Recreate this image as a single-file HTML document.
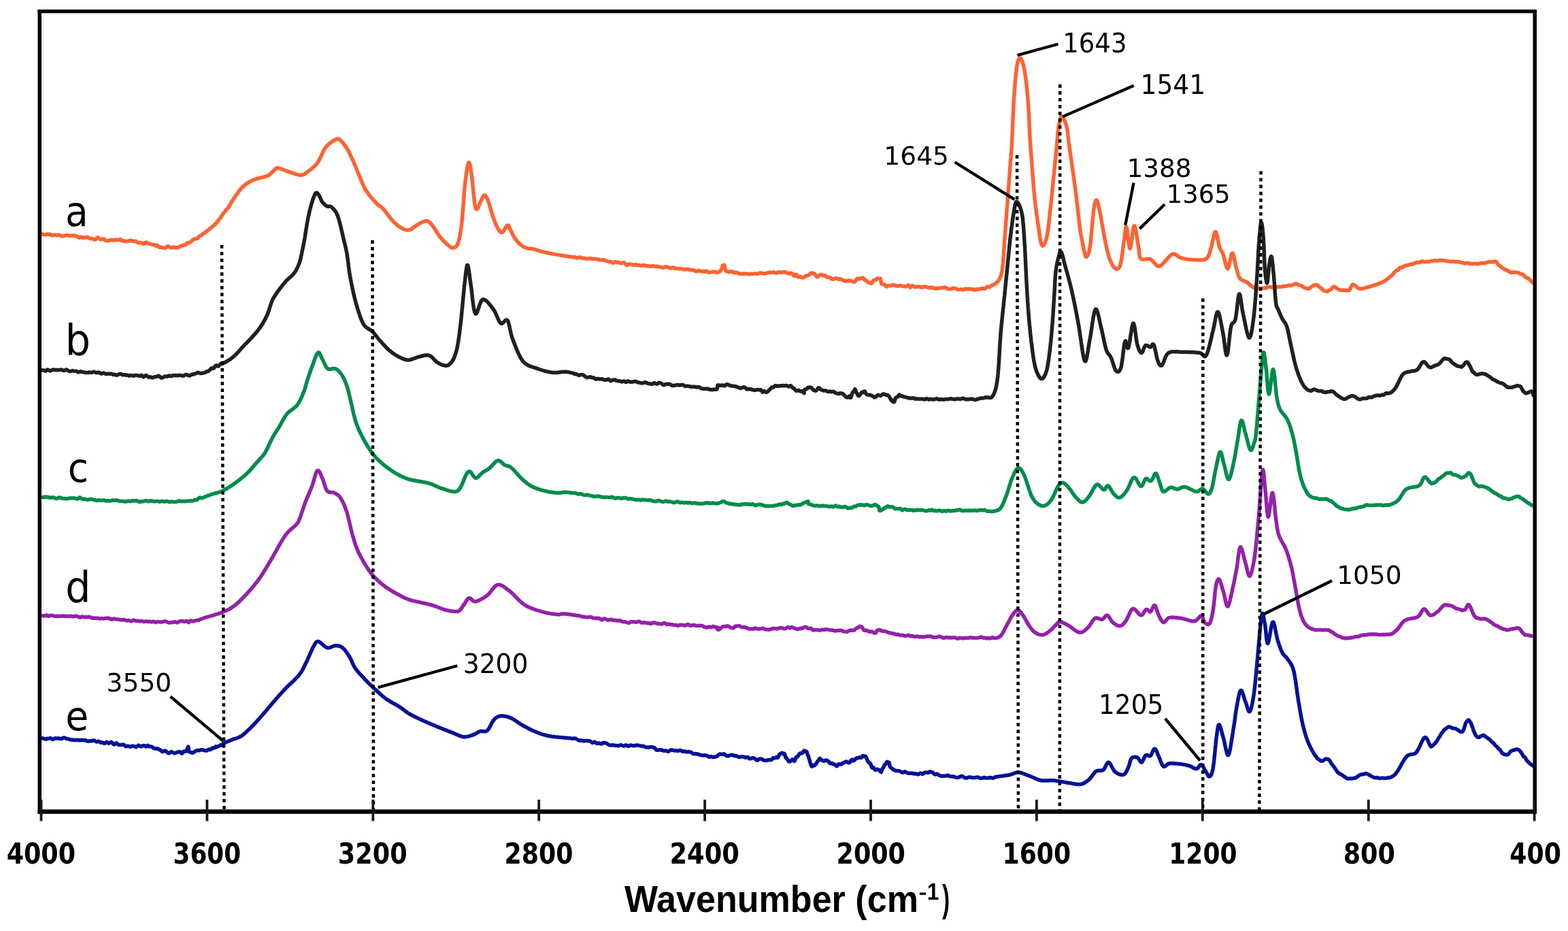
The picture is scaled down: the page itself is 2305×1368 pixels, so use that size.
<!DOCTYPE html><html><head><meta charset="utf-8"><title>FTIR spectra</title><style>html,body{margin:0;padding:0;background:#fff;overflow:hidden}svg{display:block}text{font-family:"Liberation Sans",Arial,sans-serif;fill:#000}</style></head><body>
<svg width="2305" height="1368" viewBox="0 0 2305 1368">
<rect width="2305" height="1368" fill="#fff"/>
<path d="M62.0,344.0 L62.9,344.2 L64.0,344.6 L65.2,344.9 L66.6,344.9 L68.1,344.4 L69.7,344.0 L71.4,344.3 L73.1,344.3 L74.9,344.9 L76.8,346.0 L78.7,345.6 L80.6,345.1 L82.6,345.7 L84.5,345.4 L86.4,345.2 L88.2,345.8 L90.0,346.6 L91.6,347.0 L93.2,346.7 L94.8,346.4 L96.5,346.0 L98.1,345.5 L99.8,345.8 L101.5,346.2 L103.2,346.3 L104.9,346.2 L106.6,346.1 L108.3,345.9 L110.0,346.2 L111.7,346.7 L113.4,347.4 L115.1,348.7 L116.8,349.3 L118.4,348.2 L120.1,348.5 L121.7,349.5 L123.4,349.3 L125.1,349.2 L126.8,348.7 L128.5,348.3 L130.2,349.4 L131.9,350.4 L133.6,350.4 L135.3,350.6 L136.9,351.3 L138.6,352.0 L140.3,352.0 L141.9,350.1 L143.5,348.8 L145.1,350.1 L146.8,351.5 L148.4,351.6 L149.9,351.4 L151.5,351.0 L153.2,351.3 L154.9,352.9 L156.5,353.9 L158.1,353.8 L159.7,353.7 L161.2,353.3 L162.8,352.5 L164.3,352.3 L165.9,353.0 L167.4,352.9 L169.0,352.3 L170.7,352.3 L172.4,352.7 L174.1,352.8 L175.9,351.8 L177.8,352.0 L179.2,353.8 L180.7,354.2 L182.3,353.9 L183.9,354.5 L185.5,354.8 L187.2,354.5 L188.9,354.0 L190.7,353.5 L192.4,353.5 L194.2,353.8 L195.9,354.6 L197.6,354.6 L199.4,354.2 L201.1,355.3 L202.7,356.8 L204.4,356.7 L205.9,356.3 L207.5,356.7 L208.9,357.0 L210.3,358.1 L211.7,358.5 L212.9,356.9 L215.2,356.0 L217.2,357.0 L218.9,358.0 L220.6,358.4 L222.0,358.8 L223.4,359.2 L224.8,359.4 L226.1,359.5 L227.5,360.4 L228.9,361.2 L230.4,360.4 L232.0,360.9 L233.5,363.0 L235.1,363.3 L236.6,363.1 L238.1,363.7 L239.6,363.9 L241.2,364.2 L242.8,364.4 L244.5,363.2 L246.2,361.8 L248.0,362.1 L249.5,363.0 L251.1,363.7 L252.7,364.1 L254.4,363.2 L256.2,363.2 L258.0,364.2 L259.7,364.0 L261.5,363.5 L263.2,363.1 L264.9,361.9 L266.5,361.3 L268.1,361.0 L269.5,360.1 L270.8,360.2 L272.9,359.6 L274.7,357.5 L276.3,356.6 L277.8,356.8 L279.1,356.2 L280.4,355.3 L281.7,354.3 L283.0,352.8 L284.6,351.6 L286.1,351.3 L287.4,350.8 L288.7,350.7 L290.2,350.3 L291.8,348.5 L293.0,347.2 L294.2,346.5 L295.5,346.0 L296.9,345.1 L298.3,343.5 L299.7,342.8 L301.1,341.9 L302.5,340.7 L304.0,339.6 L305.2,338.6 L306.5,337.6 L307.8,336.6 L309.2,335.5 L310.5,334.4 L311.9,333.3 L313.2,332.1 L314.5,331.0 L315.8,329.8 L317.0,328.6 L318.2,327.4 L319.4,326.0 L320.6,324.6 L321.7,323.1 L322.8,321.6 L323.9,320.1 L324.9,318.6 L325.9,317.2 L326.9,315.8 L327.8,314.5 L328.7,313.3 L330.0,311.6 L331.2,310.2 L332.3,308.9 L333.4,307.7 L334.5,306.3 L335.7,304.6 L336.5,303.4 L337.3,302.2 L338.1,300.8 L338.9,299.4 L339.8,298.0 L340.6,296.5 L341.5,295.0 L342.5,293.5 L343.5,292.0 L344.5,290.5 L345.4,289.2 L346.3,287.9 L347.3,286.5 L348.3,285.1 L349.3,283.7 L350.3,282.3 L351.4,280.9 L352.4,279.6 L353.5,278.3 L354.6,277.0 L355.7,275.8 L356.8,274.7 L358.1,273.5 L359.4,272.3 L360.8,271.2 L362.1,270.2 L363.5,269.2 L364.9,268.3 L366.3,267.5 L367.7,266.6 L369.3,265.9 L370.8,265.1 L372.3,264.4 L373.9,263.8 L375.6,263.3 L377.3,262.7 L379.1,262.2 L380.9,261.8 L382.6,261.3 L384.2,260.9 L385.7,260.5 L387.1,260.2 L388.3,259.8 L390.7,259.1 L392.3,258.8 L393.6,258.3 L395.4,257.2 L396.6,256.3 L397.9,255.0 L399.3,253.7 L400.8,252.2 L402.2,250.7 L403.6,249.4 L404.8,248.3 L405.9,247.5 L407.7,246.6 L409.0,246.8 L411.0,247.5 L412.2,247.8 L413.5,248.3 L414.9,248.8 L416.4,249.4 L418.0,250.0 L419.8,250.6 L421.6,251.3 L423.4,251.9 L424.8,252.4 L426.4,252.9 L428.0,253.5 L429.8,254.1 L431.5,254.7 L433.3,255.3 L435.0,255.9 L436.6,256.4 L438.2,256.8 L439.7,257.0 L441.0,257.2 L443.0,257.2 L444.5,257.1 L445.9,256.7 L447.2,256.0 L448.6,255.0 L450.5,253.7 L451.5,253.0 L452.6,252.2 L453.8,251.3 L455.0,250.4 L456.3,249.4 L457.6,248.4 L458.9,247.3 L460.2,246.1 L461.5,244.9 L462.8,243.7 L464.0,242.4 L465.2,241.0 L466.3,239.6 L467.2,238.4 L468.0,237.1 L468.8,235.7 L469.6,234.2 L470.3,232.7 L471.1,231.2 L471.8,229.6 L472.6,228.0 L473.3,226.5 L474.0,224.9 L474.7,223.4 L475.5,221.9 L476.2,220.5 L477.0,219.2 L477.8,217.9 L478.6,216.8 L479.8,215.3 L481.1,213.9 L482.5,212.6 L483.9,211.3 L485.2,210.2 L486.6,209.2 L488.0,208.2 L489.2,207.4 L490.5,206.6 L491.6,206.0 L492.6,205.4 L494.8,204.3 L496.3,203.9 L497.8,204.2 L499.6,205.4 L500.5,206.2 L501.5,207.1 L502.6,208.3 L503.7,209.5 L504.8,210.9 L505.9,212.4 L507.0,213.9 L508.1,215.5 L509.2,217.0 L510.2,218.6 L511.0,219.9 L511.8,221.2 L512.5,222.6 L513.3,224.0 L514.0,225.4 L514.7,226.9 L515.4,228.3 L516.1,229.8 L516.8,231.4 L517.6,232.9 L518.3,234.5 L519.0,236.1 L519.6,237.5 L520.2,238.9 L520.8,240.4 L521.4,241.8 L522.0,243.3 L522.6,244.8 L523.2,246.3 L523.9,247.8 L524.5,249.4 L525.1,250.9 L525.7,252.5 L526.4,254.1 L527.0,255.6 L527.7,257.2 L528.3,258.7 L529.0,260.2 L529.6,261.7 L530.2,263.2 L530.9,264.8 L531.5,266.4 L532.2,267.9 L532.8,269.5 L533.5,271.1 L534.2,272.6 L535.0,274.1 L535.7,275.6 L536.5,277.1 L537.3,278.6 L538.2,280.0 L539.1,281.4 L540.1,282.8 L541.1,284.3 L542.2,285.7 L543.3,287.1 L544.5,288.6 L545.6,290.0 L546.8,291.3 L547.9,292.6 L549.1,293.9 L550.2,295.1 L551.2,296.3 L552.2,297.4 L553.1,298.4 L554.0,299.3 L555.6,300.9 L556.9,301.9 L558.0,302.6 L559.0,303.2 L560.1,303.9 L561.3,304.9 L562.8,306.3 L563.6,307.2 L564.5,308.3 L565.5,309.5 L566.5,310.8 L567.5,312.1 L568.5,313.5 L569.6,314.9 L570.6,316.3 L571.7,317.7 L572.8,319.1 L573.8,320.4 L574.8,321.7 L575.8,322.8 L576.8,323.9 L578.1,325.3 L579.4,326.6 L580.6,327.8 L581.8,328.9 L583.1,330.0 L584.3,331.0 L585.5,332.0 L586.7,332.9 L587.9,333.7 L589.1,334.4 L590.8,335.4 L592.6,336.3 L594.3,337.0 L596.0,337.6 L597.8,338.0 L599.6,338.1 L601.4,337.9 L602.7,337.5 L604.1,336.9 L605.5,336.0 L607.0,335.1 L608.4,334.0 L609.8,332.9 L611.3,331.8 L612.7,330.8 L614.1,329.9 L615.4,329.1 L617.0,328.3 L618.7,327.4 L620.3,326.6 L621.9,325.9 L623.4,325.3 L624.9,324.8 L626.3,324.6 L627.7,324.7 L629.1,325.1 L630.4,325.8 L631.6,326.8 L632.8,328.0 L634.0,329.4 L635.2,330.9 L636.5,332.6 L637.4,333.8 L638.3,335.0 L639.2,336.4 L640.1,337.9 L641.1,339.4 L642.0,341.0 L643.0,342.6 L644.0,344.1 L645.0,345.6 L646.0,347.1 L647.0,348.4 L648.2,349.8 L649.4,351.2 L650.7,352.6 L652.0,354.0 L653.4,355.3 L654.7,356.6 L655.9,357.8 L657.2,358.9 L658.3,359.8 L659.3,360.7 L661.4,362.4 L663.1,363.7 L664.7,364.3 L666.3,364.2 L667.5,363.9 L668.7,363.4 L669.9,362.7 L671.1,361.5 L672.2,359.7 L673.3,357.2 L673.7,356.2 L674.0,355.1 L674.3,353.9 L674.7,352.7 L675.0,351.5 L675.3,350.2 L675.6,348.8 L675.9,347.3 L676.2,345.8 L676.5,344.1 L676.8,342.3 L677.1,340.4 L677.4,338.4 L677.7,336.3 L678.0,334.1 L678.3,331.7 L678.6,329.1 L678.7,327.9 L678.9,326.6 L679.0,325.3 L679.2,323.9 L679.3,322.4 L679.4,320.9 L679.6,319.4 L679.7,317.8 L679.9,316.2 L680.0,314.5 L680.1,312.8 L680.3,311.1 L680.4,309.3 L680.6,307.5 L680.7,305.7 L680.8,303.9 L681.0,302.1 L681.1,300.3 L681.3,298.4 L681.4,296.6 L681.5,294.8 L681.7,293.0 L681.8,291.2 L682.0,289.4 L682.1,287.6 L682.2,285.8 L682.4,284.1 L682.5,282.4 L682.7,280.7 L682.8,279.1 L682.9,277.5 L683.1,275.9 L683.2,274.4 L683.3,273.0 L683.5,271.6 L683.6,270.2 L683.8,268.9 L683.9,267.7 L684.2,265.2 L684.5,262.8 L684.8,260.4 L685.1,258.2 L685.4,256.0 L685.7,253.8 L686.0,251.8 L686.3,249.9 L686.6,248.2 L686.8,246.5 L687.1,245.0 L687.4,243.6 L687.7,242.4 L688.0,241.3 L688.3,240.4 L688.6,239.7 L688.8,239.1 L689.1,238.8 L689.5,238.7 L689.9,239.1 L690.3,239.9 L690.6,241.1 L691.0,242.7 L691.4,244.5 L691.7,246.6 L692.1,248.9 L692.4,251.3 L692.8,253.8 L693.1,256.4 L693.5,258.9 L693.7,260.2 L693.9,261.5 L694.0,263.0 L694.2,264.6 L694.4,266.2 L694.6,267.9 L694.8,269.7 L694.9,271.5 L695.1,273.3 L695.3,275.2 L695.5,277.0 L695.7,278.9 L695.8,280.8 L696.0,282.7 L696.2,284.5 L696.4,286.3 L696.6,288.1 L696.7,289.8 L696.9,291.4 L697.1,293.0 L697.2,294.5 L697.4,295.8 L697.6,297.1 L697.7,298.3 L697.9,299.3 L698.6,303.3 L699.3,305.7 L699.9,307.0 L700.6,307.4 L701.4,307.2 L702.1,306.6 L702.8,305.3 L703.6,303.5 L704.3,301.5 L705.1,299.4 L705.9,297.5 L706.7,295.8 L707.6,294.0 L708.4,292.1 L709.3,290.2 L710.2,288.7 L711.0,287.5 L711.9,287.0 L712.9,287.1 L713.9,287.9 L715.0,289.3 L716.0,291.3 L717.2,294.0 L717.6,295.2 L718.1,296.5 L718.6,297.9 L719.1,299.5 L719.6,301.2 L720.1,302.9 L720.6,304.7 L721.1,306.6 L721.6,308.4 L722.2,310.2 L722.7,312.0 L723.2,313.7 L723.7,315.3 L724.2,316.8 L724.8,318.6 L725.5,320.5 L726.1,322.3 L726.7,324.0 L727.4,325.7 L728.0,327.4 L728.7,329.0 L729.3,330.5 L729.9,331.9 L730.6,333.2 L731.2,334.4 L732.4,336.4 L733.5,338.2 L734.6,339.7 L735.8,340.8 L737.0,341.4 L738.2,341.4 L739.2,340.8 L740.2,339.6 L741.3,338.0 L742.3,336.1 L743.4,334.3 L744.4,332.7 L745.3,331.5 L746.1,330.9 L747.2,331.1 L748.1,332.3 L748.8,334.0 L749.6,336.0 L750.5,337.9 L751.2,339.2 L751.8,340.6 L752.5,342.2 L753.2,343.7 L754.0,345.3 L754.9,346.9 L755.8,348.4 L756.7,349.7 L757.8,351.1 L758.8,352.6 L760.0,354.0 L761.2,355.3 L762.3,356.6 L763.5,357.8 L764.6,358.9 L766.0,360.1 L767.4,361.2 L768.8,362.1 L770.3,362.9 L771.7,363.6 L773.3,364.2 L774.9,364.7 L776.5,365.0 L778.2,365.2 L779.9,365.3 L781.8,365.6 L783.9,366.0 L785.3,366.3 L786.7,366.7 L788.2,367.2 L789.7,367.6 L791.3,368.1 L792.9,368.6 L794.6,369.1 L796.3,369.5 L797.9,370.0 L799.6,370.4 L801.1,370.8 L802.6,371.1 L804.1,371.4 L805.6,371.7 L807.2,372.1 L808.7,372.4 L810.3,372.7 L812.0,373.0 L813.7,373.3 L815.4,373.6 L817.2,373.9 L818.6,374.1 L820.1,374.4 L821.5,374.6 L822.9,374.9 L824.4,375.1 L825.8,375.4 L827.4,375.6 L828.9,375.9 L830.6,376.1 L832.3,376.4 L834.1,376.6 L835.9,376.9 L837.9,377.1 L840.0,377.4 L841.3,377.7 L842.6,378.0 L844.0,377.7 L845.4,377.8 L846.8,378.9 L848.2,379.2 L849.6,378.5 L851.1,378.3 L852.6,378.1 L854.1,378.4 L855.7,379.3 L857.3,379.3 L858.9,379.5 L860.6,380.1 L862.3,380.1 L864.0,379.9 L865.8,379.9 L867.6,379.7 L869.5,379.9 L871.3,380.4 L873.3,380.2 L875.3,380.4 L877.3,380.7 L878.6,380.8 L880.0,381.5 L881.4,381.9 L882.8,381.8 L884.2,381.9 L885.7,382.1 L887.2,381.8 L888.7,381.9 L890.2,383.2 L891.7,383.8 L893.3,383.8 L894.9,384.4 L896.5,384.7 L898.1,384.5 L899.7,385.6 L901.4,386.5 L903.0,385.7 L904.6,384.7 L906.3,385.2 L908.0,385.8 L909.7,385.6 L911.3,386.2 L913.0,386.8 L914.7,386.5 L916.4,385.8 L918.0,386.2 L919.7,388.3 L921.4,389.6 L923.1,388.9 L924.7,388.1 L926.4,388.0 L928.0,388.5 L929.7,389.0 L931.3,389.4 L932.9,389.1 L934.5,388.7 L936.1,389.5 L937.8,389.7 L939.4,389.6 L941.0,389.9 L942.7,390.3 L944.3,390.2 L945.9,389.4 L947.5,389.9 L949.2,390.6 L950.8,390.8 L952.4,391.0 L954.0,391.1 L955.7,391.3 L957.3,391.3 L958.9,390.8 L960.5,390.7 L962.2,391.6 L963.8,391.6 L965.4,391.2 L967.0,391.6 L968.7,392.3 L970.3,392.2 L971.9,392.6 L973.6,393.3 L975.2,393.3 L976.9,392.4 L978.5,391.8 L980.2,392.1 L981.8,392.6 L983.5,393.3 L985.1,394.2 L986.8,393.9 L988.5,393.0 L990.1,393.1 L991.8,394.1 L993.4,394.7 L995.0,394.6 L996.7,394.6 L998.4,394.9 L1000.2,394.8 L1001.9,394.8 L1003.7,395.3 L1005.5,396.0 L1007.3,396.1 L1009.1,395.2 L1011.0,395.4 L1012.8,396.4 L1014.7,396.5 L1016.5,396.6 L1018.3,397.0 L1020.2,396.9 L1022.0,397.8 L1023.8,398.9 L1025.6,398.3 L1027.4,397.4 L1029.1,398.0 L1030.9,398.7 L1032.6,398.6 L1034.3,399.2 L1035.9,399.1 L1037.5,398.1 L1039.1,398.5 L1040.6,399.7 L1042.1,400.4 L1043.5,400.2 L1044.9,399.9 L1046.2,399.8 L1047.5,399.5 L1048.7,399.5 L1049.8,399.2 L1050.9,399.2 L1051.9,400.1 L1055.3,400.2 L1057.8,399.2 L1059.5,397.5 L1060.6,395.2 L1061.3,393.9 L1061.7,393.0 L1062.1,391.0 L1062.6,389.8 L1063.4,389.5 L1064.4,389.2 L1064.9,389.7 L1065.2,391.4 L1065.7,394.0 L1066.5,397.1 L1068.0,398.7 L1070.5,399.4 L1071.5,399.9 L1072.6,399.3 L1073.8,398.8 L1075.0,399.0 L1076.4,399.0 L1077.8,400.1 L1079.2,400.9 L1080.7,400.5 L1082.3,400.4 L1083.9,400.7 L1085.6,401.7 L1087.3,402.7 L1089.1,402.6 L1090.9,402.0 L1092.8,402.5 L1094.6,402.5 L1096.5,401.8 L1098.4,402.3 L1100.4,403.0 L1102.3,402.4 L1104.3,402.3 L1106.3,402.6 L1107.7,402.4 L1109.1,402.1 L1110.7,402.1 L1112.2,402.6 L1113.8,402.4 L1115.4,401.5 L1117.1,401.2 L1118.8,401.2 L1120.6,401.5 L1122.3,401.7 L1124.1,402.1 L1125.9,401.6 L1127.7,401.0 L1129.5,400.6 L1131.3,400.1 L1133.1,400.6 L1134.9,400.4 L1136.7,399.7 L1138.4,400.1 L1140.2,401.1 L1141.9,401.2 L1143.6,400.0 L1145.2,400.0 L1146.9,400.4 L1148.4,400.0 L1150.0,399.9 L1151.4,399.9 L1152.9,399.6 L1154.2,399.5 L1155.5,400.7 L1156.7,400.9 L1157.9,401.2 L1160.5,402.1 L1162.8,401.3 L1164.8,402.0 L1166.6,405.0 L1168.2,405.4 L1169.6,403.3 L1170.9,403.4 L1172.1,405.6 L1173.2,407.1 L1174.3,407.0 L1175.5,406.2 L1176.6,406.3 L1177.9,407.5 L1179.7,408.1 L1181.2,407.8 L1182.6,406.8 L1183.9,405.7 L1185.2,405.1 L1186.6,404.9 L1188.2,404.7 L1190.0,403.3 L1192.2,401.5 L1193.4,400.9 L1194.8,401.2 L1196.2,402.0 L1197.6,402.4 L1199.1,404.2 L1200.7,406.7 L1202.3,406.7 L1204.0,405.1 L1205.7,403.8 L1207.4,403.2 L1209.1,404.2 L1210.8,405.1 L1212.5,404.6 L1214.3,405.8 L1216.0,407.5 L1217.6,407.6 L1219.3,407.4 L1220.9,408.3 L1222.5,409.9 L1224.2,410.3 L1225.8,410.0 L1227.5,409.4 L1229.3,408.7 L1231.0,409.6 L1232.7,410.2 L1234.4,409.7 L1236.1,410.1 L1237.8,411.1 L1239.4,411.9 L1241.0,412.1 L1242.6,413.0 L1244.1,413.4 L1245.6,412.7 L1247.0,412.5 L1248.3,412.1 L1249.5,412.3 L1251.7,412.9 L1253.6,413.5 L1255.3,414.3 L1256.8,413.8 L1258.2,411.9 L1259.6,409.8 L1260.9,409.0 L1262.3,409.9 L1263.8,409.8 L1265.4,409.0 L1267.0,408.3 L1268.6,408.3 L1270.2,410.2 L1271.7,411.7 L1273.3,412.2 L1274.9,413.9 L1276.5,415.1 L1278.1,415.3 L1279.7,416.3 L1281.4,416.2 L1283.1,413.4 L1284.8,411.3 L1286.4,411.5 L1288.1,410.7 L1289.6,409.1 L1291.1,409.6 L1292.4,409.8 L1293.6,409.1 L1294.3,409.7 L1294.9,412.0 L1295.4,415.3 L1296.1,417.3 L1297.2,417.2 L1298.7,417.4 L1301.0,418.8 L1302.1,420.3 L1303.2,421.1 L1304.4,420.6 L1305.6,420.1 L1306.9,420.0 L1308.3,419.5 L1309.7,419.7 L1311.2,419.4 L1312.7,418.4 L1314.3,418.9 L1316.0,419.7 L1317.7,420.0 L1319.5,420.4 L1321.3,420.0 L1323.2,419.4 L1325.1,420.1 L1327.0,420.6 L1329.1,420.7 L1331.1,421.2 L1333.2,420.4 L1335.4,418.8 L1336.7,420.4 L1338.1,422.5 L1339.5,421.3 L1341.0,419.8 L1342.5,420.1 L1344.0,421.1 L1345.5,421.9 L1347.1,421.7 L1348.7,421.2 L1350.4,421.1 L1352.0,421.4 L1353.7,421.9 L1355.4,422.4 L1357.1,421.6 L1358.8,421.0 L1360.5,421.4 L1362.3,421.7 L1364.0,422.3 L1365.8,422.8 L1367.5,422.6 L1369.3,422.2 L1371.1,422.7 L1372.8,423.5 L1374.6,423.7 L1376.3,423.9 L1378.0,423.7 L1379.7,423.4 L1381.4,423.4 L1383.1,423.1 L1384.8,423.0 L1386.4,422.7 L1388.0,422.2 L1389.6,422.4 L1391.2,423.2 L1392.7,424.1 L1394.5,424.8 L1396.3,425.1 L1398.1,424.5 L1399.9,423.7 L1401.7,423.6 L1403.5,423.6 L1405.4,424.2 L1407.2,425.0 L1409.0,425.5 L1410.9,425.5 L1412.7,424.9 L1414.5,425.4 L1416.2,425.8 L1418.0,424.7 L1419.7,424.4 L1421.5,424.7 L1423.2,424.5 L1424.8,424.5 L1426.4,424.7 L1428.0,424.7 L1429.6,424.9 L1431.1,425.7 L1432.6,426.3 L1434.0,425.7 L1435.3,424.7 L1436.7,425.1 L1437.9,425.6 L1439.1,425.1 L1440.2,424.7 L1441.3,424.2 L1444.7,423.8 L1447.2,424.2 L1449.0,423.4 L1450.3,421.7 L1451.4,421.0 L1452.3,421.2 L1453.3,421.8 L1454.6,421.9 L1456.3,420.6 L1457.9,419.3 L1459.4,418.8 L1460.9,418.2 L1462.3,417.3 L1463.7,416.4 L1464.9,415.4 L1466.1,414.3 L1467.1,413.1 L1468.1,411.8 L1469.1,410.4 L1469.9,408.9 L1470.7,407.2 L1471.4,405.2 L1471.8,404.0 L1472.1,402.7 L1472.4,401.3 L1472.7,399.9 L1472.9,398.4 L1473.2,396.9 L1473.4,395.3 L1473.6,393.6 L1473.8,391.9 L1474.0,390.1 L1474.2,388.2 L1474.4,386.2 L1474.5,384.8 L1474.7,383.4 L1474.8,381.9 L1474.9,380.4 L1475.0,378.8 L1475.2,377.2 L1475.3,375.6 L1475.4,373.9 L1475.5,372.2 L1475.6,370.5 L1475.7,368.8 L1475.8,367.1 L1475.9,365.4 L1476.0,363.7 L1476.2,362.0 L1476.3,360.3 L1476.4,358.6 L1476.5,357.0 L1476.6,355.4 L1476.7,353.7 L1476.9,352.1 L1477.0,350.5 L1477.1,348.9 L1477.2,347.2 L1477.3,345.6 L1477.5,344.0 L1477.6,342.3 L1477.7,340.7 L1477.8,339.1 L1478.0,337.5 L1478.1,335.8 L1478.2,334.2 L1478.3,332.6 L1478.5,331.0 L1478.6,329.3 L1478.7,327.7 L1478.8,326.1 L1478.9,324.5 L1479.1,322.8 L1479.2,321.2 L1479.3,319.6 L1479.4,318.0 L1479.6,316.3 L1479.7,314.7 L1479.8,313.1 L1479.9,311.5 L1480.0,309.9 L1480.2,308.2 L1480.3,306.6 L1480.4,305.0 L1480.5,303.4 L1480.7,301.7 L1480.8,300.1 L1480.9,298.5 L1481.0,296.9 L1481.1,295.2 L1481.3,293.6 L1481.4,292.0 L1481.5,290.4 L1481.6,288.7 L1481.8,287.1 L1481.9,285.5 L1482.0,283.8 L1482.1,282.2 L1482.2,280.6 L1482.4,279.0 L1482.5,277.3 L1482.6,275.7 L1482.7,274.1 L1482.9,272.5 L1483.0,270.8 L1483.1,269.2 L1483.2,267.6 L1483.3,266.0 L1483.5,264.3 L1483.6,262.7 L1483.7,261.1 L1483.8,259.5 L1484.0,257.9 L1484.1,256.3 L1484.2,254.6 L1484.3,253.0 L1484.4,251.4 L1484.6,249.8 L1484.7,248.2 L1484.8,246.5 L1484.9,244.9 L1485.1,243.3 L1485.2,241.6 L1485.3,240.0 L1485.4,238.4 L1485.5,236.9 L1485.7,235.4 L1485.8,234.0 L1485.9,232.6 L1486.0,231.3 L1486.1,229.9 L1486.2,228.5 L1486.4,227.1 L1486.5,225.6 L1486.6,224.0 L1486.7,222.4 L1486.8,220.7 L1487.0,218.9 L1487.1,216.9 L1487.2,214.8 L1487.4,212.5 L1487.5,210.0 L1487.6,208.8 L1487.6,207.5 L1487.7,206.1 L1487.8,204.7 L1487.8,203.3 L1487.9,201.8 L1488.0,200.3 L1488.0,198.8 L1488.1,197.2 L1488.2,195.6 L1488.2,193.9 L1488.3,192.3 L1488.4,190.6 L1488.5,188.9 L1488.5,187.1 L1488.6,185.4 L1488.7,183.6 L1488.7,181.8 L1488.8,180.0 L1488.9,178.3 L1489.0,176.5 L1489.0,174.7 L1489.1,172.9 L1489.2,171.1 L1489.3,169.3 L1489.4,167.5 L1489.4,165.7 L1489.5,164.0 L1489.6,162.2 L1489.7,160.5 L1489.8,158.8 L1489.9,157.1 L1489.9,155.5 L1490.0,153.9 L1490.1,152.3 L1490.2,150.7 L1490.3,149.2 L1490.4,147.7 L1490.5,145.8 L1490.6,144.0 L1490.8,142.1 L1490.9,140.2 L1491.0,138.3 L1491.2,136.5 L1491.3,134.6 L1491.4,132.7 L1491.6,130.9 L1491.7,129.0 L1491.8,127.2 L1492.0,125.4 L1492.1,123.6 L1492.3,121.8 L1492.4,120.1 L1492.5,118.4 L1492.7,116.7 L1492.8,115.0 L1493.0,113.4 L1493.1,111.8 L1493.3,110.3 L1493.4,108.8 L1493.6,107.3 L1493.8,105.9 L1493.9,104.6 L1494.1,103.2 L1494.2,102.0 L1494.4,100.8 L1494.5,99.7 L1494.7,98.6 L1495.3,95.0 L1495.9,92.0 L1496.6,89.6 L1497.2,87.8 L1497.9,86.5 L1498.6,85.6 L1499.3,85.3 L1500.0,85.4 L1500.5,85.7 L1501.0,86.3 L1501.5,87.1 L1502.0,88.2 L1502.5,89.5 L1503.0,90.9 L1503.6,92.6 L1504.1,94.5 L1504.6,96.6 L1505.1,98.9 L1505.6,101.3 L1506.1,103.9 L1506.3,105.0 L1506.5,106.2 L1506.7,107.5 L1506.9,108.8 L1507.1,110.1 L1507.3,111.5 L1507.5,112.9 L1507.7,114.4 L1507.9,115.9 L1508.1,117.4 L1508.3,119.0 L1508.5,120.6 L1508.7,122.2 L1508.9,123.8 L1509.1,125.5 L1509.2,127.2 L1509.4,128.9 L1509.6,130.6 L1509.8,132.4 L1510.0,134.1 L1510.1,135.9 L1510.3,137.7 L1510.5,139.4 L1510.6,141.2 L1510.8,143.0 L1511.0,144.7 L1511.1,146.5 L1511.3,148.3 L1511.4,150.0 L1511.5,151.5 L1511.6,153.0 L1511.7,154.6 L1511.8,156.2 L1511.9,157.8 L1512.0,159.4 L1512.1,161.0 L1512.2,162.7 L1512.3,164.4 L1512.4,166.0 L1512.5,167.7 L1512.6,169.4 L1512.7,171.1 L1512.7,172.9 L1512.8,174.6 L1512.9,176.3 L1513.0,178.0 L1513.0,179.7 L1513.1,181.4 L1513.2,183.1 L1513.2,184.8 L1513.3,186.5 L1513.4,188.1 L1513.5,189.8 L1513.5,191.4 L1513.6,193.0 L1513.7,194.6 L1513.7,196.1 L1513.8,197.6 L1513.9,199.1 L1514.0,200.6 L1514.0,202.0 L1514.1,203.4 L1514.2,204.8 L1514.3,206.8 L1514.4,208.8 L1514.6,210.6 L1514.7,212.4 L1514.8,214.2 L1514.9,215.8 L1515.0,217.5 L1515.1,219.1 L1515.3,220.6 L1515.4,222.2 L1515.5,223.7 L1515.6,225.2 L1515.7,226.7 L1515.8,228.2 L1516.0,229.7 L1516.1,231.3 L1516.2,232.8 L1516.3,234.4 L1516.5,236.1 L1516.6,237.8 L1516.8,239.6 L1516.9,241.4 L1517.0,242.9 L1517.1,244.4 L1517.2,246.0 L1517.4,247.5 L1517.5,249.1 L1517.6,250.8 L1517.7,252.4 L1517.9,254.1 L1518.0,255.7 L1518.1,257.4 L1518.2,259.1 L1518.4,260.8 L1518.5,262.5 L1518.6,264.3 L1518.8,266.0 L1518.9,267.7 L1519.0,269.4 L1519.2,271.1 L1519.3,272.8 L1519.4,274.4 L1519.6,276.1 L1519.7,277.8 L1519.9,279.4 L1520.0,281.0 L1520.2,282.5 L1520.3,284.1 L1520.5,285.6 L1520.6,287.1 L1520.8,288.9 L1521.0,290.8 L1521.2,292.5 L1521.4,294.3 L1521.6,296.0 L1521.7,297.7 L1521.9,299.4 L1522.1,301.0 L1522.3,302.7 L1522.5,304.3 L1522.7,305.9 L1522.9,307.5 L1523.2,309.1 L1523.4,310.7 L1523.6,312.3 L1523.8,313.9 L1524.0,315.5 L1524.2,317.1 L1524.5,318.7 L1524.7,320.3 L1525.0,321.9 L1525.2,323.6 L1525.4,325.2 L1525.7,326.9 L1525.9,328.7 L1526.2,330.6 L1526.4,332.5 L1526.7,334.4 L1527.0,336.3 L1527.2,338.3 L1527.5,340.2 L1527.8,342.1 L1528.0,344.0 L1528.3,345.9 L1528.6,347.7 L1528.9,349.5 L1529.2,351.1 L1529.4,352.7 L1529.7,354.2 L1530.0,355.5 L1530.3,356.8 L1530.6,357.9 L1530.9,358.8 L1531.2,359.6 L1531.5,360.2 L1532.3,361.1 L1533.1,361.2 L1534.0,360.7 L1534.8,359.5 L1535.7,357.8 L1536.5,355.7 L1537.4,353.2 L1538.2,350.4 L1538.9,347.4 L1539.1,346.3 L1539.4,345.1 L1539.6,343.9 L1539.8,342.6 L1540.1,341.2 L1540.3,339.8 L1540.5,338.3 L1540.7,336.7 L1540.9,335.1 L1541.2,333.5 L1541.4,331.8 L1541.6,330.1 L1541.8,328.4 L1542.0,326.7 L1542.2,324.9 L1542.4,323.1 L1542.6,321.3 L1542.8,319.5 L1543.0,317.7 L1543.1,315.9 L1543.3,314.1 L1543.5,312.3 L1543.7,310.5 L1543.9,308.7 L1544.1,307.0 L1544.3,305.3 L1544.5,303.7 L1544.7,302.1 L1544.8,300.5 L1545.0,298.9 L1545.2,297.2 L1545.4,295.6 L1545.5,293.9 L1545.7,292.2 L1545.9,290.6 L1546.0,288.9 L1546.2,287.2 L1546.4,285.5 L1546.5,283.8 L1546.7,282.1 L1546.9,280.4 L1547.0,278.7 L1547.2,277.1 L1547.4,275.4 L1547.5,273.7 L1547.7,272.1 L1547.8,270.5 L1548.0,268.8 L1548.1,267.3 L1548.3,265.7 L1548.4,264.1 L1548.6,262.6 L1548.8,261.1 L1548.9,259.6 L1549.1,257.8 L1549.3,255.9 L1549.5,254.2 L1549.6,252.4 L1549.8,250.7 L1550.0,249.0 L1550.1,247.3 L1550.3,245.7 L1550.5,244.0 L1550.6,242.4 L1550.8,240.8 L1551.0,239.2 L1551.1,237.6 L1551.3,236.0 L1551.5,234.4 L1551.6,232.8 L1551.8,231.2 L1551.9,229.6 L1552.1,228.0 L1552.3,226.4 L1552.4,224.8 L1552.6,223.1 L1552.8,221.4 L1552.9,219.7 L1553.1,217.9 L1553.2,216.2 L1553.4,214.4 L1553.6,212.6 L1553.7,210.7 L1553.9,208.9 L1554.0,207.1 L1554.2,205.3 L1554.3,203.5 L1554.5,201.7 L1554.7,200.0 L1554.8,198.3 L1555.0,196.6 L1555.1,195.0 L1555.3,193.4 L1555.5,191.9 L1555.7,190.4 L1555.8,189.0 L1556.0,187.7 L1556.2,186.5 L1556.6,184.0 L1557.0,181.6 L1557.4,179.3 L1557.8,177.3 L1558.3,175.5 L1558.7,174.0 L1559.2,172.7 L1559.7,171.8 L1560.2,171.2 L1560.8,171.0 L1561.4,171.2 L1562.1,171.9 L1562.9,173.0 L1563.7,174.4 L1564.5,176.1 L1565.3,177.9 L1566.1,180.0 L1566.8,182.1 L1567.5,184.3 L1568.1,186.5 L1568.4,187.8 L1568.7,189.0 L1568.9,190.3 L1569.1,191.5 L1569.3,192.8 L1569.5,194.2 L1569.7,195.5 L1569.8,196.9 L1570.0,198.4 L1570.1,200.0 L1570.3,201.7 L1570.5,203.4 L1570.7,205.3 L1570.9,207.3 L1571.2,209.4 L1571.5,211.6 L1571.8,214.0 L1572.0,215.2 L1572.2,216.5 L1572.3,217.9 L1572.5,219.3 L1572.8,220.8 L1573.0,222.3 L1573.2,223.9 L1573.4,225.5 L1573.7,227.1 L1573.9,228.8 L1574.1,230.5 L1574.4,232.3 L1574.6,234.0 L1574.9,235.8 L1575.2,237.6 L1575.4,239.4 L1575.7,241.2 L1575.9,243.0 L1576.2,244.8 L1576.4,246.7 L1576.7,248.5 L1577.0,250.2 L1577.2,252.0 L1577.5,253.8 L1577.7,255.5 L1577.9,257.2 L1578.2,258.8 L1578.4,260.5 L1578.6,262.1 L1578.8,263.6 L1579.1,265.1 L1579.3,266.5 L1579.4,267.9 L1579.6,269.2 L1579.8,270.5 L1580.1,272.8 L1580.4,274.9 L1580.7,276.9 L1580.9,278.8 L1581.1,280.5 L1581.3,282.1 L1581.5,283.7 L1581.7,285.2 L1581.9,286.6 L1582.1,288.0 L1582.2,289.4 L1582.4,290.8 L1582.6,292.2 L1582.7,293.6 L1582.9,295.1 L1583.1,296.6 L1583.3,298.3 L1583.5,300.0 L1583.7,301.5 L1583.9,303.0 L1584.0,304.6 L1584.2,306.2 L1584.4,307.9 L1584.6,309.6 L1584.8,311.2 L1585.0,313.0 L1585.1,314.7 L1585.3,316.4 L1585.5,318.1 L1585.7,319.8 L1585.9,321.5 L1586.1,323.1 L1586.3,324.8 L1586.4,326.4 L1586.6,328.0 L1586.8,329.5 L1587.0,330.9 L1587.2,332.4 L1587.3,333.7 L1587.5,335.0 L1587.8,337.2 L1588.1,339.3 L1588.4,341.2 L1588.7,343.0 L1589.0,344.6 L1589.3,346.2 L1589.6,347.8 L1589.9,349.3 L1590.2,350.7 L1590.5,352.1 L1590.7,353.6 L1591.0,355.0 L1591.4,356.9 L1591.7,358.8 L1592.0,360.7 L1592.4,362.4 L1592.7,364.1 L1593.0,365.7 L1593.3,367.3 L1593.7,368.7 L1594.0,370.0 L1594.6,372.3 L1595.2,374.6 L1595.8,376.5 L1596.4,377.5 L1597.2,377.4 L1597.6,376.9 L1598.1,376.3 L1598.6,375.5 L1599.2,374.5 L1599.7,373.2 L1600.3,371.7 L1600.9,369.8 L1601.4,367.5 L1602.0,364.8 L1602.5,361.6 L1602.7,360.5 L1602.8,359.3 L1603.0,358.1 L1603.1,356.7 L1603.3,355.3 L1603.5,353.8 L1603.6,352.2 L1603.8,350.6 L1603.9,348.9 L1604.1,347.2 L1604.3,345.4 L1604.4,343.6 L1604.6,341.8 L1604.8,339.9 L1604.9,338.1 L1605.1,336.2 L1605.2,334.3 L1605.4,332.4 L1605.6,330.6 L1605.7,328.7 L1605.9,326.9 L1606.0,325.1 L1606.2,323.3 L1606.3,321.6 L1606.5,320.0 L1606.7,318.3 L1606.8,316.8 L1607.0,315.3 L1607.1,313.9 L1607.3,312.5 L1607.4,311.2 L1607.6,310.1 L1607.7,309.0 L1608.2,305.5 L1608.7,302.5 L1609.2,299.9 L1609.7,297.8 L1610.1,296.2 L1610.6,295.0 L1611.1,294.2 L1611.6,293.9 L1612.1,294.0 L1612.5,294.4 L1612.8,295.0 L1613.2,295.9 L1613.6,297.0 L1614.0,298.4 L1614.4,299.9 L1614.8,301.6 L1615.2,303.5 L1615.6,305.5 L1616.0,307.6 L1616.5,309.7 L1616.9,311.9 L1617.4,314.2 L1617.7,315.5 L1617.9,316.8 L1618.2,318.2 L1618.5,319.7 L1618.7,321.2 L1619.0,322.8 L1619.3,324.4 L1619.6,326.1 L1619.9,327.8 L1620.2,329.5 L1620.5,331.3 L1620.8,333.0 L1621.1,334.8 L1621.4,336.5 L1621.7,338.3 L1622.0,340.0 L1622.3,341.8 L1622.6,343.5 L1622.9,345.1 L1623.2,346.8 L1623.5,348.4 L1623.8,349.9 L1624.1,351.4 L1624.4,352.8 L1624.8,354.6 L1625.2,356.5 L1625.5,358.3 L1625.9,360.0 L1626.3,361.8 L1626.7,363.5 L1627.0,365.1 L1627.4,366.8 L1627.8,368.4 L1628.2,370.0 L1628.5,371.5 L1628.9,373.0 L1629.3,374.4 L1629.7,375.8 L1630.1,377.2 L1630.5,378.5 L1631.0,379.7 L1631.4,380.9 L1632.2,383.0 L1633.1,384.9 L1634.0,386.8 L1634.9,388.5 L1635.8,390.1 L1636.7,391.5 L1637.6,392.7 L1638.5,393.7 L1639.4,394.4 L1640.2,394.9 L1641.5,395.3 L1642.7,395.2 L1643.9,394.5 L1645.1,393.1 L1646.2,390.9 L1647.2,387.9 L1647.5,386.9 L1647.8,385.7 L1648.0,384.4 L1648.3,383.0 L1648.6,381.5 L1648.8,379.9 L1649.1,378.3 L1649.3,376.5 L1649.6,374.8 L1649.8,373.0 L1650.1,371.1 L1650.3,369.3 L1650.5,367.4 L1650.8,365.6 L1651.0,363.8 L1651.2,362.0 L1651.5,360.3 L1651.7,358.6 L1651.9,357.0 L1652.1,355.5 L1652.3,354.1 L1652.5,352.8 L1652.8,350.5 L1653.2,348.1 L1653.5,345.7 L1653.7,343.3 L1654.0,341.1 L1654.3,339.0 L1654.5,337.1 L1654.8,335.6 L1655.0,334.4 L1655.3,333.6 L1655.7,333.3 L1656.0,333.5 L1656.2,334.0 L1656.4,334.9 L1656.7,336.1 L1656.9,337.6 L1657.2,339.3 L1657.4,341.3 L1657.7,343.4 L1657.9,345.6 L1658.2,347.9 L1658.4,350.2 L1658.7,352.5 L1659.0,354.7 L1659.2,356.8 L1659.5,358.8 L1659.8,360.6 L1660.1,362.1 L1660.3,363.4 L1660.6,364.3 L1660.9,364.9 L1661.2,365.1 L1661.5,364.8 L1661.8,364.2 L1662.0,363.2 L1662.3,361.9 L1662.6,360.3 L1662.9,358.5 L1663.2,356.5 L1663.5,354.3 L1663.8,352.1 L1664.1,349.7 L1664.4,347.4 L1664.7,345.1 L1665.0,342.8 L1665.3,340.6 L1665.6,338.6 L1665.9,336.8 L1666.2,335.2 L1666.5,333.8 L1666.8,332.8 L1667.1,332.1 L1667.4,331.8 L1667.7,331.9 L1668.1,332.3 L1668.4,333.1 L1668.7,334.1 L1669.1,335.4 L1669.4,336.9 L1669.8,338.6 L1670.1,340.5 L1670.4,342.4 L1670.8,344.5 L1671.1,346.6 L1671.4,348.8 L1671.8,350.9 L1672.1,353.0 L1672.4,355.0 L1672.7,356.9 L1673.0,358.6 L1673.2,360.2 L1673.5,361.6 L1673.9,363.8 L1674.2,365.9 L1674.4,367.9 L1674.5,369.9 L1674.7,371.7 L1674.8,373.5 L1675.1,375.1 L1675.4,376.6 L1675.8,377.9 L1676.3,379.0 L1677.0,380.0 L1678.3,380.9 L1679.8,381.2 L1681.6,381.2 L1683.5,380.9 L1685.4,380.6 L1687.4,380.4 L1689.3,380.4 L1691.0,380.9 L1692.3,381.6 L1693.6,382.7 L1694.9,384.0 L1696.1,385.3 L1697.4,386.8 L1698.6,388.1 L1699.8,389.4 L1701.0,390.4 L1702.1,391.1 L1703.3,391.4 L1704.7,391.2 L1706.1,390.6 L1707.4,389.5 L1708.7,388.3 L1710.0,386.8 L1711.3,385.3 L1712.6,383.9 L1713.9,382.6 L1715.2,381.3 L1716.5,379.9 L1717.8,378.4 L1719.0,376.9 L1720.3,375.5 L1721.7,374.3 L1723.0,373.5 L1724.4,373.0 L1725.8,373.0 L1727.2,373.5 L1728.6,374.3 L1730.0,375.3 L1731.5,376.4 L1733.1,377.4 L1734.8,378.4 L1736.7,379.1 L1738.1,379.5 L1739.5,379.8 L1741.1,380.1 L1742.7,380.4 L1744.3,380.7 L1746.0,380.9 L1747.7,381.2 L1749.4,381.4 L1751.1,381.5 L1752.8,381.6 L1754.4,381.7 L1756.0,381.8 L1757.9,381.9 L1759.8,382.0 L1761.7,382.1 L1763.6,382.1 L1765.5,382.1 L1767.3,382.0 L1769.1,381.8 L1770.7,381.4 L1772.2,380.8 L1773.5,380.0 L1774.5,379.1 L1775.4,378.0 L1776.2,376.7 L1776.9,375.3 L1777.4,373.8 L1778.0,372.1 L1778.5,370.4 L1778.9,368.7 L1779.4,366.9 L1779.9,365.1 L1780.5,363.3 L1781.0,361.8 L1781.4,360.0 L1781.9,358.0 L1782.3,355.9 L1782.8,353.7 L1783.2,351.6 L1783.7,349.4 L1784.1,347.4 L1784.5,345.5 L1785.0,343.9 L1785.4,342.5 L1785.8,341.4 L1786.3,340.7 L1786.7,340.5 L1787.1,340.8 L1787.6,341.5 L1788.0,342.6 L1788.5,344.0 L1788.9,345.8 L1789.4,347.7 L1789.8,349.8 L1790.2,352.0 L1790.7,354.2 L1791.1,356.3 L1791.5,358.4 L1792.0,360.3 L1792.4,361.9 L1792.8,363.3 L1793.6,365.4 L1794.3,366.9 L1795.1,368.2 L1795.8,369.3 L1796.5,370.5 L1797.3,371.9 L1798.1,373.9 L1798.6,375.3 L1799.1,377.0 L1799.6,378.9 L1800.1,381.0 L1800.6,383.2 L1801.1,385.4 L1801.6,387.5 L1802.2,389.5 L1802.7,391.3 L1803.2,392.8 L1803.8,394.0 L1804.3,394.7 L1804.8,394.9 L1805.3,394.5 L1805.8,393.6 L1806.2,392.1 L1806.7,390.3 L1807.2,388.2 L1807.7,385.8 L1808.2,383.4 L1808.7,381.0 L1809.2,378.7 L1809.6,376.6 L1810.1,374.8 L1810.6,373.4 L1811.0,372.5 L1811.5,372.1 L1812.0,372.3 L1812.4,372.9 L1812.8,374.0 L1813.3,375.3 L1813.7,376.9 L1814.2,378.7 L1814.6,380.7 L1815.0,382.8 L1815.5,384.9 L1815.9,386.9 L1816.3,389.0 L1816.7,390.8 L1817.1,392.5 L1817.5,394.0 L1818.1,396.0 L1818.6,398.0 L1819.1,399.8 L1819.5,401.6 L1820.0,403.3 L1820.5,404.8 L1821.1,406.3 L1821.8,407.7 L1822.6,408.9 L1823.8,410.2 L1825.3,411.2 L1826.8,412.0 L1828.5,412.7 L1830.2,413.3 L1831.9,414.1 L1833.5,415.0 L1834.9,416.0 L1836.2,417.2 L1837.4,418.4 L1838.7,419.7 L1840.1,420.9 L1841.6,421.8 L1843.2,422.5 L1845.0,423.6 L1846.3,424.7 L1847.7,424.7 L1849.2,423.9 L1850.8,423.6 L1852.4,423.6 L1854.0,423.7 L1855.7,423.8 L1857.4,423.2 L1859.1,423.0 L1860.9,423.2 L1862.6,422.5 L1864.3,421.5 L1865.9,421.4 L1867.5,421.8 L1869.1,422.0 L1870.8,422.0 L1872.4,422.0 L1874.1,421.5 L1875.8,421.2 L1877.5,421.5 L1879.1,421.6 L1880.8,421.4 L1882.5,421.4 L1884.2,421.3 L1885.8,420.8 L1887.5,420.3 L1889.1,420.4 L1890.8,420.6 L1892.5,420.0 L1894.2,419.2 L1895.9,419.2 L1897.6,419.8 L1899.2,419.2 L1900.9,418.1 L1902.4,417.7 L1904.0,417.1 L1905.4,416.8 L1906.8,417.4 L1908.7,418.3 L1910.4,419.1 L1912.0,419.4 L1913.5,419.8 L1915.0,421.0 L1916.5,422.3 L1917.9,422.9 L1919.4,423.2 L1920.9,423.8 L1922.5,424.2 L1924.0,424.3 L1925.5,423.4 L1927.0,421.9 L1928.6,420.8 L1930.1,419.8 L1931.7,419.0 L1933.3,418.6 L1934.9,418.5 L1936.3,418.7 L1937.7,419.8 L1939.2,421.4 L1940.7,422.5 L1942.3,423.4 L1943.8,425.0 L1945.3,426.7 L1946.7,427.4 L1948.1,427.4 L1949.5,428.1 L1950.7,428.5 L1952.5,427.7 L1954.1,426.4 L1955.7,425.8 L1957.1,424.7 L1958.5,422.8 L1959.8,421.6 L1961.2,421.1 L1962.8,421.7 L1964.3,423.1 L1965.8,424.3 L1967.3,425.0 L1968.7,425.5 L1970.0,426.3 L1971.9,426.5 L1973.6,426.3 L1975.2,426.1 L1976.9,426.3 L1978.6,426.9 L1980.3,427.1 L1982.0,426.9 L1983.6,426.6 L1984.5,425.6 L1985.3,423.6 L1986.1,421.5 L1987.0,419.5 L1987.9,418.3 L1989.0,418.0 L1990.1,418.4 L1991.3,419.3 L1992.6,419.9 L1994.0,421.0 L1995.4,422.6 L1996.9,423.5 L1998.4,424.0 L1999.9,424.3 L2001.4,424.2 L2003.0,424.0 L2004.6,423.7 L2006.4,423.2 L2008.3,422.6 L2010.5,422.0 L2011.8,421.6 L2013.3,421.2 L2014.8,420.8 L2016.4,420.3 L2018.1,419.8 L2019.8,419.2 L2021.5,418.7 L2023.2,418.1 L2024.9,417.5 L2026.5,416.9 L2028.0,416.4 L2029.4,415.8 L2030.7,415.3 L2032.7,414.4 L2034.4,413.5 L2035.8,412.7 L2037.2,411.8 L2038.5,410.9 L2039.9,409.8 L2041.5,408.5 L2042.6,407.4 L2043.7,406.4 L2044.9,405.5 L2046.1,404.8 L2047.3,403.4 L2048.5,401.8 L2049.7,400.5 L2051.0,399.0 L2052.3,397.7 L2053.6,397.3 L2054.9,397.0 L2056.2,395.2 L2057.5,393.6 L2058.8,393.1 L2060.1,393.3 L2061.4,393.1 L2062.8,392.0 L2064.2,390.9 L2065.8,390.5 L2067.4,390.1 L2069.1,389.6 L2071.0,389.4 L2072.3,388.9 L2073.7,388.1 L2075.2,388.2 L2076.7,388.3 L2078.2,387.4 L2079.9,386.4 L2081.5,386.0 L2083.2,385.6 L2084.9,385.7 L2086.6,385.7 L2088.3,384.8 L2090.0,383.9 L2091.6,384.1 L2093.3,384.6 L2094.9,384.9 L2096.4,384.8 L2097.9,384.4 L2099.6,384.3 L2101.3,384.4 L2102.9,383.9 L2104.5,383.4 L2106.0,383.3 L2107.6,383.0 L2109.1,382.8 L2110.6,383.1 L2112.2,383.3 L2113.8,382.9 L2115.4,382.5 L2117.1,382.6 L2118.9,382.4 L2120.8,382.4 L2122.2,382.7 L2123.7,383.0 L2125.3,383.3 L2126.9,383.4 L2128.5,383.5 L2130.2,384.1 L2131.9,384.4 L2133.6,384.2 L2135.3,384.1 L2137.0,384.4 L2138.8,384.7 L2140.5,384.5 L2142.2,384.5 L2143.8,384.8 L2145.5,385.1 L2147.1,385.5 L2148.7,385.9 L2150.2,386.3 L2151.7,386.6 L2153.5,387.0 L2155.3,386.7 L2157.0,386.3 L2158.7,386.8 L2160.4,387.4 L2162.1,387.5 L2163.7,387.5 L2165.3,387.7 L2166.8,387.6 L2168.4,387.3 L2169.9,387.5 L2171.4,387.9 L2172.9,387.7 L2174.4,387.2 L2175.9,387.0 L2177.8,386.6 L2179.6,386.5 L2181.5,386.8 L2183.3,386.5 L2185.1,385.7 L2186.9,385.2 L2188.7,385.0 L2190.3,384.9 L2191.9,384.9 L2193.4,384.9 L2194.8,384.7 L2196.1,384.2 L2198.0,384.1 L2199.5,384.7 L2200.7,386.2 L2201.8,388.1 L2202.8,389.5 L2204.0,390.1 L2205.5,391.1 L2206.8,392.3 L2208.2,393.3 L2209.6,394.1 L2211.1,395.2 L2212.6,396.3 L2214.2,396.5 L2215.7,397.2 L2217.4,398.5 L2219.0,399.5 L2220.5,400.3 L2222.1,400.6 L2223.8,400.1 L2225.5,399.8 L2227.2,400.1 L2228.9,400.4 L2230.6,400.4 L2232.2,400.8 L2233.7,401.6 L2235.1,402.5 L2237.0,402.9 L2238.7,403.3 L2240.3,405.0 L2241.8,406.5 L2243.2,407.5 L2244.6,408.2 L2245.9,408.5 L2247.4,409.7 L2248.8,411.0 L2250.1,412.4 L2251.3,413.6 L2252.3,414.6 L2253.0,415.3" fill="none" stroke="#FF6232" stroke-width="5.5" stroke-linejoin="round" stroke-linecap="round"/>
<path d="M61.6,544.1 L62.5,544.1 L63.5,544.1 L64.6,544.1 L65.8,544.7 L67.1,545.2 L68.5,543.9 L70.0,543.0 L71.6,544.0 L73.2,545.0 L74.9,544.6 L76.6,543.6 L78.4,543.0 L80.2,543.5 L82.1,543.7 L84.0,543.5 L85.9,543.8 L87.8,543.4 L89.7,543.1 L91.6,543.8 L93.4,544.6 L95.3,544.1 L97.1,543.0 L98.9,543.8 L100.4,544.9 L101.9,545.4 L103.5,545.7 L105.0,545.1 L106.6,544.7 L108.2,545.1 L109.8,545.4 L111.4,545.1 L113.0,545.6 L114.6,546.8 L116.3,546.8 L117.9,545.8 L119.6,546.0 L121.2,546.7 L122.9,546.7 L124.5,547.3 L126.2,547.6 L127.9,547.6 L129.5,547.5 L131.2,547.0 L132.8,547.3 L134.5,547.5 L136.1,546.8 L137.8,546.3 L139.4,546.7 L141.1,547.6 L142.7,547.8 L144.3,547.0 L145.9,547.2 L147.6,548.5 L149.2,549.2 L150.8,548.5 L152.5,548.0 L154.1,548.6 L155.7,549.5 L157.3,549.5 L159.0,549.1 L160.6,549.3 L162.2,549.2 L163.8,549.2 L165.5,550.2 L167.1,550.5 L168.7,550.3 L170.3,551.1 L172.0,551.3 L173.6,550.3 L175.2,549.7 L176.8,549.4 L178.5,549.8 L180.1,550.9 L181.7,550.7 L183.4,550.6 L185.0,551.4 L186.6,551.1 L188.2,551.5 L189.8,552.3 L191.5,551.6 L193.1,551.5 L194.7,552.1 L196.3,552.2 L198.0,551.8 L199.6,551.3 L201.2,551.6 L202.8,551.9 L204.4,552.3 L206.1,552.4 L207.7,551.3 L209.3,552.4 L210.9,554.0 L212.6,552.7 L214.2,551.4 L215.8,551.9 L217.4,553.6 L219.0,554.4 L220.7,553.8 L222.3,554.1 L223.9,555.1 L225.5,554.7 L227.2,553.7 L228.8,553.7 L230.4,553.6 L232.0,552.3 L233.7,552.2 L235.4,554.1 L237.1,555.3 L238.8,554.8 L240.6,554.0 L242.3,553.0 L244.1,553.0 L245.8,553.3 L247.6,552.3 L249.4,552.0 L251.1,552.9 L252.9,552.4 L254.6,551.5 L256.3,551.7 L258.0,551.5 L259.7,551.8 L261.3,551.9 L262.9,551.4 L264.5,551.6 L266.0,551.8 L267.5,551.9 L269.0,552.2 L270.4,551.9 L271.7,551.0 L273.1,550.4 L274.3,550.6 L276.7,551.7 L278.9,552.1 L280.9,550.7 L282.7,550.0 L284.3,550.2 L285.9,549.3 L287.3,548.8 L288.8,548.4 L290.2,547.5 L291.6,547.3 L293.0,548.1 L294.6,548.5 L296.2,548.4 L297.8,548.2 L299.3,547.9 L300.9,547.6 L302.5,546.6 L304.1,545.8 L305.6,545.7 L307.2,544.8 L308.8,543.3 L310.3,541.4 L311.9,540.8 L313.5,541.5 L315.1,540.1 L316.6,537.6 L318.2,536.9 L319.7,538.0 L321.2,538.1 L322.7,536.2 L324.2,534.7 L325.7,534.7 L327.2,534.5 L328.7,533.6 L330.2,532.8 L331.7,532.0 L333.1,531.1 L334.6,530.3 L336.0,529.4 L337.4,528.5 L338.8,527.6 L340.1,526.6 L341.4,525.6 L342.6,524.6 L343.8,523.5 L345.0,522.5 L346.1,521.4 L347.2,520.3 L348.3,519.1 L349.4,518.0 L350.5,516.8 L351.6,515.6 L352.7,514.3 L353.9,513.0 L355.1,511.7 L356.3,510.4 L357.6,509.0 L358.6,507.9 L359.7,506.8 L360.7,505.7 L361.9,504.6 L363.0,503.4 L364.1,502.2 L365.3,501.0 L366.5,499.7 L367.7,498.5 L368.9,497.2 L370.1,496.0 L371.2,494.7 L372.4,493.4 L373.5,492.2 L374.6,490.9 L375.7,489.7 L376.7,488.5 L377.7,487.3 L378.7,486.1 L379.6,484.9 L380.7,483.4 L381.8,481.9 L382.9,480.4 L383.8,479.0 L384.8,477.5 L385.7,476.1 L386.6,474.7 L387.4,473.2 L388.2,471.8 L389.0,470.4 L389.7,468.9 L390.5,467.5 L391.2,466.0 L392.0,464.5 L392.7,463.0 L393.4,461.6 L393.9,460.1 L394.5,458.6 L395.0,457.1 L395.5,455.6 L395.9,454.1 L396.4,452.6 L396.8,451.1 L397.3,449.6 L397.8,448.0 L398.3,446.5 L398.8,445.0 L399.4,443.5 L400.0,441.9 L400.7,440.4 L401.5,438.9 L402.3,437.5 L403.1,436.2 L404.0,434.7 L404.9,433.3 L405.9,431.9 L406.8,430.4 L407.9,429.0 L408.9,427.5 L410.0,426.1 L411.0,424.7 L412.1,423.3 L413.2,421.9 L414.2,420.6 L415.2,419.3 L416.2,418.1 L417.2,416.9 L418.1,415.8 L419.0,414.7 L420.4,413.1 L421.7,411.7 L423.1,410.4 L424.3,409.2 L425.6,408.1 L426.8,407.1 L428.0,406.0 L429.1,405.0 L430.2,404.0 L431.2,402.8 L432.2,401.6 L433.2,400.2 L434.2,398.7 L435.1,397.3 L435.9,395.8 L436.7,394.3 L437.4,392.7 L438.1,391.2 L438.8,389.6 L439.4,388.1 L440.0,386.5 L440.6,384.9 L441.0,383.3 L441.5,381.8 L441.9,380.2 L442.2,378.6 L442.6,376.9 L442.9,375.3 L443.3,373.5 L443.6,371.8 L444.0,370.0 L444.3,368.5 L444.7,366.9 L445.0,365.4 L445.3,363.8 L445.7,362.2 L446.0,360.5 L446.3,358.9 L446.7,357.2 L447.0,355.4 L447.3,353.7 L447.7,351.9 L448.0,350.0 L448.3,348.5 L448.5,346.9 L448.8,345.3 L449.0,343.7 L449.3,342.0 L449.5,340.3 L449.8,338.6 L450.0,336.9 L450.3,335.2 L450.6,333.4 L450.8,331.7 L451.1,330.0 L451.4,328.3 L451.7,326.6 L452.0,325.0 L452.3,323.4 L452.6,321.7 L453.0,320.0 L453.3,318.4 L453.7,316.7 L454.0,315.0 L454.4,313.4 L454.8,311.7 L455.1,310.1 L455.5,308.5 L455.9,306.9 L456.3,305.4 L456.7,303.9 L457.1,302.4 L457.5,301.0 L458.1,299.1 L458.7,297.1 L459.3,295.1 L459.9,293.2 L460.6,291.3 L461.2,289.5 L461.9,287.9 L462.5,286.4 L463.1,285.2 L463.7,284.2 L464.3,283.5 L465.9,283.2 L467.4,284.7 L468.8,286.9 L470.0,289.0 L470.8,290.4 L471.4,291.9 L472.0,293.5 L472.6,295.0 L473.5,296.5 L474.7,297.9 L476.1,299.4 L477.6,300.8 L479.1,302.0 L480.5,303.0 L482.1,303.4 L483.7,303.2 L485.3,303.3 L487.2,304.3 L488.0,305.0 L488.9,305.8 L489.8,306.7 L490.7,307.7 L491.7,308.8 L492.7,310.0 L493.7,311.5 L494.6,313.2 L495.6,315.2 L496.5,317.5 L496.9,318.7 L497.3,319.9 L497.8,321.3 L498.2,322.8 L498.7,324.3 L499.1,326.0 L499.5,327.6 L500.0,329.4 L500.4,331.1 L500.9,332.9 L501.3,334.8 L501.7,336.6 L502.1,338.4 L502.6,340.2 L503.0,342.0 L503.4,343.8 L503.8,345.5 L504.1,347.1 L504.5,348.7 L504.8,350.2 L505.2,351.7 L505.5,353.0 L506.0,355.1 L506.5,356.9 L506.9,358.6 L507.3,360.2 L507.6,361.6 L508.0,363.0 L508.3,364.4 L508.6,365.8 L508.9,367.2 L509.2,368.7 L509.5,370.3 L509.9,372.1 L510.2,374.0 L510.4,375.3 L510.6,376.7 L510.8,378.1 L511.0,379.6 L511.2,381.1 L511.4,382.6 L511.6,384.1 L511.8,385.7 L512.0,387.2 L512.2,388.9 L512.3,390.5 L512.5,392.1 L512.8,393.8 L513.0,395.5 L513.2,397.2 L513.4,399.0 L513.7,400.7 L514.0,402.5 L514.3,404.2 L514.6,406.0 L514.9,407.4 L515.1,408.9 L515.4,410.4 L515.7,412.0 L516.0,413.5 L516.3,415.1 L516.7,416.7 L517.0,418.4 L517.3,420.0 L517.7,421.6 L518.0,423.3 L518.4,425.0 L518.7,426.6 L519.1,428.3 L519.4,429.9 L519.8,431.6 L520.2,433.2 L520.6,434.8 L521.0,436.4 L521.3,438.0 L521.7,439.5 L522.1,441.0 L522.5,442.5 L522.9,444.0 L523.3,445.4 L523.8,447.2 L524.3,448.9 L524.8,450.7 L525.3,452.4 L525.8,454.1 L526.4,455.9 L526.9,457.6 L527.4,459.3 L528.0,460.9 L528.5,462.5 L529.1,464.1 L529.6,465.7 L530.2,467.2 L530.8,468.6 L531.3,470.0 L531.9,471.4 L532.5,472.6 L533.1,473.9 L533.7,475.0 L534.3,476.1 L535.5,478.0 L536.8,479.5 L538.2,480.8 L539.5,481.8 L540.9,482.7 L542.3,483.5 L543.6,484.3 L545.0,485.1 L546.3,486.0 L547.5,487.1 L548.7,488.3 L549.7,489.5 L550.7,490.8 L551.7,492.0 L552.7,493.3 L553.7,494.6 L554.7,496.0 L555.8,497.3 L557.0,498.8 L558.4,500.3 L559.4,501.4 L560.4,502.5 L561.4,503.6 L562.5,504.8 L563.6,506.1 L564.8,507.3 L565.9,508.6 L567.1,509.8 L568.3,511.1 L569.6,512.3 L570.8,513.5 L572.1,514.6 L573.4,515.8 L574.7,516.8 L576.0,517.8 L577.3,518.8 L578.7,519.7 L580.2,520.7 L581.6,521.6 L583.1,522.5 L584.7,523.4 L586.2,524.3 L587.7,525.1 L589.3,525.8 L590.8,526.5 L592.3,527.1 L593.7,527.7 L595.2,528.2 L596.6,528.5 L597.9,528.8 L599.7,529.0 L601.4,528.9 L603.0,528.7 L604.7,528.2 L606.3,527.7 L607.8,527.1 L609.4,526.5 L610.9,525.9 L612.4,525.3 L613.9,524.8 L615.4,524.4 L617.2,524.0 L619.0,523.5 L620.8,523.0 L622.5,522.5 L624.2,522.2 L625.9,521.9 L627.6,521.8 L629.2,521.9 L630.8,522.2 L632.2,522.8 L633.5,523.7 L634.9,524.8 L636.1,526.0 L637.4,527.4 L638.7,528.7 L640.0,530.1 L641.3,531.3 L642.6,532.4 L644.0,533.2 L645.6,534.0 L647.3,534.9 L649.1,535.7 L650.9,536.4 L652.7,536.9 L654.4,537.2 L656.1,537.3 L657.8,537.0 L659.3,536.4 L660.3,535.7 L661.3,534.9 L662.2,534.0 L663.1,533.0 L664.0,531.8 L664.9,530.5 L665.8,529.0 L666.6,527.5 L667.4,525.8 L668.2,524.0 L668.9,522.0 L669.6,520.0 L670.3,517.8 L670.6,516.6 L671.0,515.4 L671.3,514.2 L671.6,512.9 L671.9,511.7 L672.2,510.3 L672.4,509.0 L672.7,507.6 L673.0,506.2 L673.2,504.8 L673.5,503.3 L673.7,501.8 L673.9,500.2 L674.2,498.6 L674.4,497.0 L674.6,495.3 L674.9,493.6 L675.1,491.9 L675.3,490.1 L675.6,488.2 L675.8,486.3 L676.0,484.4 L676.3,482.4 L676.5,480.4 L676.8,478.3 L677.0,477.0 L677.1,475.6 L677.3,474.2 L677.5,472.7 L677.6,471.2 L677.8,469.7 L678.0,468.1 L678.1,466.5 L678.3,464.8 L678.5,463.1 L678.6,461.4 L678.8,459.7 L679.0,457.9 L679.1,456.1 L679.3,454.3 L679.5,452.5 L679.7,450.7 L679.8,448.9 L680.0,447.1 L680.2,445.3 L680.3,443.5 L680.5,441.7 L680.7,439.9 L680.8,438.1 L681.0,436.3 L681.2,434.5 L681.3,432.8 L681.5,431.1 L681.7,429.4 L681.8,427.8 L682.0,426.2 L682.1,424.6 L682.3,423.0 L682.4,421.5 L682.6,420.1 L682.7,418.7 L682.9,417.3 L683.0,416.0 L683.1,414.8 L683.3,413.6 L683.4,412.5 L683.8,409.4 L684.1,406.5 L684.4,403.8 L684.7,401.3 L685.0,399.0 L685.3,396.9 L685.5,395.0 L685.8,393.4 L686.0,392.1 L686.3,391.0 L686.5,390.2 L686.8,389.7 L687.1,389.4 L687.4,389.5 L687.6,389.8 L687.9,390.4 L688.1,391.2 L688.4,392.3 L688.6,393.6 L688.9,395.0 L689.1,396.6 L689.4,398.4 L689.6,400.3 L689.9,402.2 L690.2,404.3 L690.4,406.4 L690.7,408.5 L691.0,410.7 L691.3,412.9 L691.6,415.0 L691.9,417.1 L692.2,419.1 L692.4,420.5 L692.6,422.1 L692.9,423.7 L693.1,425.5 L693.3,427.3 L693.5,429.2 L693.7,431.1 L694.0,433.1 L694.2,435.1 L694.4,437.1 L694.6,439.1 L694.9,441.1 L695.1,443.1 L695.4,445.0 L695.6,446.9 L695.9,448.8 L696.1,450.5 L696.4,452.2 L696.7,453.7 L696.9,455.2 L697.2,456.5 L697.5,457.7 L697.8,458.7 L698.1,459.6 L698.5,460.3 L698.8,460.8 L699.4,461.2 L700.1,460.8 L700.8,459.8 L701.5,458.4 L702.2,456.5 L702.9,454.4 L703.7,452.1 L704.5,449.7 L705.3,447.4 L706.1,445.2 L707.0,443.3 L707.9,441.7 L708.8,440.6 L709.7,440.0 L710.7,439.9 L711.9,440.2 L713.0,440.8 L714.3,441.6 L715.5,442.6 L716.8,443.8 L718.0,445.2 L719.3,446.7 L720.5,448.2 L721.8,449.8 L722.9,451.3 L724.0,452.8 L725.1,454.2 L726.0,455.5 L726.9,457.0 L727.8,458.7 L728.6,460.4 L729.4,462.2 L730.2,464.0 L731.0,465.8 L731.7,467.5 L732.4,469.2 L733.2,470.7 L733.9,472.1 L734.6,473.3 L735.4,474.3 L736.1,475.0 L737.8,475.4 L739.5,474.3 L741.2,472.4 L742.8,470.7 L744.4,469.9 L745.9,470.7 L746.4,471.5 L746.9,472.4 L747.3,473.6 L747.7,474.8 L748.1,476.3 L748.5,477.8 L748.8,479.4 L749.2,481.2 L749.6,483.0 L750.0,484.8 L750.4,486.7 L750.8,488.7 L751.3,490.6 L751.8,492.5 L752.4,494.4 L752.9,496.3 L753.6,498.1 L754.1,499.5 L754.7,501.0 L755.3,502.5 L755.8,504.0 L756.4,505.6 L757.1,507.3 L757.7,508.9 L758.4,510.6 L759.0,512.3 L759.7,513.9 L760.4,515.6 L761.1,517.2 L761.9,518.8 L762.6,520.4 L763.4,522.0 L764.1,523.5 L764.9,524.9 L765.7,526.3 L766.5,527.6 L767.3,528.8 L768.2,530.0 L769.0,531.0 L770.3,532.4 L771.6,533.6 L773.0,534.7 L774.4,535.6 L775.8,536.5 L777.3,537.2 L778.8,537.9 L780.3,538.4 L781.8,539.0 L783.4,539.5 L784.9,540.0 L786.4,540.4 L787.9,540.9 L789.4,541.4 L790.9,541.9 L792.5,542.5 L794.0,543.0 L795.6,543.5 L797.2,544.0 L798.7,544.5 L800.3,545.0 L801.9,545.4 L803.4,545.8 L805.0,546.1 L806.6,546.4 L808.1,546.7 L809.7,547.0 L811.2,547.2 L812.8,547.4 L814.4,547.5 L816.1,547.5 L817.6,547.5 L819.2,547.4 L820.8,547.2 L822.3,547.0 L823.9,546.8 L825.5,546.6 L827.2,546.5 L828.9,546.4 L830.6,546.3 L832.4,546.4 L834.3,546.6 L835.7,546.8 L837.1,547.1 L838.5,547.4 L839.9,547.7 L841.3,547.9 L842.8,548.5 L844.2,549.4 L845.7,549.7 L847.3,549.6 L848.8,550.4 L850.4,551.5 L852.0,551.3 L853.7,550.7 L855.4,550.4 L857.2,550.9 L859.1,552.3 L860.9,553.7 L862.9,554.9 L864.2,554.6 L865.6,554.1 L867.0,554.0 L868.5,553.9 L870.0,554.8 L871.5,555.1 L873.0,555.1 L874.6,556.4 L876.2,557.2 L877.8,556.6 L879.4,556.5 L881.0,556.9 L882.7,557.1 L884.3,556.8 L886.0,557.2 L887.7,558.1 L889.4,558.3 L891.0,558.3 L892.7,557.7 L894.4,557.1 L896.1,558.6 L897.7,559.8 L899.4,559.1 L901.0,558.5 L902.7,557.9 L904.3,557.9 L905.9,559.4 L907.6,559.7 L909.2,559.7 L910.9,560.0 L912.5,560.3 L914.2,561.0 L915.8,560.4 L917.5,559.9 L919.1,561.3 L920.8,561.4 L922.4,559.9 L924.1,560.2 L925.8,561.0 L927.4,561.3 L929.1,561.2 L930.7,560.9 L932.4,560.6 L934.0,560.4 L935.7,560.9 L937.3,561.7 L939.0,562.1 L940.6,562.3 L942.3,562.8 L943.9,563.2 L945.6,562.7 L947.2,561.9 L948.9,561.8 L950.5,562.5 L952.2,563.4 L953.8,563.8 L955.4,563.8 L956.9,564.2 L958.5,564.5 L960.1,563.4 L961.6,562.7 L963.2,563.2 L964.8,564.3 L966.3,564.1 L967.9,562.7 L969.5,562.2 L971.0,562.8 L972.6,563.6 L974.3,565.0 L975.9,565.9 L977.5,565.1 L979.2,564.3 L980.9,564.6 L982.6,564.4 L984.4,564.3 L986.2,565.4 L988.0,566.6 L989.9,566.7 L991.8,566.2 L993.2,566.0 L994.7,565.8 L996.2,565.4 L997.8,565.9 L999.4,566.1 L1001.1,565.8 L1002.8,565.4 L1004.5,565.7 L1006.2,567.1 L1008.0,567.5 L1009.8,567.1 L1011.6,567.4 L1013.4,567.7 L1015.2,568.2 L1017.0,568.3 L1018.9,568.2 L1020.7,568.2 L1022.5,568.7 L1024.3,569.2 L1026.1,568.7 L1027.8,568.8 L1029.6,570.1 L1031.3,570.9 L1033.0,571.1 L1034.6,571.5 L1036.2,571.2 L1037.8,571.2 L1039.3,571.3 L1040.7,571.2 L1042.1,572.0 L1043.5,572.4 L1044.7,572.4 L1045.9,572.7 L1047.1,572.7 L1048.1,572.3 L1049.1,572.1 L1052.7,572.4 L1054.3,571.2 L1054.7,568.6 L1054.7,566.8 L1054.9,566.0 L1056.1,566.0 L1059.1,566.2 L1060.1,566.4 L1061.3,566.2 L1062.6,565.9 L1063.9,566.7 L1065.4,567.0 L1066.9,565.7 L1068.5,564.7 L1070.2,565.1 L1071.9,565.9 L1073.7,566.6 L1075.5,567.1 L1077.3,567.3 L1079.2,567.5 L1081.1,567.7 L1083.0,568.4 L1084.9,568.9 L1086.8,569.9 L1088.7,570.6 L1090.6,569.7 L1092.4,569.1 L1094.2,569.0 L1096.0,569.9 L1097.7,571.8 L1099.3,571.9 L1100.9,571.2 L1102.4,571.9 L1103.8,572.0 L1105.1,572.1 L1106.3,572.8 L1108.9,573.4 L1111.3,573.1 L1113.4,572.6 L1115.2,572.8 L1116.9,573.0 L1118.4,572.8 L1119.8,574.5 L1121.1,576.3 L1122.4,575.4 L1123.7,574.6 L1125.0,575.8 L1126.4,576.6 L1128.0,575.8 L1129.5,574.5 L1130.9,572.9 L1132.3,571.6 L1133.6,570.3 L1134.8,568.9 L1136.2,569.0 L1137.6,568.7 L1139.1,566.9 L1140.7,566.6 L1142.2,567.4 L1143.7,567.2 L1145.3,567.0 L1146.9,567.1 L1148.6,566.7 L1150.3,566.6 L1152.1,566.8 L1153.8,566.8 L1155.6,566.5 L1157.3,566.7 L1159.0,567.9 L1160.7,567.7 L1162.3,566.6 L1163.9,568.4 L1165.6,570.1 L1167.3,570.8 L1169.1,573.1 L1170.8,574.4 L1172.5,573.8 L1174.1,573.6 L1175.7,574.7 L1177.1,575.1 L1178.5,574.8 L1179.7,575.2 L1180.8,576.7 L1182.2,577.7 L1182.1,576.4 L1181.8,574.1 L1182.8,572.6 L1186.5,571.2 L1187.5,569.5 L1188.6,569.2 L1189.8,569.2 L1191.1,569.2 L1192.5,569.6 L1194.0,570.8 L1195.6,573.1 L1197.3,573.9 L1199.0,574.3 L1200.8,573.2 L1202.7,569.9 L1204.5,569.9 L1206.4,572.2 L1208.4,573.2 L1210.3,573.9 L1212.3,574.0 L1214.2,574.0 L1216.1,575.2 L1218.0,575.4 L1219.9,575.1 L1221.8,575.7 L1223.6,575.4 L1225.3,575.3 L1227.0,576.6 L1228.6,577.6 L1230.1,577.8 L1231.5,578.3 L1232.9,578.7 L1234.1,578.1 L1235.2,577.7 L1238.3,578.3 L1240.8,580.2 L1242.8,582.6 L1244.3,583.7 L1245.5,584.1 L1246.5,584.0 L1247.5,582.7 L1248.4,582.2 L1249.5,584.3 L1250.8,584.2 L1251.8,581.1 L1252.8,578.0 L1253.6,576.1 L1254.4,575.9 L1255.2,575.5 L1255.9,573.9 L1256.7,571.8 L1257.7,573.2 L1258.7,576.4 L1259.6,577.8 L1260.6,579.8 L1261.5,581.5 L1262.4,581.8 L1263.4,581.1 L1264.3,579.6 L1265.3,578.5 L1266.5,576.7 L1268.1,576.1 L1269.2,576.6 L1270.3,575.1 L1271.5,575.0 L1272.8,578.0 L1274.2,579.6 L1275.7,580.1 L1277.3,580.4 L1279.1,580.3 L1281.0,581.1 L1282.4,581.7 L1283.9,582.7 L1285.5,584.1 L1287.2,583.5 L1289.0,581.5 L1290.8,580.2 L1292.6,581.0 L1294.5,581.6 L1296.3,580.3 L1298.0,579.0 L1299.7,578.9 L1301.2,579.8 L1302.6,580.4 L1303.9,580.3 L1305.6,581.1 L1307.0,582.5 L1308.3,584.5 L1309.4,587.2 L1310.4,588.4 L1311.3,587.8 L1312.1,589.3 L1313.0,590.7 L1313.9,590.8 L1314.9,590.2 L1315.5,587.9 L1316.1,585.6 L1316.7,584.5 L1317.6,584.1 L1319.0,583.4 L1321.1,580.9 L1322.1,580.0 L1323.3,581.6 L1324.5,582.1 L1325.7,581.8 L1327.1,582.2 L1328.5,583.0 L1330.0,583.2 L1331.6,583.6 L1333.2,584.2 L1334.8,584.7 L1336.5,584.8 L1338.3,585.2 L1340.1,585.1 L1342.0,584.8 L1343.9,585.3 L1345.8,586.3 L1347.7,586.1 L1349.7,586.1 L1351.1,586.4 L1352.5,586.2 L1354.0,586.3 L1355.5,586.2 L1357.1,586.3 L1358.6,586.9 L1360.2,586.7 L1361.9,585.8 L1363.5,586.1 L1365.2,587.0 L1366.9,586.6 L1368.6,586.3 L1370.3,586.8 L1372.0,587.0 L1373.8,586.7 L1375.5,586.1 L1377.3,585.8 L1379.0,586.7 L1380.7,587.2 L1382.5,586.8 L1384.2,586.7 L1385.9,587.1 L1387.7,587.0 L1389.4,586.7 L1391.0,586.5 L1392.7,586.6 L1394.4,586.6 L1396.1,586.0 L1397.8,585.7 L1399.6,586.3 L1401.4,586.6 L1403.2,586.8 L1405.0,586.6 L1406.8,585.9 L1408.7,585.9 L1410.5,586.4 L1412.3,586.4 L1414.1,585.4 L1415.9,585.2 L1417.7,586.0 L1419.5,586.8 L1421.2,586.9 L1422.9,586.5 L1424.5,586.8 L1426.1,586.5 L1427.6,586.0 L1429.1,586.4 L1430.6,586.7 L1431.9,587.0 L1433.2,587.5 L1434.5,587.4 L1435.6,586.8 L1438.5,586.0 L1440.8,585.3 L1442.7,585.0 L1444.2,584.9 L1445.5,585.1 L1446.6,584.9 L1447.7,584.1 L1448.8,583.7 L1450.0,584.1 L1451.9,584.1 L1453.6,584.2 L1455.2,584.4 L1456.6,584.3 L1458.0,583.5 L1459.4,581.8 L1459.9,580.9 L1460.4,580.0 L1460.9,579.0 L1461.4,577.9 L1461.8,576.8 L1462.3,575.6 L1462.8,574.3 L1463.2,572.9 L1463.6,571.3 L1464.1,569.6 L1464.5,567.8 L1464.9,565.8 L1465.3,563.6 L1465.7,561.3 L1466.0,558.7 L1466.4,556.0 L1466.5,554.9 L1466.7,553.7 L1466.8,552.4 L1466.9,551.1 L1467.1,549.8 L1467.2,548.4 L1467.3,546.9 L1467.4,545.4 L1467.6,543.9 L1467.7,542.4 L1467.8,540.8 L1467.9,539.2 L1468.0,537.5 L1468.1,535.9 L1468.3,534.2 L1468.4,532.5 L1468.5,530.7 L1468.6,529.0 L1468.7,527.2 L1468.8,525.4 L1468.9,523.7 L1469.0,521.9 L1469.1,520.1 L1469.2,518.3 L1469.3,516.5 L1469.4,514.8 L1469.5,513.0 L1469.6,511.2 L1469.7,509.5 L1469.8,507.8 L1469.9,506.1 L1470.0,504.4 L1470.1,502.7 L1470.2,501.1 L1470.3,499.5 L1470.4,497.9 L1470.6,496.3 L1470.7,494.8 L1470.8,493.3 L1470.9,491.9 L1471.0,490.5 L1471.2,488.6 L1471.3,486.7 L1471.5,484.9 L1471.6,483.1 L1471.8,481.3 L1472.0,479.6 L1472.1,477.9 L1472.3,476.2 L1472.5,474.6 L1472.6,473.0 L1472.8,471.4 L1472.9,469.8 L1473.1,468.2 L1473.3,466.7 L1473.4,465.2 L1473.6,463.6 L1473.8,462.1 L1473.9,460.6 L1474.1,459.1 L1474.2,457.6 L1474.4,456.1 L1474.6,454.6 L1474.7,453.1 L1474.9,451.5 L1475.1,450.0 L1475.2,448.4 L1475.4,446.9 L1475.5,445.3 L1475.7,443.7 L1475.9,442.1 L1476.0,440.5 L1476.2,438.9 L1476.3,437.3 L1476.5,435.6 L1476.7,434.0 L1476.8,432.4 L1477.0,430.8 L1477.2,429.2 L1477.3,427.6 L1477.5,426.0 L1477.6,424.4 L1477.8,422.8 L1478.0,421.2 L1478.1,419.5 L1478.3,417.9 L1478.5,416.3 L1478.6,414.7 L1478.8,413.1 L1478.9,411.5 L1479.1,409.9 L1479.3,408.3 L1479.4,406.7 L1479.6,405.1 L1479.8,403.4 L1479.9,401.8 L1480.1,400.2 L1480.2,398.6 L1480.4,397.0 L1480.6,395.4 L1480.7,393.7 L1480.9,392.1 L1481.0,390.5 L1481.2,388.8 L1481.4,387.1 L1481.5,385.5 L1481.7,383.8 L1481.9,382.1 L1482.0,380.4 L1482.2,378.7 L1482.3,377.1 L1482.5,375.4 L1482.7,373.7 L1482.8,372.0 L1483.0,370.4 L1483.2,368.7 L1483.3,367.1 L1483.5,365.5 L1483.6,363.9 L1483.8,362.3 L1484.0,360.7 L1484.1,359.1 L1484.3,357.6 L1484.5,356.1 L1484.6,354.6 L1484.8,353.1 L1484.9,351.6 L1485.1,350.2 L1485.3,348.3 L1485.5,346.5 L1485.7,344.7 L1486.0,342.9 L1486.2,341.1 L1486.4,339.3 L1486.6,337.6 L1486.8,335.9 L1487.0,334.2 L1487.2,332.5 L1487.5,330.9 L1487.7,329.3 L1487.9,327.7 L1488.1,326.2 L1488.3,324.7 L1488.5,323.2 L1488.7,321.7 L1489.0,320.3 L1489.2,319.0 L1489.4,317.6 L1489.6,316.3 L1489.8,315.1 L1490.2,312.9 L1490.5,310.6 L1490.9,308.4 L1491.2,306.3 L1491.6,304.3 L1491.9,302.4 L1492.2,300.8 L1492.6,299.3 L1493.0,298.1 L1493.4,297.2 L1493.9,296.6 L1494.4,296.4 L1495.0,296.5 L1495.6,297.0 L1496.3,297.8 L1497.0,298.9 L1497.7,300.2 L1498.5,301.8 L1499.2,303.5 L1499.9,305.4 L1500.6,307.5 L1501.3,309.8 L1501.9,312.1 L1502.4,314.5 L1502.6,315.7 L1502.8,317.0 L1503.0,318.4 L1503.2,319.8 L1503.4,321.3 L1503.6,322.8 L1503.8,324.4 L1503.9,326.0 L1504.1,327.7 L1504.2,329.4 L1504.4,331.1 L1504.5,332.8 L1504.7,334.6 L1504.8,336.3 L1504.9,338.1 L1505.0,339.9 L1505.1,341.7 L1505.2,343.4 L1505.4,345.2 L1505.5,346.9 L1505.6,348.6 L1505.7,350.3 L1505.8,351.9 L1505.9,353.5 L1506.0,355.0 L1506.1,356.8 L1506.2,358.6 L1506.4,360.3 L1506.5,362.1 L1506.6,363.8 L1506.7,365.5 L1506.7,367.2 L1506.8,368.9 L1506.9,370.6 L1507.0,372.2 L1507.1,373.9 L1507.1,375.5 L1507.2,377.2 L1507.3,378.8 L1507.4,380.4 L1507.4,382.0 L1507.5,383.6 L1507.6,385.2 L1507.6,386.8 L1507.7,388.4 L1507.8,390.0 L1507.9,391.7 L1508.0,393.4 L1508.1,395.1 L1508.1,396.7 L1508.2,398.3 L1508.3,399.9 L1508.4,401.5 L1508.4,403.1 L1508.5,404.6 L1508.6,406.2 L1508.7,407.8 L1508.7,409.4 L1508.8,411.1 L1508.9,412.7 L1509.0,414.4 L1509.1,416.2 L1509.2,418.0 L1509.3,419.8 L1509.4,421.7 L1509.5,423.1 L1509.6,424.6 L1509.7,426.1 L1509.8,427.6 L1509.8,429.1 L1509.9,430.6 L1510.0,432.2 L1510.1,433.8 L1510.2,435.4 L1510.3,437.0 L1510.4,438.6 L1510.5,440.2 L1510.6,441.9 L1510.7,443.5 L1510.9,445.2 L1511.0,446.8 L1511.1,448.5 L1511.2,450.2 L1511.3,451.8 L1511.4,453.5 L1511.6,455.1 L1511.7,456.8 L1511.8,458.4 L1511.9,460.1 L1512.1,461.7 L1512.2,463.3 L1512.3,464.9 L1512.5,466.5 L1512.6,468.1 L1512.8,469.8 L1512.9,471.4 L1513.0,473.1 L1513.2,474.7 L1513.3,476.4 L1513.5,478.0 L1513.7,479.6 L1513.8,481.3 L1514.0,482.9 L1514.1,484.6 L1514.3,486.2 L1514.5,487.8 L1514.6,489.5 L1514.8,491.1 L1515.0,492.7 L1515.1,494.3 L1515.3,495.9 L1515.5,497.4 L1515.7,499.0 L1515.8,500.5 L1516.0,502.0 L1516.2,503.5 L1516.4,505.0 L1516.6,506.8 L1516.9,508.7 L1517.1,510.5 L1517.3,512.3 L1517.6,514.1 L1517.8,515.9 L1518.0,517.8 L1518.3,519.5 L1518.5,521.3 L1518.8,523.1 L1519.0,524.8 L1519.3,526.5 L1519.5,528.1 L1519.8,529.7 L1520.1,531.3 L1520.4,532.8 L1520.7,534.3 L1521.0,535.7 L1521.3,537.1 L1521.6,538.4 L1521.9,539.7 L1522.6,542.0 L1523.3,544.2 L1524.0,546.3 L1524.8,548.2 L1525.6,550.0 L1526.4,551.6 L1527.2,553.0 L1528.0,554.2 L1528.8,555.2 L1529.6,555.9 L1530.3,556.4 L1531.5,556.6 L1532.6,556.1 L1533.8,555.0 L1534.9,553.5 L1535.9,551.6 L1537.0,549.3 L1537.9,546.7 L1538.3,545.6 L1538.6,544.3 L1538.9,543.1 L1539.3,541.7 L1539.6,540.3 L1539.9,538.8 L1540.1,537.2 L1540.4,535.6 L1540.7,534.0 L1541.0,532.2 L1541.2,530.5 L1541.5,528.6 L1541.8,526.8 L1542.0,524.9 L1542.3,522.9 L1542.5,520.9 L1542.8,518.9 L1543.0,517.5 L1543.1,516.1 L1543.3,514.7 L1543.5,513.2 L1543.7,511.8 L1543.8,510.2 L1544.0,508.7 L1544.2,507.1 L1544.3,505.5 L1544.5,503.9 L1544.7,502.2 L1544.8,500.6 L1545.0,498.9 L1545.1,497.2 L1545.3,495.6 L1545.5,493.9 L1545.6,492.2 L1545.8,490.5 L1545.9,488.8 L1546.1,487.1 L1546.2,485.4 L1546.3,483.7 L1546.5,482.1 L1546.6,480.4 L1546.8,478.8 L1546.9,477.2 L1547.0,475.6 L1547.2,474.0 L1547.3,472.4 L1547.4,470.7 L1547.5,469.1 L1547.6,467.5 L1547.8,465.8 L1547.9,464.2 L1548.0,462.5 L1548.1,460.9 L1548.2,459.2 L1548.3,457.6 L1548.4,456.0 L1548.5,454.3 L1548.6,452.7 L1548.7,451.1 L1548.8,449.5 L1548.9,447.9 L1549.0,446.3 L1549.1,444.7 L1549.2,443.2 L1549.3,441.6 L1549.4,440.1 L1549.5,438.6 L1549.6,437.1 L1549.7,435.6 L1549.8,433.8 L1549.9,432.0 L1550.0,430.1 L1550.1,428.3 L1550.2,426.5 L1550.3,424.7 L1550.4,422.9 L1550.5,421.2 L1550.6,419.4 L1550.7,417.7 L1550.8,416.0 L1550.8,414.3 L1550.9,412.7 L1551.0,411.0 L1551.1,409.5 L1551.2,407.9 L1551.3,406.4 L1551.4,404.9 L1551.5,403.5 L1551.7,402.1 L1551.8,400.8 L1552.0,398.6 L1552.3,396.5 L1552.6,394.6 L1552.8,392.8 L1553.1,391.0 L1553.4,389.4 L1553.7,387.9 L1554.0,386.4 L1554.3,385.0 L1554.6,383.6 L1555.0,382.3 L1555.3,381.0 L1555.9,378.7 L1556.5,376.3 L1557.1,374.1 L1557.7,372.1 L1558.4,370.7 L1559.1,369.9 L1559.8,370.1 L1560.2,370.6 L1560.6,371.4 L1561.0,372.4 L1561.4,373.6 L1561.8,375.0 L1562.3,376.6 L1562.7,378.3 L1563.2,380.1 L1563.6,382.1 L1564.1,384.2 L1564.7,386.3 L1565.2,388.4 L1565.8,390.6 L1566.1,391.9 L1566.5,393.1 L1566.9,394.5 L1567.3,395.8 L1567.6,397.2 L1568.0,398.6 L1568.5,400.1 L1568.9,401.6 L1569.3,403.1 L1569.7,404.6 L1570.2,406.2 L1570.6,407.8 L1571.0,409.4 L1571.5,411.0 L1571.9,412.7 L1572.4,414.4 L1572.8,416.1 L1573.2,417.8 L1573.7,419.6 L1574.1,421.4 L1574.5,423.2 L1575.0,425.0 L1575.4,426.8 L1575.7,428.2 L1576.0,429.6 L1576.4,431.1 L1576.7,432.6 L1577.0,434.1 L1577.3,435.6 L1577.7,437.1 L1578.0,438.6 L1578.3,440.1 L1578.6,441.7 L1579.0,443.3 L1579.3,444.9 L1579.6,446.5 L1579.9,448.1 L1580.2,449.7 L1580.6,451.3 L1580.9,453.0 L1581.2,454.6 L1581.5,456.3 L1581.9,457.9 L1582.2,459.6 L1582.5,461.3 L1582.8,463.0 L1583.2,464.7 L1583.5,466.4 L1583.8,468.1 L1584.1,469.8 L1584.5,471.5 L1584.8,473.3 L1585.1,475.0 L1585.4,476.5 L1585.7,478.1 L1585.9,479.8 L1586.2,481.5 L1586.5,483.3 L1586.8,485.1 L1587.1,487.0 L1587.3,488.9 L1587.6,490.9 L1587.9,492.9 L1588.2,494.8 L1588.5,496.8 L1588.8,498.8 L1589.1,500.8 L1589.3,502.8 L1589.6,504.8 L1589.9,506.8 L1590.2,508.7 L1590.5,510.6 L1590.8,512.4 L1591.0,514.2 L1591.3,515.9 L1591.6,517.6 L1591.9,519.2 L1592.1,520.8 L1592.4,522.2 L1592.7,523.6 L1592.9,524.8 L1593.2,526.0 L1593.5,527.1 L1593.7,528.0 L1594.0,528.8 L1594.2,529.5 L1594.5,530.1 L1594.7,530.5 L1595.1,530.9 L1595.5,530.9 L1595.9,530.6 L1596.3,530.0 L1596.7,529.1 L1597.0,527.9 L1597.4,526.5 L1597.7,524.9 L1598.1,523.1 L1598.4,521.1 L1598.8,519.0 L1599.1,516.9 L1599.5,514.6 L1599.8,512.3 L1600.2,510.0 L1600.5,507.7 L1600.9,505.5 L1601.2,503.3 L1601.6,501.2 L1602.0,499.2 L1602.3,497.8 L1602.6,496.2 L1602.9,494.6 L1603.1,492.9 L1603.4,491.1 L1603.7,489.2 L1604.0,487.3 L1604.3,485.3 L1604.6,483.3 L1604.9,481.3 L1605.2,479.2 L1605.5,477.2 L1605.8,475.2 L1606.1,473.2 L1606.4,471.2 L1606.7,469.3 L1607.0,467.4 L1607.3,465.7 L1607.7,464.0 L1608.0,462.4 L1608.3,460.9 L1608.6,459.5 L1608.9,458.3 L1609.2,457.2 L1609.5,456.3 L1609.8,455.5 L1610.1,454.9 L1610.4,454.5 L1610.9,454.2 L1611.3,454.4 L1611.8,454.9 L1612.3,455.7 L1612.8,456.9 L1613.3,458.3 L1613.8,459.9 L1614.2,461.7 L1614.7,463.6 L1615.2,465.7 L1615.7,467.9 L1616.2,470.1 L1616.6,472.3 L1617.1,474.5 L1617.6,476.6 L1618.0,478.7 L1618.5,480.6 L1618.9,482.3 L1619.3,483.8 L1619.7,485.4 L1620.1,487.0 L1620.4,488.6 L1620.8,490.3 L1621.2,492.0 L1621.5,493.8 L1621.9,495.5 L1622.2,497.2 L1622.6,498.9 L1622.9,500.6 L1623.3,502.3 L1623.6,503.9 L1624.0,505.5 L1624.3,507.0 L1624.7,508.5 L1625.0,509.9 L1625.4,511.2 L1625.7,512.5 L1626.1,513.6 L1627.0,516.0 L1627.9,517.8 L1628.8,519.2 L1629.7,520.4 L1630.6,521.5 L1631.5,522.6 L1632.4,524.0 L1633.3,525.7 L1633.9,527.1 L1634.5,528.8 L1635.1,530.6 L1635.7,532.5 L1636.3,534.5 L1637.0,536.4 L1637.6,538.3 L1638.2,540.1 L1638.8,541.7 L1639.4,543.1 L1640.0,544.2 L1640.6,545.0 L1642.1,546.1 L1643.5,546.4 L1645.0,545.7 L1646.4,543.7 L1647.8,540.2 L1648.1,539.2 L1648.3,538.0 L1648.6,536.7 L1648.9,535.2 L1649.1,533.5 L1649.4,531.8 L1649.7,530.0 L1649.9,528.1 L1650.2,526.1 L1650.4,524.1 L1650.7,522.0 L1650.9,520.0 L1651.2,518.0 L1651.4,516.0 L1651.7,514.0 L1651.9,512.1 L1652.2,510.3 L1652.4,508.7 L1652.6,507.1 L1652.9,505.6 L1653.1,504.3 L1653.3,503.2 L1653.6,502.3 L1653.8,501.6 L1654.7,500.9 L1655.4,502.9 L1656.2,506.2 L1656.9,509.6 L1657.8,511.7 L1658.7,511.2 L1659.0,510.5 L1659.2,509.5 L1659.5,508.2 L1659.8,506.8 L1660.1,505.1 L1660.4,503.3 L1660.8,501.4 L1661.1,499.3 L1661.4,497.2 L1661.7,495.0 L1662.1,492.8 L1662.4,490.6 L1662.7,488.5 L1663.1,486.4 L1663.4,484.4 L1663.7,482.5 L1664.0,480.8 L1664.4,479.2 L1664.7,477.9 L1665.0,476.7 L1665.3,475.9 L1665.6,475.3 L1665.9,475.0 L1666.2,475.1 L1666.6,475.6 L1666.9,476.4 L1667.2,477.5 L1667.6,478.9 L1667.9,480.6 L1668.2,482.4 L1668.5,484.4 L1668.8,486.6 L1669.1,488.8 L1669.4,491.1 L1669.7,493.4 L1670.0,495.6 L1670.3,497.8 L1670.7,499.9 L1671.0,501.8 L1671.3,503.6 L1671.6,505.1 L1671.9,506.4 L1672.7,509.0 L1673.4,511.3 L1674.2,513.4 L1674.9,515.1 L1675.7,516.5 L1676.5,517.5 L1677.2,518.2 L1678.0,518.5 L1678.9,518.0 L1679.7,516.7 L1680.5,514.7 L1681.3,512.5 L1682.2,510.4 L1683.1,508.7 L1684.0,507.6 L1685.8,507.4 L1687.7,508.3 L1689.5,509.5 L1691.2,510.0 L1692.9,508.2 L1694.4,505.8 L1696.0,506.4 L1696.4,507.2 L1696.7,508.4 L1697.1,509.7 L1697.5,511.3 L1697.9,513.0 L1698.4,514.9 L1698.8,516.9 L1699.2,518.8 L1699.6,520.8 L1700.0,522.8 L1700.4,524.6 L1700.9,526.4 L1701.3,528.0 L1701.7,529.4 L1702.1,530.5 L1703.2,533.3 L1704.3,535.4 L1705.4,536.8 L1706.7,537.2 L1708.1,536.6 L1708.7,535.9 L1709.4,534.8 L1710.0,533.4 L1710.6,531.7 L1711.3,529.9 L1712.0,528.0 L1712.7,526.1 L1713.5,524.2 L1714.4,522.4 L1715.4,520.8 L1716.6,519.5 L1717.8,518.5 L1719.1,517.8 L1720.5,517.4 L1721.9,517.0 L1723.5,516.8 L1725.2,516.7 L1726.9,516.7 L1728.6,516.7 L1730.4,516.8 L1732.3,516.9 L1734.1,517.1 L1735.9,517.2 L1737.7,517.3 L1739.5,517.3 L1741.1,517.3 L1742.7,517.3 L1744.4,517.3 L1746.1,517.4 L1747.9,517.4 L1749.7,517.5 L1751.4,517.6 L1753.2,517.6 L1754.9,517.7 L1756.6,517.8 L1758.2,517.9 L1759.7,518.1 L1761.1,518.2 L1762.4,518.3 L1763.6,518.5 L1766.0,519.4 L1767.9,521.0 L1769.3,522.6 L1770.5,523.7 L1771.8,523.7 L1773.2,522.1 L1773.6,521.3 L1774.1,520.3 L1774.5,519.2 L1775.0,518.0 L1775.4,516.6 L1775.9,515.2 L1776.4,513.6 L1776.8,512.0 L1777.3,510.2 L1777.7,508.5 L1778.2,506.6 L1778.7,504.8 L1779.1,502.9 L1779.6,501.0 L1780.0,499.1 L1780.4,497.2 L1780.9,495.4 L1781.3,493.6 L1781.7,491.9 L1782.1,490.2 L1782.5,488.6 L1782.9,487.1 L1783.4,485.3 L1783.8,483.3 L1784.2,481.3 L1784.7,479.2 L1785.1,477.0 L1785.5,474.9 L1785.9,472.7 L1786.3,470.7 L1786.6,468.7 L1787.0,466.7 L1787.4,465.0 L1787.8,463.3 L1788.2,461.9 L1788.5,460.6 L1788.9,459.6 L1789.3,458.8 L1789.7,458.4 L1790.1,458.2 L1790.5,458.4 L1790.9,458.8 L1791.3,459.6 L1791.7,460.6 L1792.2,461.9 L1792.6,463.3 L1793.0,465.0 L1793.4,466.8 L1793.8,468.7 L1794.2,470.7 L1794.6,472.8 L1795.1,474.9 L1795.5,477.0 L1795.9,479.2 L1796.3,481.3 L1796.6,483.3 L1797.0,485.3 L1797.4,487.1 L1797.7,488.6 L1798.0,490.3 L1798.3,492.2 L1798.6,494.1 L1798.9,496.2 L1799.2,498.3 L1799.4,500.4 L1799.7,502.6 L1800.0,504.7 L1800.3,506.9 L1800.5,509.0 L1800.8,511.0 L1801.1,512.9 L1801.3,514.7 L1801.6,516.4 L1801.9,517.9 L1802.1,519.2 L1802.4,520.2 L1802.7,521.1 L1802.9,521.7 L1803.2,522.0 L1803.5,522.0 L1803.7,521.7 L1804.0,521.2 L1804.2,520.5 L1804.4,519.5 L1804.7,518.3 L1804.9,516.9 L1805.1,515.4 L1805.4,513.8 L1805.6,512.0 L1805.8,510.1 L1806.1,508.1 L1806.3,506.0 L1806.5,503.9 L1806.8,501.8 L1807.0,499.6 L1807.2,497.5 L1807.5,495.3 L1807.7,493.2 L1807.9,491.2 L1808.2,489.2 L1808.4,487.4 L1808.6,485.6 L1808.9,484.0 L1809.1,482.5 L1809.4,481.2 L1809.6,480.1 L1810.4,477.4 L1811.2,475.7 L1812.0,474.8 L1812.9,474.2 L1813.7,473.6 L1814.5,472.8 L1815.3,471.3 L1816.1,468.9 L1816.4,467.7 L1816.6,466.4 L1816.9,464.9 L1817.1,463.2 L1817.4,461.4 L1817.6,459.4 L1817.9,457.4 L1818.1,455.3 L1818.4,453.2 L1818.6,451.1 L1818.8,449.0 L1819.1,446.8 L1819.3,444.8 L1819.6,442.8 L1819.8,440.9 L1820.0,439.1 L1820.3,437.5 L1820.5,436.0 L1820.7,434.7 L1821.0,433.7 L1821.2,432.8 L1821.5,432.2 L1821.7,431.9 L1822.0,431.9 L1822.3,432.2 L1822.6,432.8 L1822.9,433.8 L1823.2,435.0 L1823.4,436.4 L1823.7,438.1 L1824.0,439.9 L1824.3,441.8 L1824.6,443.9 L1824.9,446.0 L1825.2,448.2 L1825.5,450.5 L1825.8,452.7 L1826.2,454.8 L1826.5,456.9 L1826.9,458.9 L1827.3,460.8 L1827.6,462.3 L1828.0,464.0 L1828.4,465.8 L1828.8,467.7 L1829.1,469.7 L1829.6,471.7 L1830.0,473.7 L1830.4,475.8 L1830.8,477.9 L1831.3,480.0 L1831.7,482.0 L1832.1,484.0 L1832.6,485.9 L1833.0,487.7 L1833.4,489.3 L1833.9,490.9 L1834.3,492.3 L1834.7,493.5 L1835.1,494.5 L1835.5,495.3 L1835.8,495.9 L1836.2,496.2 L1836.6,496.3 L1837.1,496.0 L1837.5,495.5 L1837.9,494.7 L1838.3,493.7 L1838.7,492.4 L1839.1,490.9 L1839.5,489.2 L1839.8,487.3 L1840.2,485.3 L1840.6,483.2 L1840.9,481.0 L1841.3,478.6 L1841.6,476.3 L1841.9,473.8 L1842.3,471.4 L1842.6,468.9 L1842.8,467.7 L1842.9,466.4 L1843.1,465.1 L1843.2,463.8 L1843.4,462.4 L1843.5,461.0 L1843.7,459.5 L1843.8,458.0 L1844.0,456.5 L1844.1,454.9 L1844.3,453.3 L1844.4,451.7 L1844.6,450.1 L1844.7,448.5 L1844.8,446.8 L1845.0,445.1 L1845.1,443.4 L1845.3,441.7 L1845.4,440.0 L1845.5,438.3 L1845.7,436.5 L1845.8,434.8 L1845.9,433.0 L1846.1,431.3 L1846.2,429.5 L1846.3,427.8 L1846.4,426.1 L1846.6,424.3 L1846.7,422.6 L1846.8,420.9 L1846.9,419.2 L1847.0,417.5 L1847.2,415.9 L1847.3,414.2 L1847.4,412.6 L1847.5,411.0 L1847.6,409.3 L1847.7,407.7 L1847.8,406.0 L1848.0,404.3 L1848.1,402.6 L1848.2,400.9 L1848.3,399.2 L1848.4,397.5 L1848.5,395.7 L1848.6,394.0 L1848.6,392.2 L1848.7,390.5 L1848.8,388.8 L1848.9,387.0 L1849.0,385.3 L1849.1,383.6 L1849.2,381.9 L1849.3,380.2 L1849.4,378.5 L1849.5,376.9 L1849.5,375.2 L1849.6,373.6 L1849.7,372.0 L1849.8,370.4 L1849.9,368.8 L1850.0,367.3 L1850.1,365.8 L1850.2,364.3 L1850.2,362.9 L1850.3,361.5 L1850.4,360.1 L1850.5,358.8 L1850.6,357.5 L1850.7,356.3 L1850.9,353.9 L1851.1,351.6 L1851.2,349.3 L1851.4,347.1 L1851.6,344.9 L1851.8,342.8 L1852.0,340.7 L1852.1,338.8 L1852.3,337.0 L1852.5,335.3 L1852.7,333.7 L1852.8,332.3 L1853.0,331.0 L1853.2,329.9 L1853.4,328.9 L1853.5,328.2 L1853.7,327.6 L1853.9,327.3 L1854.1,327.2 L1854.4,327.5 L1854.7,328.2 L1854.9,329.2 L1855.2,330.5 L1855.4,332.0 L1855.7,333.9 L1855.9,335.9 L1856.2,338.1 L1856.4,340.5 L1856.7,343.0 L1856.9,345.6 L1857.1,348.2 L1857.2,349.4 L1857.3,350.7 L1857.4,352.1 L1857.5,353.5 L1857.5,355.0 L1857.6,356.6 L1857.7,358.2 L1857.8,359.9 L1857.9,361.6 L1857.9,363.3 L1858.0,365.1 L1858.1,366.9 L1858.2,368.8 L1858.2,370.6 L1858.3,372.5 L1858.4,374.3 L1858.4,376.1 L1858.5,378.0 L1858.6,379.8 L1858.7,381.5 L1858.7,383.3 L1858.8,385.0 L1858.9,386.6 L1859.0,388.3 L1859.1,389.8 L1859.1,391.3 L1859.2,392.7 L1859.3,394.1 L1859.4,395.3 L1859.5,396.5 L1859.7,399.3 L1860.0,401.9 L1860.2,404.5 L1860.5,406.8 L1860.8,409.0 L1861.1,410.9 L1861.3,412.5 L1861.6,413.9 L1861.9,414.9 L1862.2,415.6 L1862.4,415.9 L1862.7,415.8 L1862.9,415.4 L1863.1,414.6 L1863.3,413.6 L1863.5,412.2 L1863.6,410.7 L1863.8,409.0 L1864.0,407.1 L1864.2,405.1 L1864.4,403.0 L1864.6,400.9 L1864.8,398.8 L1865.0,396.8 L1865.1,394.8 L1865.3,393.0 L1865.5,391.3 L1865.7,389.8 L1865.9,388.5 L1866.4,385.7 L1866.8,383.0 L1867.3,380.5 L1867.8,378.5 L1868.3,377.1 L1868.7,376.6 L1869.2,377.2 L1869.4,377.8 L1869.6,378.6 L1869.8,379.5 L1870.0,380.7 L1870.1,382.0 L1870.3,383.5 L1870.5,385.0 L1870.7,386.7 L1870.9,388.5 L1871.1,390.4 L1871.3,392.4 L1871.5,394.3 L1871.6,396.4 L1871.8,398.4 L1872.0,400.5 L1872.2,402.5 L1872.4,404.5 L1872.5,405.9 L1872.7,407.4 L1872.8,408.9 L1872.9,410.5 L1873.0,412.2 L1873.2,413.9 L1873.3,415.7 L1873.4,417.5 L1873.6,419.3 L1873.7,421.1 L1873.8,423.0 L1873.9,424.8 L1874.1,426.6 L1874.2,428.4 L1874.3,430.2 L1874.4,431.9 L1874.6,433.6 L1874.7,435.3 L1874.8,436.9 L1875.0,438.4 L1875.1,439.9 L1875.2,441.2 L1875.3,442.5 L1875.5,443.6 L1875.6,444.7 L1876.1,448.0 L1876.5,450.0 L1877.0,451.2 L1877.5,451.9 L1878.1,452.9 L1878.8,454.4 L1879.4,455.8 L1880.0,457.4 L1880.7,459.0 L1881.4,460.7 L1882.2,462.4 L1882.9,464.1 L1883.7,465.8 L1884.5,467.4 L1885.2,468.9 L1886.0,470.3 L1886.8,471.5 L1887.6,472.6 L1888.5,473.6 L1889.3,474.7 L1890.1,476.1 L1890.9,477.9 L1891.7,480.1 L1892.1,481.3 L1892.4,482.5 L1892.8,483.9 L1893.1,485.3 L1893.5,486.8 L1893.8,488.3 L1894.1,490.0 L1894.5,491.6 L1894.8,493.3 L1895.2,495.0 L1895.5,496.8 L1895.9,498.6 L1896.3,500.3 L1896.6,502.1 L1897.0,503.9 L1897.3,505.7 L1897.7,507.4 L1898.1,509.1 L1898.4,510.6 L1898.8,512.2 L1899.1,513.8 L1899.5,515.4 L1899.8,517.0 L1900.2,518.7 L1900.5,520.4 L1900.9,522.0 L1901.3,523.7 L1901.6,525.4 L1902.0,527.0 L1902.3,528.7 L1902.7,530.3 L1903.1,531.9 L1903.5,533.5 L1903.9,535.0 L1904.3,536.6 L1904.7,538.0 L1905.1,539.5 L1905.5,540.9 L1906.1,542.7 L1906.7,544.5 L1907.3,546.3 L1907.9,548.1 L1908.5,549.8 L1909.1,551.5 L1909.8,553.2 L1910.4,554.8 L1911.1,556.4 L1911.7,557.8 L1912.3,559.3 L1913.0,560.7 L1913.6,561.9 L1914.3,563.2 L1914.9,564.3 L1916.1,566.2 L1917.2,567.9 L1918.4,569.3 L1919.6,570.5 L1920.7,571.6 L1921.9,572.5 L1923.0,573.2 L1924.2,573.6 L1926.0,574.3 L1927.8,574.2 L1929.7,572.8 L1931.6,572.1 L1933.6,572.7 L1935.1,573.2 L1936.7,573.9 L1938.3,574.5 L1940.0,574.6 L1941.7,574.4 L1943.5,575.0 L1945.3,576.0 L1946.9,576.4 L1948.6,576.5 L1950.3,576.0 L1952.0,575.7 L1953.8,575.8 L1955.6,575.2 L1957.4,574.8 L1959.3,575.2 L1960.6,576.0 L1961.9,577.2 L1963.3,578.8 L1964.8,580.2 L1966.2,581.0 L1967.6,582.0 L1969.1,583.2 L1970.5,584.0 L1971.9,584.9 L1973.2,585.6 L1974.5,586.0 L1975.7,586.5 L1977.6,586.3 L1979.4,585.3 L1981.0,584.3 L1982.6,583.6 L1984.2,582.8 L1985.8,582.1 L1987.4,581.5 L1989.0,581.7 L1990.4,582.3 L1991.8,582.8 L1993.3,583.9 L1994.9,585.2 L1996.8,586.4 L1999.1,586.9 L2000.4,586.6 L2001.9,585.9 L2003.5,585.4 L2005.1,585.4 L2006.9,585.6 L2008.7,585.6 L2010.5,584.6 L2012.4,583.5 L2014.2,583.8 L2016.0,583.9 L2017.7,583.2 L2019.4,582.2 L2021.0,581.5 L2022.5,581.4 L2024.4,581.0 L2026.3,581.0 L2028.1,581.3 L2029.8,580.9 L2031.4,580.1 L2033.0,580.2 L2034.5,580.2 L2035.9,578.9 L2037.4,577.7 L2038.8,577.7 L2040.5,578.0 L2042.0,577.8 L2043.5,577.4 L2044.9,576.9 L2046.3,575.6 L2047.7,574.2 L2049.1,572.9 L2050.5,571.3 L2051.3,570.3 L2052.1,569.1 L2052.8,567.7 L2053.6,566.3 L2054.4,564.7 L2055.2,563.1 L2056.0,561.5 L2056.7,559.8 L2057.5,558.2 L2058.3,556.6 L2059.1,555.1 L2059.9,553.7 L2060.6,552.4 L2061.4,551.3 L2062.2,550.3 L2063.9,548.8 L2065.6,547.7 L2067.3,547.0 L2069.0,546.6 L2070.7,546.3 L2072.3,546.0 L2073.9,545.6 L2075.6,545.2 L2077.2,545.0 L2078.8,544.9 L2080.3,544.7 L2081.8,544.2 L2083.3,543.3 L2084.3,542.3 L2085.4,540.9 L2086.4,539.4 L2087.4,537.7 L2088.5,536.0 L2089.5,534.4 L2090.5,533.0 L2091.6,532.1 L2092.6,531.6 L2093.9,531.8 L2095.2,532.9 L2096.5,534.4 L2097.8,536.1 L2099.1,537.8 L2100.5,539.1 L2102.0,539.7 L2103.6,539.9 L2105.2,539.3 L2106.9,538.3 L2108.6,537.7 L2110.3,536.9 L2112.0,536.2 L2113.7,535.9 L2115.1,535.0 L2116.6,533.6 L2118.0,532.0 L2119.4,530.2 L2120.8,528.6 L2122.3,527.1 L2123.8,526.6 L2125.4,527.1 L2126.7,527.2 L2128.1,527.5 L2129.6,528.0 L2131.1,528.4 L2132.5,529.9 L2134.0,532.0 L2135.5,533.4 L2136.9,534.3 L2138.2,535.2 L2139.4,536.1 L2141.2,537.2 L2142.9,538.1 L2144.5,538.3 L2145.9,538.2 L2147.4,538.9 L2148.8,539.2 L2150.2,538.0 L2151.5,536.4 L2152.8,534.6 L2154.1,532.9 L2155.5,532.0 L2157.0,532.1 L2157.8,532.7 L2158.6,533.9 L2159.4,535.4 L2160.2,536.8 L2161.0,538.1 L2161.9,539.9 L2162.8,542.0 L2163.7,544.5 L2164.6,546.2 L2165.5,546.4 L2166.5,547.2 L2167.5,548.6 L2169.1,549.7 L2170.8,550.4 L2172.5,550.5 L2174.3,549.8 L2176.1,549.3 L2177.9,549.1 L2179.7,548.9 L2181.5,549.5 L2182.9,549.7 L2184.3,550.0 L2185.7,551.1 L2187.1,552.2 L2188.5,552.8 L2190.0,553.8 L2191.4,554.8 L2192.8,556.1 L2194.2,557.3 L2195.6,557.7 L2197.2,558.4 L2198.8,559.4 L2200.4,560.5 L2202.1,561.4 L2203.7,562.1 L2205.3,562.7 L2206.8,562.8 L2208.2,563.1 L2209.6,564.1 L2211.4,565.2 L2212.9,566.5 L2214.3,567.7 L2215.7,568.7 L2217.2,569.3 L2219.0,569.2 L2220.6,569.3 L2222.3,569.3 L2224.1,568.7 L2226.0,568.1 L2227.9,567.4 L2229.7,566.7 L2231.4,566.8 L2233.0,567.2 L2234.4,567.4 L2235.7,568.4 L2236.8,570.6 L2237.9,572.8 L2239.0,574.6 L2240.1,575.7 L2241.2,576.6 L2242.3,577.5 L2243.9,577.9 L2245.7,577.3 L2247.4,576.5 L2249.1,575.6 L2250.5,575.0 L2251.7,574.9 L2253.1,576.4 L2253.7,578.9 L2254.0,580.7" fill="none" stroke="#202020" stroke-width="5.5" stroke-linejoin="round" stroke-linecap="round"/>
<path d="M62.6,730.8 L63.5,730.8 L64.4,730.8 L65.5,730.2 L66.7,730.1 L67.9,730.4 L69.2,730.1 L70.6,730.6 L72.0,731.1 L73.5,730.9 L75.1,731.2 L76.8,731.1 L78.4,730.8 L80.2,731.6 L81.9,732.4 L83.7,732.5 L85.6,731.6 L87.4,730.9 L89.3,731.4 L91.2,732.1 L93.1,732.5 L95.1,732.4 L97.0,732.7 L98.9,733.0 L100.8,732.4 L102.8,731.8 L104.7,731.9 L106.5,732.0 L108.4,732.0 L110.2,732.0 L112.0,732.7 L113.5,733.3 L115.1,732.4 L116.6,731.1 L118.2,731.2 L119.7,732.5 L121.3,733.5 L122.9,733.4 L124.5,733.2 L126.1,733.7 L127.7,734.2 L129.4,734.2 L131.0,733.9 L132.6,733.4 L134.3,733.5 L135.9,734.0 L137.5,734.3 L139.2,734.5 L140.9,735.4 L142.5,735.6 L144.2,734.7 L145.8,734.9 L147.5,735.2 L149.2,735.2 L150.8,735.1 L152.5,735.0 L154.2,735.5 L155.8,736.1 L157.5,735.8 L159.1,735.8 L160.8,736.0 L162.4,736.0 L164.1,735.4 L165.7,735.0 L167.4,735.3 L169.0,735.3 L170.6,735.1 L172.3,735.3 L173.9,735.9 L175.6,736.3 L177.2,736.5 L178.9,736.5 L180.6,736.5 L182.2,736.7 L183.9,737.1 L185.6,737.0 L187.2,736.3 L188.9,736.2 L190.6,736.5 L192.3,736.4 L193.9,735.9 L195.6,735.8 L197.3,736.1 L198.9,735.8 L200.6,735.5 L202.2,736.2 L203.9,737.2 L205.5,737.5 L207.2,737.0 L208.8,736.7 L210.4,736.8 L212.0,736.3 L213.6,735.7 L215.2,735.7 L216.8,736.1 L218.4,736.7 L219.9,736.5 L221.5,735.7 L223.0,735.7 L224.5,736.4 L226.0,736.7 L227.8,736.7 L229.6,736.5 L231.5,736.4 L233.3,736.9 L235.1,737.2 L236.9,736.7 L238.8,736.4 L240.6,737.0 L242.4,737.2 L244.2,736.5 L246.0,736.5 L247.8,737.4 L249.6,737.5 L251.3,737.1 L253.0,737.1 L254.7,737.3 L256.4,737.5 L258.1,737.4 L259.7,737.2 L261.3,736.8 L262.8,736.1 L264.3,736.1 L265.8,736.8 L267.2,736.8 L268.6,736.6 L269.9,736.6 L271.2,736.7 L272.4,736.6 L273.6,736.3 L276.2,736.2 L278.4,736.1 L280.4,735.8 L282.1,736.0 L283.5,735.9 L284.9,735.1 L286.1,734.4 L287.3,734.5 L288.5,734.8 L289.8,734.2 L291.1,733.0 L292.6,731.7 L294.2,731.0 L295.8,731.7 L297.4,731.8 L299.1,730.9 L300.7,730.2 L302.3,729.6 L304.0,729.0 L305.5,728.4 L307.1,727.8 L308.7,727.2 L310.1,726.7 L311.6,726.2 L313.4,725.6 L315.2,725.1 L316.9,724.7 L318.5,724.3 L320.1,723.8 L321.7,723.3 L323.4,722.8 L325.0,722.2 L326.8,721.4 L328.2,720.7 L329.5,720.0 L330.9,719.3 L332.3,718.5 L333.7,717.7 L335.1,716.9 L336.5,716.0 L338.0,715.0 L339.4,714.1 L340.9,713.1 L342.4,712.1 L343.9,711.0 L345.1,710.1 L346.4,709.2 L347.6,708.3 L348.9,707.3 L350.2,706.4 L351.5,705.4 L352.9,704.3 L354.2,703.3 L355.5,702.2 L356.8,701.2 L358.1,700.1 L359.3,699.0 L360.5,698.0 L361.7,696.9 L362.9,695.8 L364.1,694.6 L365.3,693.4 L366.5,692.2 L367.6,690.9 L368.8,689.7 L369.9,688.4 L371.0,687.1 L372.1,685.9 L373.1,684.6 L374.1,683.4 L375.2,682.1 L376.2,681.0 L377.1,679.8 L378.1,678.7 L379.4,677.3 L380.6,676.0 L381.8,674.7 L382.9,673.6 L384.0,672.4 L385.1,671.2 L386.2,670.0 L387.3,668.6 L388.4,667.1 L389.5,665.4 L390.3,664.1 L391.0,662.8 L391.8,661.3 L392.6,659.8 L393.4,658.2 L394.2,656.6 L394.9,654.9 L395.7,653.2 L396.5,651.6 L397.2,649.9 L398.0,648.3 L398.7,646.7 L399.5,645.2 L400.2,643.8 L400.9,642.5 L401.8,640.8 L402.7,639.3 L403.6,637.9 L404.4,636.6 L405.2,635.3 L406.1,634.0 L406.9,632.8 L407.7,631.5 L408.6,630.2 L409.5,628.8 L410.4,627.3 L411.2,625.9 L412.0,624.5 L412.8,623.1 L413.6,621.5 L414.5,620.0 L415.3,618.5 L416.2,616.9 L417.1,615.4 L417.9,613.9 L418.9,612.4 L419.8,610.9 L420.8,609.6 L421.8,608.3 L423.0,607.0 L424.2,605.8 L425.5,604.7 L426.8,603.7 L428.2,602.6 L429.5,601.7 L430.9,600.7 L432.2,599.6 L433.5,598.6 L434.8,597.5 L435.9,596.3 L437.0,595.0 L437.9,593.7 L438.8,592.4 L439.7,590.9 L440.5,589.5 L441.3,588.0 L442.0,586.4 L442.8,584.9 L443.4,583.3 L444.1,581.8 L444.7,580.3 L445.3,578.8 L445.9,577.4 L446.5,576.0 L447.2,574.3 L447.7,572.7 L448.2,571.2 L448.7,569.7 L449.1,568.2 L449.5,566.7 L449.9,565.1 L450.3,563.5 L450.8,561.8 L451.4,560.0 L451.9,558.6 L452.3,557.2 L452.8,555.6 L453.3,554.1 L453.9,552.5 L454.4,550.9 L455.0,549.2 L455.5,547.6 L456.1,545.9 L456.7,544.3 L457.3,542.7 L457.8,541.1 L458.4,539.5 L459.0,538.0 L459.6,536.3 L460.3,534.5 L461.0,532.6 L461.6,530.7 L462.3,528.8 L463.0,526.9 L463.7,525.1 L464.4,523.5 L465.1,521.9 L465.7,520.6 L466.4,519.5 L467.0,518.6 L467.6,518.1 L468.6,518.0 L469.6,518.8 L470.5,520.3 L471.4,522.2 L472.3,524.4 L473.2,526.6 L474.2,528.5 L475.0,529.9 L475.7,531.5 L476.5,533.2 L477.3,534.9 L478.1,536.6 L478.9,538.2 L479.8,539.7 L480.8,540.9 L481.8,541.8 L483.2,542.4 L484.8,542.5 L486.5,542.2 L488.2,541.8 L490.0,541.5 L491.6,541.4 L493.2,541.8 L494.5,542.5 L495.8,543.3 L497.0,544.3 L498.2,545.5 L499.4,546.8 L500.5,548.2 L501.6,549.7 L502.7,551.3 L503.5,552.5 L504.2,553.9 L505.0,555.3 L505.7,556.7 L506.4,558.2 L507.1,559.8 L507.8,561.4 L508.4,563.1 L509.1,564.8 L509.7,566.6 L510.3,568.4 L510.8,569.8 L511.2,571.3 L511.6,572.8 L512.0,574.3 L512.4,575.8 L512.8,577.4 L513.1,579.0 L513.5,580.6 L513.9,582.3 L514.3,584.0 L514.7,585.7 L515.1,587.5 L515.5,589.3 L516.0,591.2 L516.4,592.6 L516.7,594.1 L517.1,595.6 L517.4,597.2 L517.8,598.8 L518.1,600.4 L518.5,602.1 L518.9,603.8 L519.3,605.4 L519.6,607.1 L520.0,608.8 L520.4,610.5 L520.9,612.2 L521.3,613.8 L521.7,615.4 L522.2,617.0 L522.6,618.6 L523.1,620.1 L523.6,621.6 L524.2,623.2 L524.8,624.8 L525.4,626.3 L526.0,627.9 L526.6,629.4 L527.3,630.9 L527.9,632.4 L528.6,633.8 L529.3,635.3 L530.0,636.7 L530.7,638.1 L531.4,639.5 L532.1,640.9 L532.8,642.2 L533.5,643.6 L534.3,645.0 L535.0,646.3 L535.8,647.8 L536.7,649.3 L537.5,650.8 L538.4,652.3 L539.2,653.8 L540.1,655.2 L541.0,656.7 L541.9,658.1 L542.8,659.5 L543.7,660.9 L544.6,662.2 L545.5,663.5 L546.4,664.8 L547.4,666.1 L548.3,667.3 L549.4,668.7 L550.5,670.0 L551.6,671.2 L552.7,672.5 L553.8,673.7 L555.0,674.8 L556.1,675.9 L557.3,677.1 L558.5,678.2 L559.7,679.2 L560.9,680.3 L562.2,681.4 L563.5,682.5 L564.7,683.5 L566.0,684.5 L567.3,685.6 L568.7,686.6 L570.0,687.6 L571.4,688.6 L572.8,689.6 L574.2,690.5 L575.6,691.5 L577.0,692.4 L578.4,693.3 L579.8,694.2 L581.1,695.0 L582.5,695.8 L583.9,696.6 L585.3,697.4 L586.7,698.1 L588.0,698.9 L589.4,699.5 L590.7,700.2 L592.1,700.8 L593.5,701.5 L594.9,702.0 L596.5,702.6 L598.0,703.2 L599.7,703.8 L601.5,704.3 L602.9,704.7 L604.3,705.0 L605.8,705.4 L607.4,705.7 L609.0,706.0 L610.7,706.3 L612.4,706.6 L614.1,706.9 L615.8,707.2 L617.5,707.5 L619.2,707.8 L620.9,708.1 L622.6,708.4 L624.2,708.7 L625.8,709.0 L627.3,709.3 L628.7,709.6 L630.1,710.0 L632.0,710.6 L633.8,711.2 L635.5,711.8 L637.1,712.5 L638.7,713.2 L640.2,713.9 L641.7,714.5 L643.1,715.2 L644.6,715.9 L646.0,716.5 L647.5,717.1 L649.1,717.6 L650.7,718.1 L652.4,718.7 L654.1,719.2 L655.8,719.8 L657.5,720.3 L659.3,720.8 L660.9,721.3 L662.5,721.7 L664.1,722.0 L665.5,722.2 L666.9,722.4 L668.1,722.4 L670.1,722.2 L671.7,721.8 L673.0,721.0 L674.1,720.0 L675.3,718.5 L676.6,716.7 L677.3,715.6 L677.9,714.4 L678.6,712.9 L679.3,711.4 L680.0,709.7 L680.7,708.0 L681.4,706.3 L682.1,704.6 L682.8,702.9 L683.4,701.4 L684.0,700.0 L684.6,698.7 L685.2,697.7 L686.8,695.2 L688.1,693.5 L689.3,692.8 L690.9,692.9 L691.9,693.7 L693.1,695.1 L694.2,696.9 L695.5,698.8 L696.7,700.6 L698.1,701.9 L699.4,702.4 L700.6,702.2 L701.9,701.5 L703.2,700.4 L704.6,699.1 L705.9,697.7 L707.3,696.2 L708.6,695.0 L709.9,693.9 L711.5,692.9 L713.0,692.0 L714.5,691.2 L716.1,690.4 L717.7,689.4 L719.4,688.2 L720.5,687.2 L721.7,686.0 L722.9,684.6 L724.2,683.2 L725.5,681.7 L726.8,680.3 L728.1,679.1 L729.3,678.0 L730.5,677.2 L731.7,676.8 L733.3,676.8 L734.9,677.5 L736.4,678.5 L737.9,679.8 L739.3,681.2 L740.8,682.4 L742.2,683.4 L743.8,684.1 L745.2,684.4 L746.7,684.7 L748.1,685.1 L749.8,685.9 L751.7,687.2 L752.7,688.1 L753.7,689.1 L754.8,690.2 L756.0,691.4 L757.1,692.7 L758.3,694.1 L759.6,695.5 L760.8,697.0 L762.0,698.4 L763.3,699.7 L764.5,701.0 L765.7,702.3 L766.9,703.4 L768.3,704.6 L769.6,705.8 L770.9,707.0 L772.3,708.1 L773.6,709.2 L774.9,710.2 L776.3,711.2 L777.7,712.2 L779.1,713.1 L780.6,714.0 L782.1,714.8 L783.6,715.5 L785.0,716.2 L786.6,716.9 L788.2,717.5 L789.7,718.1 L791.4,718.6 L793.0,719.2 L794.6,719.7 L796.3,720.1 L797.9,720.6 L799.5,721.0 L801.1,721.4 L802.7,721.8 L804.3,722.1 L806.0,722.5 L807.6,722.8 L809.3,723.1 L810.9,723.3 L812.5,723.5 L814.1,723.7 L815.7,723.9 L817.2,724.1 L818.7,724.2 L820.1,724.3 L821.9,724.3 L823.3,724.2 L824.5,724.0 L825.7,723.7 L827.1,723.5 L828.8,723.3 L831.2,723.3 L834.3,723.5 L835.4,723.6 L836.5,723.7 L837.7,723.9 L839.0,724.0 L840.3,724.2 L841.6,724.5 L843.0,724.6 L844.5,724.3 L846.0,724.4 L847.5,725.2 L849.1,725.8 L850.7,726.0 L852.3,725.6 L853.9,725.6 L855.6,726.5 L857.3,727.1 L859.1,727.4 L860.8,727.3 L862.6,727.1 L864.4,727.3 L866.2,727.9 L868.1,728.3 L869.9,728.4 L871.7,729.2 L873.6,729.8 L875.4,729.6 L877.3,729.3 L878.7,729.0 L880.2,729.1 L881.7,729.6 L883.2,730.0 L884.7,730.3 L886.3,730.6 L887.8,730.8 L889.4,730.7 L891.0,730.6 L892.6,730.6 L894.2,730.9 L895.9,731.1 L897.5,730.9 L899.2,730.3 L900.8,730.5 L902.5,731.5 L904.2,732.3 L905.8,732.0 L907.5,731.4 L909.2,731.4 L910.9,731.7 L912.6,732.3 L914.3,732.6 L916.0,731.8 L917.7,731.4 L919.4,731.6 L921.1,732.2 L922.8,732.9 L924.5,733.1 L926.2,732.8 L927.9,732.8 L929.5,733.2 L931.2,733.6 L932.9,733.9 L934.5,734.3 L936.1,734.5 L937.8,734.2 L939.4,734.3 L941.0,734.9 L942.7,734.7 L944.3,734.0 L946.0,734.4 L947.6,734.5 L949.2,734.4 L950.9,734.8 L952.5,734.9 L954.1,734.8 L955.8,735.0 L957.4,735.3 L959.1,736.2 L960.7,736.6 L962.3,736.5 L964.0,736.8 L965.6,736.5 L967.2,735.6 L968.9,735.5 L970.5,736.0 L972.2,737.0 L973.8,737.5 L975.4,737.1 L977.1,736.5 L978.7,736.2 L980.3,736.7 L982.0,737.2 L983.6,736.9 L985.3,737.0 L986.9,737.5 L988.5,738.0 L990.2,738.5 L991.8,738.5 L993.5,737.7 L995.1,737.0 L996.9,737.5 L998.6,738.4 L1000.4,738.5 L1002.1,738.1 L1003.9,738.5 L1005.8,738.9 L1007.6,738.4 L1009.4,738.5 L1011.3,739.0 L1013.1,738.7 L1014.9,738.5 L1016.8,739.3 L1018.6,739.5 L1020.4,738.9 L1022.2,739.1 L1024.0,739.8 L1025.8,739.7 L1027.6,739.9 L1029.3,740.2 L1031.0,740.1 L1032.6,740.1 L1034.3,739.8 L1035.9,739.3 L1037.4,739.3 L1038.9,738.9 L1040.4,738.7 L1041.8,739.2 L1043.2,739.6 L1044.5,739.4 L1045.7,739.5 L1046.9,739.3 L1048.0,738.8 L1049.1,739.3 L1052.6,739.9 L1055.3,739.6 L1057.3,739.0 L1058.7,738.5 L1059.8,738.1 L1060.6,737.6 L1061.4,737.2 L1062.3,736.7 L1063.4,736.7 L1064.9,736.9 L1065.7,737.5 L1066.5,738.3 L1067.4,738.6 L1069.1,739.2 L1072.0,740.2 L1073.1,740.5 L1074.3,740.3 L1075.6,740.3 L1077.0,740.8 L1078.5,740.9 L1080.1,741.2 L1081.7,741.5 L1083.4,741.4 L1085.2,741.8 L1087.0,742.0 L1088.8,741.5 L1090.6,740.9 L1092.5,740.9 L1094.3,740.8 L1096.2,740.5 L1098.0,740.8 L1099.7,740.9 L1101.5,740.8 L1103.1,741.3 L1104.8,741.2 L1106.3,740.6 L1108.1,741.4 L1110.0,742.6 L1111.8,742.6 L1113.6,741.8 L1115.4,741.4 L1117.2,741.2 L1119.0,741.5 L1120.7,742.3 L1122.4,742.7 L1124.1,743.2 L1125.7,743.8 L1127.4,743.5 L1129.0,743.6 L1130.5,743.7 L1132.1,743.6 L1133.5,743.6 L1135.0,743.5 L1137.0,743.5 L1138.9,742.9 L1140.8,742.4 L1142.6,742.3 L1144.4,741.6 L1146.1,740.9 L1147.7,741.3 L1149.3,741.4 L1150.8,740.3 L1152.3,740.0 L1153.7,740.0 L1155.0,738.7 L1157.0,738.5 L1158.7,739.7 L1160.1,740.5 L1161.4,741.3 L1162.8,741.9 L1164.5,742.8 L1166.5,743.3 L1167.8,742.9 L1169.3,742.4 L1170.8,742.3 L1172.5,742.2 L1174.2,741.7 L1176.0,741.7 L1177.7,741.6 L1179.5,740.2 L1181.1,739.1 L1182.7,738.5 L1184.1,738.3 L1185.4,738.0 L1186.5,737.0 L1188.1,736.8 L1187.9,738.3 L1188.5,740.5 L1192.2,741.7 L1193.2,741.7 L1194.4,742.3 L1195.6,742.6 L1197.0,743.1 L1198.6,743.2 L1200.2,742.8 L1201.9,742.9 L1203.6,743.5 L1205.4,743.7 L1207.3,743.3 L1209.2,743.1 L1211.2,743.2 L1213.2,743.6 L1215.1,743.7 L1217.1,744.0 L1219.1,744.5 L1221.0,744.1 L1222.9,744.1 L1224.7,744.8 L1226.5,743.8 L1228.2,742.9 L1229.8,743.9 L1231.3,744.7 L1232.7,744.2 L1234.0,744.2 L1235.2,744.9 L1238.0,745.3 L1240.3,745.0 L1242.0,744.4 L1243.4,744.7 L1244.5,745.7 L1245.6,746.3 L1246.7,746.8 L1247.9,746.5 L1249.5,746.0 L1250.9,746.4 L1252.4,746.0 L1253.8,744.9 L1255.3,744.1 L1256.8,744.2 L1258.3,744.0 L1259.9,742.7 L1261.5,742.1 L1263.2,742.0 L1264.9,741.8 L1266.7,741.8 L1268.2,742.2 L1269.8,742.7 L1271.6,742.3 L1273.4,741.6 L1275.2,741.8 L1277.1,742.4 L1279.0,743.0 L1280.8,743.4 L1282.6,743.1 L1284.2,742.3 L1285.8,741.4 L1287.3,741.6 L1288.5,742.7 L1289.6,743.2 L1291.8,744.8 L1292.4,747.3 L1292.7,749.8 L1293.9,750.5 L1295.1,749.8 L1296.4,749.2 L1297.9,748.2 L1299.5,747.2 L1301.3,746.1 L1303.1,744.6 L1304.9,743.8 L1306.8,744.4 L1308.1,745.1 L1309.3,744.8 L1310.5,744.6 L1311.7,745.0 L1313.0,745.2 L1314.3,746.4 L1315.8,747.7 L1317.5,747.4 L1319.3,747.4 L1321.5,747.5 L1323.9,747.6 L1325.1,748.9 L1326.3,749.8 L1327.5,749.1 L1328.8,748.5 L1330.2,748.1 L1331.6,748.7 L1333.0,749.4 L1334.4,749.4 L1335.9,749.3 L1337.5,749.6 L1339.0,749.1 L1340.6,749.4 L1342.3,750.3 L1343.9,750.0 L1345.6,749.7 L1347.3,749.7 L1349.1,749.1 L1350.9,749.5 L1352.7,749.8 L1354.5,749.2 L1356.4,749.5 L1358.2,750.2 L1360.1,750.7 L1362.1,750.8 L1364.0,750.1 L1365.4,749.7 L1366.9,750.2 L1368.4,749.6 L1369.9,749.0 L1371.5,750.0 L1373.2,750.5 L1374.8,750.2 L1376.5,750.7 L1378.2,750.7 L1380.0,750.0 L1381.7,750.0 L1383.5,750.9 L1385.3,751.4 L1387.1,750.6 L1388.9,750.4 L1390.7,751.2 L1392.5,750.6 L1394.3,750.0 L1396.1,750.8 L1397.8,750.9 L1399.6,750.3 L1401.4,750.5 L1403.1,750.5 L1404.8,749.9 L1406.5,749.7 L1408.2,749.7 L1409.8,748.9 L1411.4,748.9 L1413.0,750.0 L1414.5,750.4 L1415.9,750.4 L1417.4,750.4 L1418.7,750.3 L1420.0,750.2 L1421.3,750.3 L1423.8,750.2 L1426.1,750.0 L1428.3,750.2 L1430.4,750.3 L1432.4,749.9 L1434.3,750.0 L1436.1,750.4 L1437.8,750.2 L1439.4,749.5 L1440.9,749.5 L1442.4,749.7 L1443.8,749.6 L1445.1,749.8 L1446.4,749.6 L1447.6,749.2 L1448.8,750.0 L1450.0,750.9 L1452.8,751.3 L1454.8,751.3 L1456.3,751.3 L1457.6,751.7 L1458.9,751.7 L1460.4,751.3 L1461.9,751.1 L1463.4,750.6 L1464.9,750.3 L1466.5,749.8 L1468.0,749.2 L1469.4,748.1 L1470.8,746.7 L1471.5,745.7 L1472.2,744.6 L1472.9,743.4 L1473.6,742.1 L1474.3,740.7 L1474.9,739.3 L1475.6,737.7 L1476.2,736.1 L1476.9,734.5 L1477.5,732.8 L1478.2,731.1 L1478.8,729.3 L1479.5,727.6 L1480.0,726.2 L1480.5,724.8 L1481.0,723.3 L1481.5,721.7 L1482.1,720.1 L1482.6,718.4 L1483.1,716.8 L1483.6,715.1 L1484.1,713.4 L1484.6,711.8 L1485.1,710.2 L1485.6,708.6 L1486.2,707.0 L1486.7,705.6 L1487.2,704.1 L1487.7,702.8 L1488.2,701.6 L1489.1,699.6 L1489.9,697.7 L1490.8,695.8 L1491.7,694.0 L1492.6,692.4 L1493.4,690.9 L1494.3,689.7 L1495.2,688.7 L1496.0,688.1 L1496.9,687.7 L1498.0,687.7 L1499.0,688.1 L1500.1,689.0 L1501.1,690.2 L1502.1,691.7 L1503.2,693.6 L1504.3,695.7 L1505.5,698.1 L1506.0,699.2 L1506.5,700.5 L1507.1,701.9 L1507.6,703.4 L1508.2,704.9 L1508.7,706.6 L1509.3,708.3 L1509.8,710.1 L1510.4,711.8 L1511.0,713.6 L1511.5,715.4 L1512.1,717.2 L1512.7,718.9 L1513.2,720.6 L1513.8,722.2 L1514.3,723.7 L1514.9,725.1 L1515.4,726.4 L1515.9,727.6 L1516.9,729.8 L1517.9,731.6 L1518.9,733.2 L1519.8,734.6 L1520.7,735.9 L1521.6,736.9 L1522.6,737.9 L1523.6,738.8 L1524.6,739.7 L1526.2,740.9 L1527.9,742.0 L1529.7,742.8 L1531.5,743.3 L1533.2,743.4 L1535.0,743.2 L1536.3,742.8 L1537.6,742.2 L1538.9,741.4 L1540.2,740.4 L1541.5,739.2 L1542.8,737.8 L1544.1,736.2 L1545.4,734.5 L1546.2,733.3 L1546.9,732.0 L1547.7,730.5 L1548.5,729.0 L1549.3,727.3 L1550.1,725.6 L1550.9,723.8 L1551.6,722.1 L1552.4,720.4 L1553.2,718.8 L1553.9,717.3 L1554.6,715.9 L1555.3,714.7 L1555.9,713.7 L1557.5,711.6 L1558.8,710.2 L1560.1,709.5 L1561.4,709.2 L1562.8,709.4 L1563.9,709.8 L1565.1,710.6 L1566.3,711.6 L1567.6,712.8 L1568.8,714.2 L1570.2,715.7 L1571.5,717.2 L1572.5,718.4 L1573.5,719.7 L1574.5,721.1 L1575.6,722.7 L1576.6,724.2 L1577.7,725.8 L1578.8,727.3 L1579.9,728.7 L1580.9,730.0 L1581.9,731.1 L1583.3,732.6 L1584.7,734.0 L1586.0,735.4 L1587.4,736.5 L1588.7,737.4 L1590.0,737.9 L1591.4,738.0 L1592.6,737.7 L1593.8,737.1 L1594.9,736.3 L1596.1,735.2 L1597.3,733.9 L1598.5,732.4 L1599.7,730.9 L1601.0,729.3 L1601.9,728.1 L1602.8,726.6 L1603.7,725.0 L1604.7,723.2 L1605.6,721.4 L1606.6,719.6 L1607.6,717.9 L1608.5,716.2 L1609.5,714.8 L1610.4,713.5 L1611.4,712.6 L1612.3,712.0 L1613.7,711.9 L1615.1,712.5 L1616.5,713.7 L1617.8,715.2 L1619.2,716.8 L1620.4,718.2 L1621.6,719.3 L1622.7,719.8 L1624.1,719.2 L1625.3,717.5 L1626.3,715.5 L1627.4,714.0 L1628.7,713.7 L1629.5,714.3 L1630.5,715.3 L1631.4,716.7 L1632.4,718.3 L1633.4,720.0 L1634.4,721.7 L1635.4,723.3 L1636.4,724.8 L1637.4,725.9 L1638.8,727.4 L1640.2,728.7 L1641.6,729.9 L1643.1,730.8 L1644.6,731.2 L1646.1,731.1 L1647.2,730.7 L1648.3,730.0 L1649.4,729.1 L1650.6,728.0 L1651.8,726.8 L1653.0,725.4 L1654.2,723.9 L1655.3,722.3 L1656.5,720.7 L1657.3,719.4 L1658.1,717.9 L1658.9,716.2 L1659.7,714.4 L1660.5,712.5 L1661.3,710.6 L1662.1,708.8 L1662.9,707.0 L1663.7,705.4 L1664.5,704.0 L1665.3,702.9 L1666.1,702.0 L1666.9,701.6 L1668.0,701.7 L1669.0,702.5 L1670.1,703.9 L1671.2,705.7 L1672.3,707.6 L1673.4,709.6 L1674.4,711.5 L1675.4,713.0 L1676.4,714.1 L1677.3,714.6 L1678.3,714.2 L1679.3,713.1 L1680.1,711.5 L1681.0,709.5 L1681.8,707.5 L1682.6,705.7 L1683.4,704.2 L1684.3,703.3 L1685.8,703.3 L1687.4,704.3 L1689.0,705.8 L1690.6,706.8 L1692.1,706.8 L1693.0,705.9 L1693.9,704.4 L1694.8,702.5 L1695.7,700.5 L1696.5,698.5 L1697.4,696.8 L1698.2,695.8 L1699.0,695.5 L1699.7,696.0 L1700.4,697.1 L1701.1,698.6 L1701.8,700.4 L1702.5,702.4 L1703.2,704.5 L1703.8,706.6 L1704.5,708.5 L1705.1,710.2 L1705.8,712.0 L1706.3,713.9 L1706.9,715.8 L1707.4,717.6 L1708.0,719.3 L1708.7,720.7 L1709.4,721.8 L1710.3,722.4 L1711.5,722.4 L1712.9,721.7 L1714.4,720.6 L1716.0,719.3 L1717.6,717.9 L1719.2,716.9 L1720.7,716.3 L1722.4,716.3 L1724.2,716.7 L1725.9,717.4 L1727.6,718.2 L1729.4,718.7 L1731.1,718.9 L1732.8,718.5 L1734.3,717.8 L1735.9,716.9 L1737.5,716.0 L1739.4,715.4 L1741.5,715.4 L1742.9,715.7 L1744.4,716.2 L1746.0,716.9 L1747.7,717.7 L1749.4,718.5 L1751.2,719.4 L1752.9,720.3 L1754.6,721.0 L1756.2,721.7 L1757.6,722.2 L1758.9,722.4 L1760.9,722.2 L1762.4,721.3 L1763.8,720.1 L1765.0,719.0 L1766.3,718.2 L1767.6,718.0 L1768.9,718.6 L1770.2,719.8 L1771.5,721.4 L1772.8,723.0 L1774.0,724.5 L1775.1,725.5 L1776.2,725.9 L1777.3,725.6 L1778.2,724.9 L1779.0,723.7 L1779.8,722.1 L1780.6,719.9 L1781.5,717.2 L1781.8,716.1 L1782.1,714.8 L1782.4,713.5 L1782.8,712.0 L1783.1,710.5 L1783.4,708.9 L1783.7,707.3 L1784.0,705.5 L1784.3,703.8 L1784.6,702.0 L1785.0,700.3 L1785.3,698.5 L1785.6,696.7 L1786.0,695.0 L1786.3,693.3 L1786.6,691.6 L1787.0,690.0 L1787.4,688.3 L1787.8,686.4 L1788.2,684.4 L1788.6,682.4 L1789.0,680.3 L1789.4,678.2 L1789.9,676.2 L1790.3,674.2 L1790.7,672.3 L1791.1,670.5 L1791.6,668.8 L1792.0,667.4 L1792.4,666.1 L1792.8,665.1 L1793.2,664.4 L1793.6,664.0 L1794.1,664.0 L1794.7,664.5 L1795.2,665.6 L1795.7,667.1 L1796.2,669.0 L1796.7,671.0 L1797.2,673.3 L1797.7,675.6 L1798.2,677.9 L1798.7,680.0 L1799.3,682.0 L1799.8,683.6 L1800.2,685.4 L1800.7,687.4 L1801.2,689.5 L1801.7,691.7 L1802.2,693.9 L1802.7,696.1 L1803.2,698.1 L1803.7,699.9 L1804.2,701.6 L1804.7,702.9 L1805.3,703.9 L1805.8,704.4 L1806.3,704.5 L1806.7,704.2 L1807.2,703.6 L1807.6,702.7 L1808.1,701.6 L1808.6,700.3 L1809.1,698.7 L1809.5,697.1 L1810.0,695.2 L1810.5,693.3 L1810.9,691.3 L1811.4,689.2 L1811.9,687.1 L1812.3,685.0 L1812.8,683.0 L1813.2,681.0 L1813.6,679.1 L1814.0,677.3 L1814.3,675.7 L1814.7,674.1 L1815.0,672.5 L1815.3,670.9 L1815.6,669.2 L1815.9,667.6 L1816.2,665.9 L1816.5,664.2 L1816.8,662.5 L1817.1,660.8 L1817.4,659.0 L1817.7,657.3 L1817.9,655.6 L1818.2,654.0 L1818.5,652.3 L1818.8,650.6 L1819.0,649.0 L1819.3,647.4 L1819.6,645.8 L1819.9,644.0 L1820.2,642.0 L1820.5,640.0 L1820.8,637.9 L1821.1,635.8 L1821.4,633.7 L1821.7,631.6 L1822.0,629.6 L1822.3,627.6 L1822.6,625.7 L1822.9,623.9 L1823.2,622.4 L1823.5,621.0 L1823.8,619.8 L1824.1,618.8 L1824.5,618.1 L1824.8,617.7 L1825.3,617.7 L1825.8,618.2 L1826.3,619.2 L1826.8,620.6 L1827.3,622.3 L1827.8,624.3 L1828.3,626.5 L1828.8,628.7 L1829.3,631.1 L1829.9,633.3 L1830.4,635.5 L1831.0,637.4 L1831.5,638.9 L1831.9,640.7 L1832.4,642.5 L1832.9,644.4 L1833.4,646.4 L1833.9,648.4 L1834.4,650.4 L1834.9,652.3 L1835.4,654.2 L1836.0,655.9 L1836.4,657.5 L1836.9,658.8 L1837.4,660.0 L1837.9,660.8 L1838.3,661.4 L1839.1,661.6 L1839.9,661.0 L1840.7,659.7 L1841.4,657.8 L1842.1,655.7 L1842.7,653.5 L1843.4,651.3 L1843.9,649.5 L1844.4,648.2 L1844.7,647.3 L1845.0,646.5 L1845.3,645.6 L1845.5,644.3 L1845.8,642.4 L1846.2,639.5 L1846.6,635.4 L1846.7,634.4 L1846.8,633.3 L1846.9,632.2 L1847.0,630.9 L1847.1,629.7 L1847.3,628.4 L1847.4,627.0 L1847.5,625.6 L1847.6,624.1 L1847.8,622.6 L1847.9,621.1 L1848.0,619.5 L1848.1,617.8 L1848.3,616.2 L1848.4,614.5 L1848.6,612.8 L1848.7,611.1 L1848.8,609.3 L1849.0,607.5 L1849.1,605.8 L1849.2,604.0 L1849.4,602.2 L1849.5,600.4 L1849.7,598.5 L1849.8,596.7 L1850.0,594.9 L1850.1,593.1 L1850.3,591.3 L1850.4,589.5 L1850.5,587.7 L1850.7,586.0 L1850.8,584.3 L1851.0,582.5 L1851.1,580.9 L1851.3,579.2 L1851.4,577.6 L1851.5,576.0 L1851.7,574.4 L1851.8,572.9 L1852.0,571.2 L1852.1,569.4 L1852.3,567.5 L1852.4,565.7 L1852.6,563.8 L1852.7,561.8 L1852.9,559.9 L1853.1,557.9 L1853.2,556.0 L1853.4,554.0 L1853.5,552.0 L1853.7,550.1 L1853.9,548.1 L1854.0,546.1 L1854.2,544.2 L1854.4,542.3 L1854.5,540.5 L1854.7,538.6 L1854.8,536.8 L1855.0,535.1 L1855.2,533.4 L1855.3,531.8 L1855.5,530.2 L1855.6,528.7 L1855.8,527.3 L1855.9,526.0 L1856.1,524.7 L1856.2,523.5 L1856.4,522.5 L1856.5,521.5 L1856.7,520.6 L1856.8,519.9 L1857.0,519.2 L1857.1,518.7 L1857.4,517.9 L1857.7,517.8 L1858.1,518.2 L1858.4,519.2 L1858.6,520.6 L1858.9,522.4 L1859.2,524.4 L1859.5,526.7 L1859.8,529.2 L1860.1,531.7 L1860.3,534.3 L1860.6,536.9 L1860.9,539.3 L1861.2,541.6 L1861.4,543.0 L1861.6,544.6 L1861.7,546.3 L1861.9,548.2 L1862.1,550.1 L1862.2,552.2 L1862.4,554.3 L1862.6,556.5 L1862.7,558.7 L1862.9,560.8 L1863.1,563.0 L1863.3,565.1 L1863.4,567.1 L1863.6,569.1 L1863.8,570.9 L1864.0,572.7 L1864.2,574.2 L1864.4,575.6 L1864.5,576.8 L1864.8,577.7 L1865.0,578.5 L1865.2,578.9 L1865.4,579.1 L1865.6,578.9 L1865.9,578.3 L1866.1,577.4 L1866.4,576.2 L1866.6,574.7 L1866.9,572.9 L1867.2,571.0 L1867.4,568.9 L1867.7,566.6 L1868.0,564.3 L1868.3,561.9 L1868.6,559.5 L1868.9,557.1 L1869.2,554.8 L1869.4,552.6 L1869.7,550.5 L1870.0,548.6 L1870.3,546.9 L1870.6,545.4 L1870.8,544.2 L1871.1,543.3 L1871.3,542.8 L1871.6,542.7 L1871.8,542.9 L1872.0,543.4 L1872.3,544.1 L1872.5,545.1 L1872.7,546.2 L1872.9,547.6 L1873.1,549.1 L1873.3,550.8 L1873.5,552.5 L1873.8,554.4 L1874.0,556.4 L1874.2,558.5 L1874.4,560.6 L1874.6,562.8 L1874.8,564.9 L1875.0,567.1 L1875.2,569.2 L1875.4,571.3 L1875.6,573.4 L1875.8,575.3 L1876.0,577.2 L1876.2,579.0 L1876.4,580.6 L1876.6,582.0 L1876.8,583.3 L1877.2,585.6 L1877.6,587.7 L1878.0,589.6 L1878.3,591.3 L1878.7,592.9 L1879.1,594.3 L1879.5,595.6 L1879.9,596.9 L1880.3,598.1 L1880.8,599.4 L1881.4,600.7 L1882.0,602.0 L1882.8,603.5 L1883.6,604.8 L1884.6,606.1 L1885.6,607.4 L1886.6,608.6 L1887.7,609.8 L1888.7,611.0 L1889.7,612.3 L1890.7,613.6 L1891.6,615.1 L1892.5,616.6 L1893.2,618.0 L1893.8,619.4 L1894.4,620.9 L1895.0,622.4 L1895.6,624.0 L1896.2,625.5 L1896.7,627.2 L1897.2,628.8 L1897.7,630.5 L1898.2,632.2 L1898.7,633.9 L1899.2,635.6 L1899.7,637.4 L1900.1,638.9 L1900.5,640.4 L1900.9,642.0 L1901.2,643.5 L1901.6,645.0 L1901.9,646.6 L1902.2,648.2 L1902.6,649.8 L1902.9,651.4 L1903.2,653.1 L1903.6,654.9 L1903.9,656.7 L1904.3,658.5 L1904.6,660.4 L1905.0,662.4 L1905.3,663.8 L1905.5,665.3 L1905.8,666.8 L1906.0,668.4 L1906.3,670.0 L1906.6,671.6 L1906.8,673.3 L1907.1,675.0 L1907.4,676.8 L1907.6,678.5 L1907.9,680.2 L1908.2,682.0 L1908.5,683.7 L1908.8,685.4 L1909.0,687.1 L1909.3,688.8 L1909.6,690.4 L1909.9,692.0 L1910.2,693.5 L1910.6,695.0 L1910.9,696.4 L1911.2,697.8 L1911.7,699.7 L1912.2,701.6 L1912.7,703.4 L1913.2,705.1 L1913.7,706.8 L1914.3,708.5 L1914.8,710.0 L1915.4,711.6 L1915.9,713.0 L1916.5,714.4 L1917.1,715.8 L1917.7,717.1 L1918.3,718.4 L1918.9,719.6 L1919.5,720.7 L1920.5,722.5 L1921.4,724.0 L1922.3,725.4 L1923.3,726.6 L1924.3,727.7 L1925.4,728.7 L1926.7,729.6 L1928.2,730.4 L1929.9,731.2 L1931.2,731.6 L1932.6,731.9 L1934.1,731.8 L1935.8,731.9 L1937.5,732.8 L1939.3,733.6 L1941.1,733.4 L1942.9,733.2 L1944.7,733.4 L1946.5,733.3 L1948.2,733.1 L1949.9,733.2 L1951.4,733.9 L1952.8,734.8 L1954.4,735.6 L1956.0,736.0 L1957.4,736.5 L1958.7,737.8 L1960.0,739.0 L1961.2,739.8 L1962.4,740.9 L1963.6,742.3 L1964.9,743.6 L1966.1,744.1 L1967.4,744.5 L1969.0,745.9 L1970.4,746.7 L1971.8,746.9 L1973.2,747.3 L1974.7,747.9 L1976.2,748.2 L1977.9,748.5 L1979.8,748.8 L1982.0,748.8 L1983.3,748.9 L1984.6,748.4 L1986.0,748.0 L1987.4,747.9 L1988.9,747.4 L1990.5,747.0 L1992.1,747.2 L1993.7,747.0 L1995.3,746.2 L1997.0,745.5 L1998.7,745.2 L2000.4,744.9 L2002.2,744.6 L2003.9,744.3 L2005.6,743.6 L2007.4,742.4 L2009.1,741.8 L2010.7,742.1 L2012.3,742.5 L2014.0,742.6 L2015.7,742.5 L2017.4,742.5 L2019.2,742.4 L2021.0,742.2 L2022.8,742.1 L2024.6,742.0 L2026.4,742.1 L2028.1,742.0 L2029.8,741.9 L2031.5,742.3 L2033.2,742.8 L2034.7,742.7 L2036.3,742.2 L2037.7,742.0 L2039.0,742.1 L2040.3,742.2 L2042.7,741.7 L2044.7,741.1 L2046.5,740.5 L2048.0,739.9 L2049.5,739.1 L2050.8,738.4 L2052.1,737.5 L2053.5,736.5 L2054.9,735.3 L2056.0,734.2 L2057.0,733.0 L2058.0,731.6 L2059.0,730.1 L2059.9,728.5 L2060.9,726.9 L2061.9,725.3 L2062.9,723.8 L2063.9,722.3 L2065.0,720.9 L2066.1,719.7 L2067.4,718.7 L2068.8,717.9 L2070.3,717.3 L2071.9,716.8 L2073.6,716.4 L2075.3,716.1 L2077.0,715.8 L2078.7,715.6 L2080.4,715.4 L2082.0,715.0 L2083.5,714.7 L2084.9,714.2 L2086.1,713.5 L2087.5,712.3 L2088.6,710.8 L2089.6,709.1 L2090.4,707.2 L2091.2,705.5 L2091.9,703.8 L2092.7,702.5 L2093.5,701.5 L2094.5,701.0 L2095.7,701.2 L2096.9,702.2 L2098.2,703.7 L2099.4,705.4 L2100.8,707.1 L2102.1,708.7 L2103.5,710.0 L2104.9,710.6 L2106.2,710.1 L2107.5,709.7 L2108.9,709.3 L2110.3,708.2 L2111.7,707.0 L2113.2,705.3 L2114.6,703.9 L2116.0,703.2 L2117.4,702.2 L2118.7,701.2 L2120.0,700.2 L2121.3,699.3 L2122.5,698.5 L2123.8,697.2 L2125.1,695.8 L2126.6,695.1 L2128.1,695.3 L2129.9,695.2 L2131.3,694.6 L2132.8,694.8 L2134.4,696.2 L2136.1,697.4 L2137.8,697.6 L2139.6,697.7 L2141.4,698.5 L2143.2,699.2 L2144.9,700.1 L2146.5,701.4 L2148.0,702.1 L2149.5,702.0 L2150.7,701.5 L2152.6,700.5 L2154.2,699.6 L2155.5,698.4 L2156.7,697.0 L2157.8,695.6 L2158.9,694.8 L2160.1,695.2 L2160.9,695.8 L2161.6,696.3 L2162.3,697.2 L2163.0,698.8 L2163.7,701.0 L2164.4,702.9 L2165.2,704.4 L2165.9,706.3 L2166.7,708.3 L2167.5,710.0 L2168.4,711.1 L2169.4,711.8 L2170.8,712.8 L2172.3,714.0 L2174.0,715.0 L2175.6,714.8 L2177.4,714.3 L2179.1,714.6 L2180.8,715.0 L2182.4,715.2 L2184.0,715.9 L2185.4,716.6 L2186.8,717.1 L2188.1,717.9 L2189.4,718.8 L2190.6,719.7 L2192.0,720.9 L2193.3,721.9 L2194.9,722.9 L2196.5,724.2 L2197.7,724.8 L2199.1,725.2 L2200.5,726.0 L2201.9,726.9 L2203.4,728.3 L2205.0,729.0 L2206.5,729.1 L2208.0,730.5 L2209.5,731.9 L2211.0,731.9 L2212.5,731.9 L2213.9,732.5 L2215.2,733.0 L2217.0,733.7 L2218.8,733.7 L2220.6,733.0 L2222.3,732.4 L2224.0,731.6 L2225.6,731.0 L2227.1,730.3 L2228.5,729.6 L2229.8,729.5 L2231.8,729.4 L2233.3,729.8 L2234.7,731.2 L2236.2,732.2 L2238.1,732.9 L2239.3,733.9 L2240.7,735.2 L2242.3,736.1 L2243.9,737.2 L2245.6,738.5 L2247.2,739.4 L2248.7,740.3 L2250.0,741.2 L2251.1,742.0 L2252.0,742.6" fill="none" stroke="#008C4C" stroke-width="5.5" stroke-linejoin="round" stroke-linecap="round"/>
<path d="M63.2,904.7 L64.1,904.8 L65.0,904.9 L66.0,904.8 L67.1,904.5 L68.3,904.0 L69.5,904.2 L70.8,905.4 L72.2,905.2 L73.7,904.4 L75.1,904.3 L76.7,904.3 L78.3,904.8 L79.9,905.3 L81.6,905.4 L83.3,905.4 L85.1,905.2 L86.9,905.5 L88.7,905.4 L90.5,905.1 L92.3,905.2 L94.2,905.1 L96.1,905.4 L98.0,905.5 L99.9,905.4 L101.7,905.4 L103.6,905.2 L105.5,905.5 L107.4,905.9 L109.2,905.7 L111.1,905.1 L112.9,905.4 L114.6,906.0 L116.4,906.9 L117.9,907.2 L119.4,906.4 L121.0,906.0 L122.5,906.5 L124.1,906.7 L125.6,906.5 L127.2,906.7 L128.8,906.8 L130.4,906.4 L132.0,906.5 L133.6,907.4 L135.2,908.1 L136.8,908.3 L138.4,908.0 L140.0,908.3 L141.7,908.4 L143.3,908.2 L144.9,908.7 L146.6,909.0 L148.2,908.7 L149.9,908.7 L151.5,908.9 L153.2,908.8 L154.8,908.6 L156.5,908.6 L158.1,908.2 L159.8,908.3 L161.4,909.4 L163.1,910.1 L164.7,910.0 L166.4,909.5 L168.0,909.1 L169.7,909.4 L171.3,910.1 L172.9,910.1 L174.6,910.2 L176.2,910.5 L177.8,911.0 L179.4,910.9 L181.1,910.4 L182.7,910.7 L184.4,911.4 L186.0,911.8 L187.7,911.9 L189.4,911.6 L191.1,912.0 L192.8,912.8 L194.5,912.2 L196.2,911.1 L197.9,911.6 L199.6,912.2 L201.3,912.2 L203.0,912.3 L204.7,912.9 L206.4,912.8 L208.1,912.6 L209.8,913.2 L211.5,913.4 L213.1,913.3 L214.8,912.9 L216.4,913.0 L218.1,913.5 L219.7,913.2 L221.3,913.5 L222.9,914.0 L224.5,913.3 L226.1,913.2 L227.6,914.1 L229.1,914.5 L230.7,913.8 L232.1,913.4 L233.6,913.7 L235.0,913.9 L236.5,914.0 L237.8,914.1 L239.2,913.7 L241.2,913.1 L243.2,913.1 L245.2,913.7 L247.1,914.6 L249.0,915.1 L250.9,914.6 L252.7,914.4 L254.5,914.5 L256.3,913.7 L258.0,913.8 L259.7,914.9 L261.4,914.5 L263.0,913.4 L264.6,912.8 L266.2,912.4 L267.7,912.5 L269.2,912.9 L270.7,913.4 L272.1,913.3 L273.6,912.5 L274.9,912.7 L276.3,914.2 L277.6,914.6 L278.9,912.9 L280.1,911.9 L282.3,912.7 L284.3,912.9 L286.1,912.2 L287.7,911.8 L289.2,911.4 L290.6,911.4 L291.9,911.3 L293.2,910.6 L294.5,909.8 L295.9,909.4 L297.3,909.1 L298.9,908.4 L300.6,907.7 L302.0,907.3 L303.5,906.9 L305.0,906.5 L306.6,906.0 L308.2,905.6 L309.9,905.1 L311.5,904.6 L313.2,904.2 L314.9,903.7 L316.5,903.2 L318.2,902.7 L319.8,902.2 L321.4,901.6 L322.9,901.1 L324.4,900.6 L325.8,900.0 L327.2,899.5 L328.9,898.8 L330.5,898.1 L332.0,897.5 L333.4,896.8 L334.8,896.2 L336.1,895.5 L337.4,894.8 L338.7,894.0 L340.1,893.2 L341.4,892.3 L342.7,891.4 L344.1,890.3 L345.6,889.2 L346.7,888.3 L347.8,887.4 L348.9,886.4 L350.1,885.3 L351.3,884.3 L352.4,883.2 L353.6,882.0 L354.8,880.8 L356.0,879.6 L357.2,878.4 L358.3,877.2 L359.5,876.0 L360.6,874.8 L361.8,873.5 L362.9,872.3 L364.0,871.1 L365.1,870.0 L366.1,868.8 L367.2,867.5 L368.3,866.3 L369.4,865.0 L370.5,863.8 L371.5,862.6 L372.6,861.4 L373.6,860.2 L374.6,858.9 L375.5,857.7 L376.5,856.4 L377.5,855.2 L378.5,853.9 L379.5,852.5 L380.5,851.2 L381.5,849.7 L382.5,848.3 L383.4,847.1 L384.2,845.8 L385.0,844.5 L385.9,843.2 L386.7,841.9 L387.5,840.6 L388.4,839.3 L389.2,838.0 L390.0,836.6 L390.9,835.2 L391.7,833.8 L392.6,832.4 L393.4,830.9 L394.3,829.4 L395.2,827.9 L396.1,826.4 L397.0,824.9 L397.9,823.3 L398.9,821.7 L399.6,820.4 L400.4,819.1 L401.2,817.8 L402.0,816.4 L402.8,815.0 L403.6,813.5 L404.4,812.0 L405.3,810.5 L406.1,809.0 L407.0,807.5 L407.8,806.0 L408.7,804.4 L409.5,802.9 L410.4,801.4 L411.2,799.9 L412.1,798.4 L412.9,797.0 L413.8,795.5 L414.6,794.2 L415.4,792.8 L416.2,791.5 L417.0,790.3 L417.8,789.1 L418.6,788.0 L419.3,786.9 L420.6,785.1 L422.0,783.5 L423.3,782.0 L424.6,780.6 L425.9,779.4 L427.2,778.2 L428.5,777.0 L429.7,776.0 L430.9,775.0 L432.0,774.1 L433.0,773.2 L434.0,772.3 L434.9,771.4 L435.7,770.5 L437.1,768.8 L438.0,767.7 L438.6,766.8 L439.1,765.8 L439.6,764.3 L440.5,762.1 L440.9,761.0 L441.4,759.8 L441.9,758.5 L442.3,757.1 L442.9,755.6 L443.4,754.0 L443.9,752.4 L444.5,750.7 L445.0,749.1 L445.6,747.4 L446.2,745.7 L446.7,744.0 L447.3,742.3 L447.9,740.7 L448.4,739.1 L449.0,737.6 L449.6,736.0 L450.2,734.5 L450.8,733.0 L451.5,731.5 L452.1,730.0 L452.8,728.5 L453.4,727.0 L454.0,725.5 L454.7,724.0 L455.3,722.5 L456.0,721.0 L456.6,719.5 L457.2,718.0 L457.8,716.5 L458.4,715.0 L459.0,713.4 L459.6,711.6 L460.1,709.8 L460.7,707.9 L461.3,705.9 L461.8,704.0 L462.4,702.1 L462.9,700.2 L463.4,698.4 L464.0,696.8 L464.5,695.3 L465.0,694.0 L465.6,692.9 L466.1,692.1 L466.6,691.5 L467.5,691.2 L468.5,691.7 L469.4,692.8 L470.3,694.5 L471.2,696.4 L472.0,698.6 L472.9,700.7 L473.8,702.7 L474.4,704.0 L475.0,705.5 L475.5,707.2 L476.1,708.9 L476.6,710.7 L477.2,712.5 L477.7,714.2 L478.3,715.9 L478.9,717.5 L479.5,718.9 L480.2,720.2 L480.9,721.2 L482.4,722.5 L484.1,723.2 L485.9,723.4 L487.7,723.5 L489.5,723.6 L491.2,724.2 L492.6,724.9 L493.9,725.6 L495.2,726.3 L496.5,727.2 L497.8,728.3 L499.1,729.6 L500.4,731.4 L501.1,732.4 L501.7,733.5 L502.4,734.7 L503.1,735.9 L503.7,737.2 L504.4,738.6 L505.1,740.1 L505.7,741.6 L506.4,743.1 L507.0,744.8 L507.7,746.5 L508.3,748.2 L509.0,750.0 L509.6,751.9 L510.0,753.2 L510.4,754.6 L510.8,756.0 L511.2,757.5 L511.6,759.0 L512.0,760.6 L512.4,762.2 L512.8,763.8 L513.2,765.5 L513.6,767.2 L514.0,768.8 L514.3,770.5 L514.7,772.2 L515.1,773.8 L515.5,775.5 L515.9,777.1 L516.3,778.7 L516.6,780.2 L517.0,781.8 L517.4,783.2 L517.8,784.6 L518.3,786.4 L518.8,788.1 L519.3,789.7 L519.8,791.4 L520.2,793.0 L520.7,794.5 L521.2,796.0 L521.6,797.5 L522.1,799.0 L522.6,800.5 L523.1,801.9 L523.7,803.4 L524.2,804.8 L524.8,806.3 L525.4,807.7 L526.0,809.2 L526.7,810.8 L527.4,812.4 L528.2,813.9 L529.0,815.5 L529.8,817.1 L530.6,818.6 L531.4,820.2 L532.3,821.7 L533.1,823.2 L534.0,824.7 L534.8,826.2 L535.7,827.6 L536.5,829.0 L537.4,830.4 L538.2,831.7 L539.2,833.3 L540.2,834.8 L541.2,836.3 L542.1,837.7 L543.1,839.1 L544.1,840.4 L545.1,841.7 L546.1,843.0 L547.1,844.3 L548.2,845.6 L549.3,846.8 L550.5,848.1 L551.6,849.3 L552.8,850.4 L553.9,851.6 L555.1,852.7 L556.3,853.8 L557.6,855.0 L558.8,856.1 L560.1,857.1 L561.4,858.2 L562.8,859.3 L564.1,860.3 L565.5,861.4 L566.9,862.4 L568.2,863.4 L569.7,864.3 L571.1,865.3 L572.6,866.2 L574.1,867.2 L575.6,868.1 L577.2,869.0 L578.7,869.9 L580.2,870.8 L581.7,871.6 L583.2,872.4 L584.7,873.2 L586.1,874.0 L587.4,874.7 L589.0,875.5 L590.4,876.3 L591.8,877.0 L593.0,877.7 L594.3,878.3 L595.6,878.9 L596.9,879.4 L598.3,880.0 L599.9,880.6 L601.7,881.2 L603.7,881.8 L605.0,882.2 L606.4,882.6 L607.8,882.9 L609.4,883.3 L611.0,883.7 L612.7,884.1 L614.4,884.4 L616.1,884.8 L617.9,885.2 L619.7,885.6 L621.5,886.0 L623.2,886.3 L625.0,886.7 L626.7,887.1 L628.4,887.5 L630.0,887.9 L631.5,888.2 L633.0,888.6 L634.4,889.0 L636.3,889.6 L638.1,890.2 L639.9,890.8 L641.5,891.4 L643.1,892.0 L644.7,892.6 L646.2,893.2 L647.6,893.8 L649.1,894.4 L650.5,894.9 L652.0,895.4 L653.4,895.8 L654.9,896.2 L656.7,896.6 L658.5,897.0 L660.3,897.4 L662.2,897.8 L664.0,898.1 L665.7,898.3 L667.4,898.5 L669.1,898.6 L670.6,898.6 L672.0,898.5 L673.3,898.2 L675.0,897.5 L676.4,896.4 L677.5,895.1 L678.5,893.6 L679.5,892.0 L680.4,890.5 L681.5,889.0 L682.5,887.7 L683.5,886.2 L684.5,884.6 L685.5,883.0 L686.6,881.5 L687.6,880.3 L688.6,879.3 L689.7,878.8 L691.1,878.9 L692.4,879.9 L693.7,881.3 L695.2,882.7 L696.9,883.7 L698.9,883.9 L700.1,883.7 L701.3,883.3 L702.7,882.8 L704.2,882.1 L705.7,881.4 L707.2,880.6 L708.8,879.7 L710.3,878.8 L711.9,877.8 L713.4,876.8 L714.9,875.7 L716.3,874.7 L717.5,873.7 L718.8,872.4 L719.9,871.1 L721.1,869.6 L722.3,868.1 L723.4,866.6 L724.6,865.1 L725.7,863.7 L726.9,862.4 L728.1,861.3 L729.2,860.4 L730.5,859.7 L731.7,859.3 L733.1,859.2 L734.4,859.3 L735.8,859.6 L737.2,860.1 L738.5,860.8 L740.0,861.7 L741.4,862.6 L742.8,863.7 L744.3,864.8 L745.9,866.0 L747.5,867.3 L749.1,868.5 L750.2,869.3 L751.2,870.2 L752.3,871.2 L753.4,872.3 L754.6,873.4 L755.7,874.5 L756.8,875.7 L758.0,876.9 L759.2,878.1 L760.4,879.3 L761.6,880.5 L762.8,881.7 L764.0,882.9 L765.3,884.1 L766.5,885.2 L767.8,886.2 L769.0,887.2 L770.3,888.1 L771.6,889.0 L773.1,889.9 L774.6,890.7 L776.1,891.5 L777.7,892.2 L779.3,893.0 L780.9,893.6 L782.5,894.3 L784.1,894.9 L785.8,895.4 L787.4,896.0 L789.0,896.5 L790.6,897.0 L792.2,897.5 L793.7,897.9 L795.3,898.4 L796.8,898.8 L798.2,899.2 L800.1,899.7 L801.9,900.2 L803.8,900.6 L805.6,901.0 L807.4,901.3 L809.2,901.6 L810.9,901.9 L812.6,902.1 L814.2,902.3 L815.8,902.5 L817.3,902.6 L818.7,902.8 L820.0,902.9 L821.9,903.0 L823.0,902.8 L823.8,902.5 L824.7,902.2 L826.0,901.9 L828.1,901.9 L831.5,902.1 L832.6,902.2 L833.7,902.3 L834.9,902.5 L836.1,902.7 L837.5,902.8 L838.8,903.0 L840.3,903.2 L841.8,903.4 L843.3,903.7 L844.9,903.9 L846.5,904.2 L848.1,904.4 L849.8,904.4 L851.5,904.8 L853.3,905.5 L855.1,906.1 L856.9,906.3 L858.7,906.5 L860.5,906.8 L862.4,906.9 L864.2,906.9 L866.1,906.7 L868.0,906.4 L869.9,907.1 L871.7,908.1 L873.6,908.4 L875.5,908.3 L877.3,908.4 L878.8,908.2 L880.3,908.4 L881.8,909.1 L883.4,910.4 L885.0,910.8 L886.6,909.5 L888.2,909.0 L889.9,909.5 L891.5,910.2 L893.2,911.1 L894.9,911.1 L896.6,910.5 L898.3,910.2 L900.0,910.8 L901.8,911.6 L903.5,911.5 L905.2,911.5 L906.9,912.0 L908.7,912.1 L910.4,911.8 L912.1,912.0 L913.8,912.7 L915.5,913.6 L917.2,913.8 L918.9,913.7 L920.5,914.3 L922.2,914.8 L923.8,915.4 L925.4,915.0 L927.0,913.8 L928.5,913.5 L930.1,913.7 L931.6,913.7 L933.1,913.9 L934.5,914.3 L936.4,914.1 L938.2,913.3 L939.9,913.2 L941.6,914.3 L943.2,915.1 L944.8,914.9 L946.3,914.7 L947.8,914.8 L949.3,915.2 L950.8,915.3 L952.2,915.5 L953.7,915.8 L955.1,916.0 L956.6,916.4 L958.0,916.0 L959.5,915.3 L961.1,914.8 L962.6,915.0 L964.2,915.6 L965.9,916.0 L967.6,916.5 L969.5,916.5 L971.3,916.9 L973.3,916.8 L975.3,915.7 L977.5,915.4 L978.8,916.6 L980.2,917.5 L981.7,917.3 L983.2,917.1 L984.7,917.4 L986.3,917.8 L988.0,917.7 L989.7,918.1 L991.4,918.6 L993.1,918.3 L994.9,918.8 L996.7,919.4 L998.6,918.6 L1000.4,918.2 L1002.3,918.2 L1004.2,918.6 L1006.1,919.2 L1008.0,918.8 L1009.9,917.7 L1011.8,917.6 L1013.7,918.8 L1015.6,919.4 L1017.5,918.8 L1019.4,918.5 L1021.3,918.8 L1023.1,919.4 L1024.9,919.5 L1026.7,919.4 L1028.5,919.3 L1030.2,919.3 L1031.9,919.4 L1033.6,920.0 L1035.2,921.2 L1036.7,921.7 L1038.2,921.7 L1039.7,921.9 L1041.1,921.4 L1042.5,920.9 L1043.7,921.4 L1045.0,921.7 L1046.1,921.4 L1047.2,920.8 L1048.2,920.4 L1049.1,920.7 L1055.7,922.5 L1054.9,924.0 L1054.8,925.1 L1056.1,925.3 L1057.6,924.4 L1059.3,923.2 L1061.0,921.8 L1062.8,920.5 L1064.5,920.5 L1066.2,920.7 L1067.9,920.0 L1069.6,919.7 L1071.4,920.5 L1073.2,921.7 L1074.8,922.4 L1076.4,923.0 L1077.7,923.1 L1079.4,921.8 L1080.4,920.3 L1083.4,919.9 L1084.5,919.8 L1085.7,919.6 L1087.1,919.8 L1088.5,920.5 L1090.1,921.5 L1091.7,921.7 L1093.4,921.5 L1095.2,921.8 L1097.0,922.2 L1098.8,923.2 L1100.7,924.0 L1102.6,924.1 L1104.4,924.0 L1106.3,924.1 L1107.8,924.3 L1109.4,923.4 L1111.0,922.9 L1112.7,923.8 L1114.3,924.2 L1116.0,924.0 L1117.7,923.9 L1119.4,923.8 L1121.2,923.3 L1122.9,923.6 L1124.6,924.7 L1126.4,924.9 L1128.1,924.9 L1129.9,925.2 L1131.6,924.9 L1133.3,924.3 L1135.0,923.9 L1136.7,923.5 L1138.5,923.6 L1140.3,923.9 L1142.1,923.8 L1143.9,923.3 L1145.8,922.8 L1147.6,922.6 L1149.5,922.6 L1151.3,923.3 L1153.0,923.8 L1154.8,923.6 L1156.4,922.7 L1158.0,921.7 L1159.6,922.0 L1161.0,922.9 L1162.4,922.1 L1163.6,921.4 L1166.2,922.5 L1168.2,923.4 L1169.9,923.7 L1171.3,924.4 L1172.5,924.7 L1173.8,924.3 L1175.1,923.6 L1177.0,923.2 L1178.7,923.4 L1180.3,922.8 L1181.9,921.7 L1183.6,921.4 L1185.0,921.3 L1186.1,922.1 L1187.3,923.3 L1189.2,923.4 L1192.2,923.3 L1193.4,924.4 L1194.7,925.9 L1196.1,926.1 L1197.6,925.6 L1199.2,925.6 L1200.8,925.6 L1202.6,925.7 L1204.4,926.2 L1206.2,926.0 L1208.1,925.2 L1210.0,925.2 L1211.9,925.2 L1213.7,924.8 L1215.6,924.9 L1217.4,925.1 L1219.2,925.5 L1220.9,925.8 L1222.6,926.0 L1224.4,926.1 L1226.1,926.6 L1227.9,927.0 L1229.8,926.7 L1231.6,926.4 L1233.4,926.5 L1235.2,926.1 L1237.0,926.4 L1238.7,927.5 L1240.5,927.8 L1242.1,928.0 L1243.8,928.3 L1245.3,928.2 L1246.8,927.4 L1248.2,926.8 L1249.5,926.3 L1251.7,926.0 L1253.7,926.4 L1255.5,926.1 L1257.1,924.7 L1258.6,923.3 L1260.0,922.6 L1261.3,922.3 L1262.5,921.3 L1263.8,920.3 L1265.5,920.5 L1266.9,921.1 L1268.1,922.8 L1269.3,925.3 L1270.7,926.5 L1272.4,926.5 L1273.8,926.2 L1275.4,926.8 L1277.1,927.9 L1278.8,928.3 L1280.6,927.9 L1282.4,928.3 L1284.0,929.2 L1285.5,930.0 L1286.7,930.3 L1288.2,928.8 L1288.7,927.2 L1289.6,926.2 L1292.5,925.5 L1293.5,925.7 L1294.7,926.4 L1295.9,926.9 L1297.3,927.2 L1298.8,927.4 L1300.3,927.5 L1302.0,927.9 L1303.6,928.4 L1305.4,929.3 L1307.1,929.7 L1308.9,929.9 L1310.7,930.5 L1312.5,930.7 L1314.3,931.1 L1316.1,932.0 L1317.8,932.4 L1319.5,932.2 L1321.1,932.4 L1322.8,933.2 L1324.4,933.4 L1326.0,933.3 L1327.5,933.4 L1329.1,934.0 L1330.6,934.5 L1332.2,934.3 L1333.7,933.7 L1335.3,933.3 L1336.9,934.0 L1338.5,934.9 L1340.2,934.4 L1342.0,934.6 L1343.8,935.5 L1345.7,935.4 L1347.6,935.0 L1349.7,935.3 L1351.1,935.9 L1352.5,936.1 L1354.0,935.6 L1355.5,935.5 L1357.1,936.1 L1358.6,935.9 L1360.2,935.5 L1361.9,935.2 L1363.5,934.9 L1365.2,935.1 L1366.9,934.9 L1368.6,935.1 L1370.3,936.0 L1372.0,936.4 L1373.8,936.6 L1375.5,936.5 L1377.3,936.1 L1379.0,935.5 L1380.7,935.2 L1382.5,935.5 L1384.2,936.1 L1385.9,937.0 L1387.7,937.5 L1389.4,936.9 L1391.0,936.5 L1392.7,936.8 L1394.4,936.9 L1396.1,936.8 L1397.8,937.0 L1399.6,937.1 L1401.4,936.9 L1403.2,936.6 L1405.0,937.1 L1406.8,938.3 L1408.7,938.2 L1410.5,937.3 L1412.3,937.3 L1414.1,937.8 L1415.9,937.9 L1417.7,937.5 L1419.5,937.6 L1421.2,937.6 L1422.9,937.2 L1424.5,937.3 L1426.1,936.8 L1427.6,936.7 L1429.1,937.3 L1430.6,937.3 L1431.9,937.1 L1433.2,937.4 L1434.5,937.6 L1435.6,937.5 L1438.5,937.1 L1440.8,936.2 L1442.7,936.1 L1444.2,936.7 L1445.4,937.2 L1446.6,937.4 L1447.6,937.2 L1448.7,937.4 L1450.0,937.9 L1452.0,937.7 L1453.8,937.7 L1455.5,938.1 L1457.1,937.5 L1458.7,936.6 L1460.4,937.3 L1462.2,937.7 L1463.9,937.5 L1465.7,937.2 L1467.5,936.7 L1469.2,935.8 L1470.8,934.5 L1471.7,933.5 L1472.6,932.3 L1473.5,930.9 L1474.4,929.4 L1475.3,927.9 L1476.1,926.2 L1476.9,924.6 L1477.8,922.9 L1478.6,921.3 L1479.5,919.7 L1480.3,918.3 L1481.1,916.8 L1481.9,915.3 L1482.7,913.8 L1483.5,912.2 L1484.3,910.7 L1485.1,909.2 L1485.9,907.8 L1486.7,906.5 L1487.4,905.2 L1488.2,904.1 L1489.6,902.2 L1490.9,900.3 L1492.2,898.7 L1493.4,897.5 L1494.7,896.6 L1496.0,896.3 L1497.3,896.6 L1498.5,897.4 L1499.7,898.6 L1501.0,900.2 L1502.3,902.1 L1503.8,904.1 L1504.6,905.2 L1505.4,906.5 L1506.3,908.0 L1507.1,909.5 L1508.0,911.1 L1508.9,912.7 L1509.9,914.4 L1510.8,916.0 L1511.7,917.5 L1512.5,919.0 L1513.4,920.3 L1514.2,921.5 L1515.5,923.3 L1516.8,924.8 L1518.0,926.2 L1519.1,927.4 L1520.3,928.4 L1521.6,929.4 L1522.9,930.2 L1524.5,931.1 L1526.2,931.8 L1528.0,932.4 L1529.8,932.8 L1531.5,932.9 L1533.3,932.8 L1534.8,932.4 L1536.3,931.8 L1537.8,931.0 L1539.2,930.1 L1540.7,929.0 L1542.2,927.9 L1543.7,926.7 L1544.9,925.7 L1546.1,924.5 L1547.4,923.3 L1548.6,921.9 L1549.8,920.6 L1551.0,919.3 L1552.1,918.2 L1553.2,917.1 L1554.1,916.3 L1556.0,914.5 L1557.2,913.6 L1559.3,913.7 L1560.5,914.0 L1561.8,914.5 L1563.2,915.2 L1564.8,915.9 L1566.4,916.8 L1568.0,917.7 L1569.8,918.7 L1571.5,919.7 L1572.8,920.5 L1574.2,921.5 L1575.6,922.5 L1577.1,923.6 L1578.6,924.8 L1580.1,925.9 L1581.5,926.9 L1583.0,927.8 L1584.4,928.5 L1585.8,929.0 L1587.1,929.3 L1588.8,929.3 L1590.4,928.9 L1592.0,928.2 L1593.5,927.3 L1594.9,926.2 L1596.4,924.9 L1597.8,923.6 L1599.2,922.3 L1600.3,921.1 L1601.4,919.7 L1602.5,918.2 L1603.5,916.5 L1604.6,914.9 L1605.6,913.2 L1606.6,911.7 L1607.6,910.4 L1608.7,909.3 L1609.7,908.5 L1611.5,908.0 L1613.3,908.2 L1615.1,908.9 L1616.8,909.6 L1618.5,910.2 L1620.1,910.2 L1621.6,909.4 L1622.9,908.1 L1624.2,906.6 L1625.4,905.2 L1626.6,904.3 L1627.9,904.1 L1628.9,904.6 L1629.8,905.7 L1630.7,907.0 L1631.6,908.6 L1632.6,910.3 L1633.6,911.9 L1634.6,913.3 L1635.7,914.5 L1637.1,915.6 L1638.5,916.7 L1640.1,917.7 L1641.6,918.6 L1643.2,919.2 L1644.7,919.6 L1646.1,919.7 L1647.6,919.4 L1649.1,918.7 L1650.4,917.7 L1651.8,916.4 L1653.3,914.7 L1654.8,912.8 L1655.5,911.7 L1656.3,910.3 L1657.0,908.8 L1657.8,907.1 L1658.6,905.4 L1659.4,903.6 L1660.2,901.8 L1661.0,900.1 L1661.8,898.5 L1662.6,897.1 L1663.5,896.0 L1664.3,895.1 L1665.2,894.6 L1666.5,894.5 L1667.9,895.2 L1669.3,896.4 L1670.7,897.9 L1672.1,899.6 L1673.5,901.3 L1674.9,902.7 L1676.1,903.7 L1677.3,904.1 L1678.7,903.7 L1679.9,902.6 L1681.0,901.0 L1682.1,899.2 L1683.1,897.5 L1684.1,896.2 L1685.1,895.4 L1686.7,895.7 L1688.3,897.2 L1689.7,898.7 L1691.2,898.9 L1692.1,898.0 L1692.9,896.4 L1693.8,894.5 L1694.7,892.5 L1695.6,890.7 L1696.4,889.6 L1697.3,889.4 L1698.0,890.0 L1698.6,891.1 L1699.3,892.7 L1700.0,894.5 L1700.6,896.5 L1701.3,898.6 L1702.0,900.7 L1702.7,902.5 L1703.4,904.1 L1704.3,906.0 L1705.3,907.9 L1706.2,909.8 L1707.2,911.5 L1708.2,912.9 L1709.2,914.0 L1710.3,914.5 L1711.5,914.3 L1712.7,913.2 L1714.0,911.6 L1715.4,910.0 L1717.0,908.5 L1719.0,907.6 L1720.4,907.4 L1721.9,907.2 L1723.5,907.2 L1725.2,907.2 L1727.0,907.4 L1728.8,907.5 L1730.7,907.7 L1732.6,908.0 L1734.5,908.2 L1736.3,908.5 L1737.9,908.8 L1739.5,909.2 L1741.2,909.6 L1742.9,910.1 L1744.6,910.7 L1746.3,911.2 L1748.0,911.7 L1749.6,912.1 L1751.2,912.5 L1752.7,912.7 L1754.1,912.9 L1755.4,912.8 L1757.2,912.3 L1758.7,911.3 L1760.2,910.0 L1761.5,908.6 L1762.7,907.2 L1763.8,906.0 L1764.8,905.2 L1765.8,905.0 L1766.9,905.7 L1767.9,907.2 L1768.6,909.1 L1769.3,911.3 L1770.1,913.2 L1771.0,914.5 L1772.7,916.0 L1774.5,917.2 L1776.3,917.5 L1778.0,916.3 L1778.5,915.5 L1779.0,914.5 L1779.4,913.4 L1779.9,912.1 L1780.3,910.7 L1780.8,909.1 L1781.2,907.5 L1781.6,905.6 L1782.0,903.7 L1782.4,901.6 L1782.8,899.5 L1783.2,897.2 L1783.4,895.9 L1783.6,894.4 L1783.8,892.9 L1784.0,891.3 L1784.2,889.5 L1784.4,887.8 L1784.6,885.9 L1784.8,884.1 L1785.0,882.2 L1785.2,880.3 L1785.4,878.4 L1785.6,876.4 L1785.8,874.6 L1785.9,872.7 L1786.1,870.9 L1786.3,869.2 L1786.5,867.5 L1786.7,865.9 L1786.9,864.4 L1787.1,863.1 L1787.3,861.8 L1787.5,860.7 L1788.2,857.2 L1789.0,854.4 L1789.7,852.4 L1790.5,851.2 L1791.3,850.8 L1792.2,851.2 L1792.6,851.8 L1793.1,852.6 L1793.6,853.8 L1794.1,855.1 L1794.6,856.7 L1795.1,858.4 L1795.7,860.2 L1796.2,862.0 L1796.7,863.9 L1797.3,865.8 L1797.8,867.6 L1798.3,869.4 L1798.8,871.0 L1799.3,872.7 L1799.8,874.6 L1800.2,876.6 L1800.7,878.8 L1801.1,881.0 L1801.6,883.1 L1802.0,885.2 L1802.5,887.0 L1803.0,888.6 L1803.5,889.9 L1804.0,890.7 L1804.5,891.1 L1805.0,891.0 L1805.4,890.6 L1805.7,889.9 L1806.1,889.1 L1806.5,888.0 L1806.9,886.7 L1807.4,885.3 L1807.8,883.7 L1808.2,882.0 L1808.6,880.2 L1809.1,878.3 L1809.5,876.4 L1809.9,874.4 L1810.4,872.5 L1810.8,870.5 L1811.2,868.5 L1811.6,866.7 L1811.9,864.8 L1812.3,863.1 L1812.7,861.5 L1813.0,860.0 L1813.4,858.3 L1813.8,856.6 L1814.1,855.0 L1814.5,853.4 L1814.8,851.9 L1815.1,850.3 L1815.4,848.8 L1815.7,847.3 L1815.9,845.8 L1816.2,844.3 L1816.5,842.8 L1816.8,841.3 L1817.1,839.7 L1817.4,838.1 L1817.7,836.4 L1818.0,834.7 L1818.3,833.1 L1818.5,831.4 L1818.8,829.6 L1819.1,827.6 L1819.3,825.6 L1819.6,823.5 L1819.9,821.4 L1820.1,819.3 L1820.4,817.2 L1820.7,815.2 L1821.0,813.2 L1821.2,811.4 L1821.5,809.7 L1821.8,808.1 L1822.1,806.8 L1822.4,805.7 L1822.7,804.8 L1823.1,804.1 L1823.4,803.8 L1823.8,803.8 L1824.3,804.3 L1824.8,805.2 L1825.3,806.5 L1825.8,808.0 L1826.3,809.8 L1826.9,811.8 L1827.4,813.9 L1828.0,816.1 L1828.5,818.3 L1829.0,820.5 L1829.5,822.6 L1830.0,824.6 L1830.5,826.4 L1831.0,828.0 L1831.6,829.9 L1832.1,832.0 L1832.6,834.1 L1833.1,836.3 L1833.6,838.5 L1834.1,840.5 L1834.6,842.4 L1835.1,844.0 L1835.6,845.3 L1836.1,846.2 L1836.7,846.6 L1837.2,846.5 L1837.6,846.1 L1838.0,845.6 L1838.3,844.9 L1838.7,844.0 L1839.1,843.0 L1839.5,841.8 L1839.9,840.5 L1840.3,839.0 L1840.7,837.5 L1841.1,835.7 L1841.5,833.9 L1841.9,831.9 L1842.3,829.8 L1842.7,827.7 L1843.1,825.4 L1843.5,823.0 L1843.9,820.5 L1844.3,818.0 L1844.5,816.8 L1844.6,815.6 L1844.8,814.3 L1845.0,813.0 L1845.2,811.6 L1845.3,810.2 L1845.5,808.8 L1845.7,807.3 L1845.8,805.8 L1846.0,804.3 L1846.2,802.8 L1846.3,801.2 L1846.5,799.6 L1846.7,797.9 L1846.8,796.3 L1847.0,794.6 L1847.2,792.9 L1847.3,791.2 L1847.5,789.5 L1847.7,787.8 L1847.8,786.0 L1848.0,784.3 L1848.2,782.5 L1848.3,780.8 L1848.5,779.0 L1848.6,777.2 L1848.8,775.5 L1849.0,773.7 L1849.1,771.9 L1849.3,770.2 L1849.4,768.4 L1849.6,766.7 L1849.7,764.9 L1849.9,763.2 L1850.1,761.5 L1850.2,759.8 L1850.4,758.2 L1850.5,756.5 L1850.7,754.9 L1850.8,753.3 L1850.9,751.6 L1851.1,749.9 L1851.2,748.2 L1851.4,746.4 L1851.5,744.5 L1851.7,742.6 L1851.8,740.7 L1852.0,738.8 L1852.1,736.8 L1852.2,734.8 L1852.4,732.8 L1852.5,730.8 L1852.7,728.8 L1852.8,726.8 L1852.9,724.8 L1853.1,722.8 L1853.2,720.9 L1853.3,718.9 L1853.5,717.0 L1853.6,715.1 L1853.7,713.2 L1853.9,711.4 L1854.0,709.6 L1854.1,707.9 L1854.3,706.2 L1854.4,704.6 L1854.5,703.0 L1854.6,701.5 L1854.8,700.1 L1854.9,698.8 L1855.0,697.5 L1855.1,696.3 L1855.3,695.2 L1855.4,694.2 L1855.5,693.3 L1855.6,692.5 L1855.8,691.8 L1855.9,691.3 L1856.0,690.8 L1856.2,690.2 L1856.5,690.1 L1856.7,690.4 L1857.0,691.1 L1857.2,692.2 L1857.4,693.5 L1857.6,695.2 L1857.8,697.0 L1858.1,699.1 L1858.3,701.3 L1858.5,703.7 L1858.7,706.1 L1858.9,708.6 L1859.1,711.0 L1859.3,713.5 L1859.6,715.8 L1859.8,718.1 L1860.0,720.2 L1860.2,722.1 L1860.4,723.7 L1860.6,725.4 L1860.7,727.2 L1860.9,729.2 L1861.1,731.2 L1861.2,733.3 L1861.4,735.4 L1861.5,737.5 L1861.7,739.7 L1861.9,741.8 L1862.0,743.9 L1862.2,746.0 L1862.4,748.0 L1862.5,749.9 L1862.7,751.6 L1862.9,753.3 L1863.1,754.8 L1863.3,756.1 L1863.5,757.2 L1863.7,758.2 L1863.9,758.9 L1864.1,759.3 L1864.3,759.5 L1864.5,759.3 L1864.8,758.7 L1865.1,757.8 L1865.3,756.5 L1865.6,754.9 L1865.9,753.1 L1866.2,751.0 L1866.5,748.8 L1866.8,746.5 L1867.1,744.1 L1867.4,741.7 L1867.7,739.2 L1868.0,736.8 L1868.3,734.5 L1868.6,732.3 L1868.9,730.3 L1869.2,728.5 L1869.5,727.0 L1869.8,725.7 L1870.1,724.8 L1870.3,724.2 L1870.6,724.1 L1870.8,724.3 L1871.1,724.8 L1871.3,725.6 L1871.5,726.6 L1871.8,727.7 L1872.0,729.1 L1872.2,730.7 L1872.5,732.4 L1872.7,734.2 L1872.9,736.1 L1873.1,738.2 L1873.3,740.3 L1873.5,742.4 L1873.8,744.6 L1874.0,746.8 L1874.2,749.0 L1874.4,751.1 L1874.6,753.2 L1874.8,755.3 L1875.0,757.2 L1875.2,759.0 L1875.4,760.7 L1875.6,762.3 L1875.8,763.7 L1876.1,765.9 L1876.4,767.9 L1876.7,769.7 L1876.9,771.5 L1877.1,773.2 L1877.3,774.8 L1877.6,776.3 L1877.8,777.8 L1878.1,779.3 L1878.4,780.7 L1878.7,782.1 L1879.1,783.6 L1879.5,785.1 L1880.0,786.6 L1880.6,788.1 L1881.2,789.6 L1881.9,791.1 L1882.6,792.5 L1883.3,793.9 L1884.1,795.3 L1884.9,796.7 L1885.8,798.2 L1886.6,799.6 L1887.4,801.1 L1888.2,802.6 L1889.0,804.1 L1889.7,805.7 L1890.4,807.4 L1890.9,808.8 L1891.5,810.3 L1892.0,811.7 L1892.5,813.2 L1893.1,814.7 L1893.6,816.2 L1894.1,817.8 L1894.6,819.4 L1895.0,821.0 L1895.5,822.6 L1896.0,824.2 L1896.5,825.9 L1896.9,827.6 L1897.4,829.3 L1897.8,831.0 L1898.3,832.7 L1898.7,834.5 L1899.0,836.0 L1899.4,837.4 L1899.7,838.9 L1900.0,840.5 L1900.3,842.0 L1900.6,843.6 L1901.0,845.2 L1901.3,846.8 L1901.5,848.4 L1901.8,850.1 L1902.1,851.7 L1902.4,853.3 L1902.7,855.0 L1903.0,856.6 L1903.3,858.3 L1903.6,859.9 L1903.8,861.5 L1904.1,863.1 L1904.4,864.7 L1904.7,866.3 L1905.0,867.8 L1905.3,869.5 L1905.6,871.2 L1906.0,873.0 L1906.3,874.7 L1906.6,876.5 L1906.9,878.3 L1907.2,880.0 L1907.5,881.8 L1907.8,883.5 L1908.1,885.2 L1908.4,886.9 L1908.8,888.6 L1909.1,890.2 L1909.4,891.8 L1909.8,893.4 L1910.1,894.9 L1910.5,896.3 L1910.8,897.8 L1911.2,899.1 L1911.8,901.1 L1912.4,903.1 L1913.0,904.9 L1913.7,906.7 L1914.3,908.4 L1915.0,909.9 L1915.6,911.5 L1916.3,912.9 L1917.1,914.2 L1917.8,915.5 L1918.7,916.7 L1919.5,917.8 L1920.7,919.1 L1921.8,920.3 L1923.0,921.3 L1924.3,922.2 L1925.6,922.9 L1927.1,923.6 L1928.6,924.1 L1930.2,924.6 L1932.0,925.2 L1933.3,925.7 L1934.8,925.7 L1936.4,925.5 L1938.0,925.6 L1939.7,925.6 L1941.4,925.6 L1943.1,925.7 L1944.9,925.8 L1946.6,925.6 L1948.3,925.6 L1949.9,925.9 L1951.4,925.8 L1952.8,925.7 L1954.5,926.5 L1956.1,927.7 L1957.6,928.5 L1959.1,929.3 L1960.5,930.3 L1961.9,931.4 L1963.2,932.4 L1964.6,933.3 L1966.0,934.0 L1967.4,934.6 L1969.0,935.2 L1970.4,935.6 L1971.8,936.4 L1973.2,937.2 L1974.7,937.3 L1976.2,937.4 L1977.9,938.0 L1979.8,937.8 L1982.0,937.5 L1983.3,937.5 L1984.6,937.3 L1986.0,936.8 L1987.4,936.9 L1988.9,936.8 L1990.5,936.2 L1992.1,935.6 L1993.7,935.4 L1995.3,935.4 L1997.0,935.3 L1998.7,934.6 L2000.4,933.9 L2002.2,933.5 L2003.9,933.2 L2005.6,932.8 L2007.4,932.9 L2009.1,932.8 L2010.7,932.3 L2012.3,932.1 L2014.0,932.2 L2015.7,931.9 L2017.5,931.8 L2019.3,932.0 L2021.1,932.0 L2022.9,932.1 L2024.7,932.3 L2026.5,932.6 L2028.3,932.7 L2030.0,932.7 L2031.7,932.6 L2033.3,932.5 L2034.9,932.8 L2036.4,932.5 L2037.8,932.2 L2039.1,932.2 L2040.3,932.3 L2042.8,932.0 L2044.7,931.7 L2046.4,931.1 L2047.7,930.3 L2048.9,929.4 L2050.1,928.4 L2051.4,927.3 L2052.8,926.1 L2053.9,925.1 L2055.0,923.8 L2056.0,922.5 L2057.1,921.0 L2058.1,919.5 L2059.2,918.0 L2060.3,916.5 L2061.4,915.1 L2062.6,913.8 L2063.9,912.6 L2065.3,911.6 L2066.7,910.9 L2068.2,910.3 L2069.8,909.8 L2071.4,909.4 L2073.1,909.1 L2074.8,908.8 L2076.6,908.5 L2078.2,908.3 L2079.8,907.9 L2081.3,907.5 L2082.7,907.0 L2084.0,906.4 L2085.5,905.3 L2086.7,903.9 L2087.8,902.3 L2088.8,900.6 L2089.7,898.9 L2090.6,897.4 L2091.5,896.2 L2092.4,895.3 L2093.4,894.9 L2094.6,895.2 L2095.7,896.1 L2096.9,897.5 L2098.0,899.2 L2099.2,900.9 L2100.4,902.5 L2101.6,903.8 L2102.8,904.3 L2104.2,904.1 L2105.6,903.7 L2107.1,903.4 L2108.5,902.6 L2110.0,901.2 L2111.6,899.8 L2113.2,898.7 L2114.3,898.0 L2115.4,897.1 L2116.4,895.9 L2117.4,894.5 L2118.5,893.3 L2119.7,892.0 L2121.0,890.4 L2122.4,889.4 L2123.9,889.0 L2125.7,888.6 L2126.9,888.7 L2128.3,889.4 L2129.9,889.5 L2131.5,889.8 L2133.1,890.2 L2134.9,890.7 L2136.7,891.6 L2138.5,892.9 L2140.2,894.0 L2142.0,894.4 L2143.7,894.8 L2145.3,895.3 L2146.9,895.7 L2148.3,896.3 L2149.6,896.9 L2150.7,896.8 L2152.7,896.1 L2154.2,895.1 L2155.3,893.5 L2156.2,891.4 L2157.0,889.7 L2157.9,888.4 L2159.0,888.4 L2159.7,889.2 L2160.4,890.3 L2161.2,891.4 L2161.9,892.7 L2162.7,894.5 L2163.4,896.4 L2164.2,898.2 L2165.0,900.2 L2165.8,902.0 L2166.7,903.8 L2167.5,905.3 L2168.5,906.1 L2169.4,907.0 L2170.8,908.1 L2172.4,908.3 L2174.0,908.6 L2175.7,909.3 L2177.4,909.5 L2179.1,909.2 L2180.8,909.1 L2182.4,909.1 L2184.0,909.5 L2185.5,910.3 L2186.8,911.0 L2188.2,911.7 L2189.5,912.6 L2190.8,913.7 L2192.1,914.4 L2193.5,915.2 L2194.9,916.7 L2196.5,917.9 L2197.9,918.6 L2199.3,919.1 L2200.7,919.5 L2202.2,920.4 L2203.7,921.5 L2205.2,922.4 L2206.8,923.0 L2208.4,923.7 L2210.0,924.6 L2211.6,924.6 L2213.2,925.1 L2214.9,925.7 L2216.6,925.6 L2218.4,925.3 L2220.3,924.7 L2222.2,924.3 L2224.0,924.1 L2225.8,923.7 L2227.5,923.6 L2229.1,923.2 L2230.6,922.6 L2231.9,922.7 L2233.6,923.8 L2234.9,925.1 L2236.0,926.3 L2236.9,927.8 L2237.9,929.2 L2238.9,930.1 L2240.2,931.5 L2241.8,932.9 L2243.7,933.1 L2245.6,933.2 L2247.6,933.7 L2249.4,934.0 L2250.9,934.3 L2252.0,934.5" fill="none" stroke="#9421AB" stroke-width="5.5" stroke-linejoin="round" stroke-linecap="round"/>
<path d="M62.2,1084.8 L63.1,1085.0 L64.1,1085.2 L65.2,1085.5 L66.4,1086.1 L67.7,1086.1 L69.2,1085.2 L70.7,1085.5 L72.3,1085.0 L73.9,1084.4 L75.6,1085.3 L77.4,1086.4 L79.2,1085.7 L81.0,1084.8 L82.9,1085.0 L84.8,1084.9 L86.6,1084.7 L88.5,1085.6 L90.4,1085.6 L92.3,1084.5 L94.1,1083.9 L95.9,1084.4 L97.4,1085.5 L98.9,1085.5 L100.5,1085.8 L102.0,1086.4 L103.6,1087.1 L105.2,1087.3 L106.9,1087.0 L108.5,1087.6 L110.1,1087.4 L111.8,1087.3 L113.4,1087.6 L115.1,1087.3 L116.8,1087.8 L118.5,1087.7 L120.2,1087.3 L121.8,1087.7 L123.5,1087.7 L125.2,1087.6 L126.9,1088.2 L128.6,1089.1 L130.3,1089.3 L131.9,1088.7 L133.6,1088.7 L135.3,1088.8 L136.9,1087.9 L138.5,1087.9 L140.2,1089.0 L141.8,1090.1 L143.4,1089.8 L145.1,1089.2 L146.7,1090.3 L148.4,1091.2 L150.0,1090.9 L151.6,1091.4 L153.3,1092.5 L154.9,1091.7 L156.5,1090.2 L158.2,1091.1 L159.8,1092.4 L161.4,1091.4 L163.1,1090.3 L164.7,1091.1 L166.4,1093.3 L168.0,1094.1 L169.6,1092.6 L171.3,1091.8 L172.9,1093.2 L174.5,1094.6 L176.2,1094.6 L177.8,1094.5 L179.4,1094.2 L181.1,1094.1 L182.8,1094.8 L184.5,1096.8 L186.2,1096.7 L188.0,1096.0 L189.7,1096.7 L191.5,1097.4 L193.2,1096.5 L194.9,1096.1 L196.7,1096.5 L198.4,1096.9 L200.1,1097.7 L201.8,1096.4 L203.5,1095.0 L205.2,1096.1 L206.8,1096.9 L208.4,1096.3 L210.0,1095.7 L211.6,1095.4 L213.1,1096.1 L214.5,1097.2 L216.0,1095.9 L217.4,1095.4 L218.7,1096.8 L220.7,1097.0 L222.5,1096.9 L224.3,1098.1 L225.9,1099.4 L227.5,1099.7 L229.0,1100.2 L230.5,1100.1 L231.9,1100.1 L233.3,1101.1 L234.6,1101.6 L236.0,1102.3 L237.4,1103.7 L238.8,1104.5 L240.2,1104.1 L241.7,1103.3 L243.3,1103.2 L244.9,1104.5 L246.7,1106.5 L248.5,1106.8 L250.3,1105.4 L252.1,1104.6 L254.0,1105.6 L255.9,1106.7 L257.8,1106.4 L259.6,1105.7 L261.3,1105.2 L263.0,1104.5 L264.6,1104.8 L266.1,1106.5 L267.5,1107.1 L268.8,1105.2 L269.9,1104.0 L272.1,1104.2 L273.6,1103.9 L274.4,1102.4 L275.0,1100.7 L275.4,1099.7 L276.1,1098.5 L276.8,1097.2 L277.1,1099.4 L277.4,1102.9 L278.3,1104.7 L280.1,1105.3 L281.2,1105.7 L282.6,1106.4 L284.1,1105.9 L285.7,1104.6 L287.5,1103.6 L289.3,1102.8 L291.2,1102.8 L293.2,1102.7 L295.1,1101.7 L297.0,1101.7 L298.8,1102.3 L300.6,1102.6 L302.2,1103.1 L303.9,1102.9 L305.6,1101.7 L307.3,1101.1 L309.0,1101.7 L310.8,1100.6 L312.5,1098.7 L314.1,1099.3 L315.7,1098.6 L317.2,1096.9 L318.6,1097.4 L319.9,1097.3 L321.1,1096.5 L323.1,1095.5 L324.6,1094.5 L325.7,1095.2 L326.7,1094.7 L327.8,1092.9 L329.3,1091.9 L330.6,1091.3 L332.0,1090.6 L333.5,1090.0 L335.1,1089.4 L336.7,1088.8 L338.3,1088.1 L339.9,1087.5 L341.6,1086.8 L343.1,1086.2 L344.6,1085.7 L346.1,1085.3 L347.6,1084.8 L349.2,1084.2 L350.8,1083.6 L352.4,1082.8 L354.1,1081.9 L355.9,1080.7 L357.0,1079.9 L358.2,1079.0 L359.3,1078.0 L360.6,1076.9 L361.8,1075.8 L363.1,1074.6 L364.3,1073.4 L365.6,1072.1 L366.9,1070.9 L368.2,1069.6 L369.4,1068.3 L370.7,1067.0 L371.9,1065.8 L373.1,1064.5 L374.3,1063.3 L375.5,1062.1 L376.6,1060.9 L377.8,1059.6 L378.9,1058.4 L380.1,1057.1 L381.2,1055.8 L382.3,1054.5 L383.4,1053.3 L384.5,1052.0 L385.6,1050.8 L386.7,1049.5 L387.7,1048.3 L388.7,1047.2 L389.7,1046.0 L390.7,1044.9 L392.0,1043.5 L393.1,1042.1 L394.2,1040.8 L395.3,1039.5 L396.3,1038.3 L397.3,1037.1 L398.3,1035.9 L399.4,1034.6 L400.5,1033.3 L401.6,1031.9 L402.9,1030.5 L403.9,1029.4 L404.8,1028.3 L405.8,1027.1 L406.9,1025.9 L407.9,1024.7 L409.0,1023.5 L410.0,1022.3 L411.1,1021.1 L412.2,1019.8 L413.4,1018.5 L414.5,1017.3 L415.7,1016.0 L416.9,1014.7 L418.1,1013.4 L419.3,1012.1 L420.4,1011.0 L421.5,1009.9 L422.6,1008.8 L423.8,1007.6 L425.0,1006.5 L426.2,1005.3 L427.4,1004.2 L428.7,1003.0 L429.9,1001.9 L431.2,1000.7 L432.4,999.5 L433.6,998.4 L434.7,997.2 L435.8,996.1 L436.9,994.9 L437.9,993.8 L438.9,992.7 L439.8,991.6 L440.9,990.1 L442.0,988.7 L442.9,987.3 L443.7,985.9 L444.5,984.6 L445.3,983.2 L446.0,981.8 L446.7,980.5 L447.3,979.1 L448.0,977.7 L448.7,976.2 L449.4,974.7 L450.2,973.2 L450.9,971.8 L451.6,970.3 L452.3,968.7 L453.0,967.1 L453.8,965.5 L454.5,963.8 L455.2,962.1 L455.9,960.5 L456.6,958.9 L457.3,957.3 L458.0,955.8 L458.6,954.4 L459.3,953.0 L459.9,951.8 L460.5,950.7 L461.8,948.3 L462.9,946.3 L463.9,944.6 L464.9,943.4 L466.1,942.7 L467.6,942.5 L468.7,942.8 L469.9,943.4 L471.2,944.4 L472.5,945.5 L473.9,946.8 L475.4,948.1 L476.8,949.3 L478.2,950.4 L479.6,951.2 L480.9,951.7 L482.7,951.9 L484.5,951.6 L486.3,951.0 L488.1,950.2 L489.9,949.5 L491.6,948.9 L493.2,948.7 L495.0,948.7 L496.8,948.9 L498.5,949.2 L500.1,949.7 L501.8,950.5 L503.5,951.7 L504.5,952.6 L505.6,953.7 L506.6,954.8 L507.7,956.1 L508.7,957.5 L509.8,959.0 L510.8,960.5 L511.8,962.0 L512.8,963.5 L513.7,965.0 L514.5,966.4 L515.3,967.8 L516.0,969.3 L516.7,970.8 L517.3,972.4 L518.0,973.9 L518.7,975.5 L519.4,977.0 L520.2,978.5 L521.0,980.0 L521.9,981.4 L522.9,982.8 L523.9,984.1 L524.9,985.4 L526.0,986.8 L527.1,988.0 L528.2,989.3 L529.4,990.6 L530.6,991.8 L531.8,993.1 L533.0,994.4 L534.2,995.7 L535.3,996.9 L536.4,998.1 L537.5,999.2 L538.7,1000.4 L539.8,1001.6 L541.0,1002.8 L542.1,1004.0 L543.4,1005.2 L544.6,1006.4 L545.9,1007.6 L547.2,1008.8 L548.5,1010.1 L549.6,1011.1 L550.7,1012.2 L551.9,1013.3 L553.1,1014.4 L554.3,1015.5 L555.5,1016.7 L556.7,1017.8 L557.9,1018.9 L559.2,1020.1 L560.5,1021.2 L561.7,1022.3 L563.0,1023.4 L564.3,1024.4 L565.6,1025.4 L566.9,1026.4 L568.3,1027.4 L569.8,1028.4 L571.2,1029.3 L572.7,1030.2 L574.2,1031.1 L575.8,1032.0 L577.3,1032.9 L578.8,1033.7 L580.3,1034.5 L581.8,1035.4 L583.2,1036.2 L584.7,1037.0 L586.1,1037.9 L587.4,1038.7 L588.9,1039.7 L590.2,1040.6 L591.4,1041.5 L592.6,1042.4 L593.8,1043.3 L594.9,1044.2 L596.1,1045.1 L597.4,1046.0 L598.7,1047.0 L600.2,1048.0 L601.9,1049.0 L603.7,1050.0 L604.9,1050.6 L606.1,1051.3 L607.3,1051.9 L608.6,1052.6 L610.0,1053.2 L611.4,1053.9 L612.9,1054.6 L614.3,1055.3 L615.8,1056.0 L617.4,1056.7 L618.9,1057.4 L620.5,1058.2 L622.1,1058.9 L623.6,1059.6 L625.2,1060.3 L626.8,1061.0 L628.3,1061.7 L629.9,1062.3 L631.4,1063.0 L632.9,1063.7 L634.4,1064.3 L636.0,1065.0 L637.5,1065.6 L639.1,1066.3 L640.8,1067.0 L642.4,1067.7 L644.1,1068.3 L645.7,1069.0 L647.4,1069.7 L649.0,1070.3 L650.6,1071.0 L652.3,1071.6 L653.8,1072.2 L655.4,1072.8 L656.9,1073.4 L658.4,1074.0 L659.9,1074.6 L661.3,1075.1 L662.6,1075.6 L663.9,1076.1 L665.1,1076.6 L667.3,1077.5 L669.3,1078.4 L671.1,1079.2 L672.8,1079.9 L674.3,1080.6 L675.8,1081.2 L677.2,1081.7 L678.6,1082.2 L680.0,1082.5 L681.5,1082.7 L683.2,1082.8 L684.9,1082.7 L686.6,1082.4 L688.3,1082.1 L689.9,1081.6 L691.5,1081.1 L693.0,1080.6 L694.5,1080.1 L695.9,1079.6 L697.6,1078.9 L699.1,1078.2 L700.6,1077.3 L701.9,1076.5 L703.3,1075.7 L704.7,1075.0 L706.1,1074.5 L707.8,1074.3 L709.5,1074.4 L711.2,1074.7 L712.9,1074.8 L714.6,1074.5 L716.3,1073.5 L717.1,1072.6 L718.0,1071.5 L718.8,1070.2 L719.7,1068.8 L720.5,1067.2 L721.4,1065.6 L722.2,1063.9 L723.1,1062.3 L723.9,1060.8 L724.8,1059.4 L725.6,1058.1 L726.5,1057.1 L727.9,1055.7 L729.3,1054.6 L730.7,1053.7 L732.1,1053.0 L733.6,1052.5 L735.1,1052.2 L736.8,1052.0 L738.2,1051.9 L739.7,1052.0 L741.2,1052.2 L742.8,1052.4 L744.4,1052.8 L746.0,1053.2 L747.7,1053.8 L749.4,1054.4 L751.1,1055.1 L752.4,1055.7 L753.7,1056.4 L755.0,1057.1 L756.3,1058.0 L757.6,1058.8 L758.9,1059.7 L760.3,1060.7 L761.7,1061.6 L763.1,1062.6 L764.5,1063.5 L766.0,1064.4 L767.5,1065.3 L768.8,1066.0 L770.2,1066.8 L771.6,1067.6 L773.1,1068.4 L774.5,1069.1 L776.0,1069.9 L777.5,1070.7 L779.0,1071.5 L780.5,1072.2 L782.0,1073.0 L783.5,1073.7 L785.0,1074.3 L786.5,1075.0 L788.0,1075.6 L789.5,1076.2 L791.0,1076.8 L792.5,1077.4 L793.9,1077.9 L795.3,1078.4 L796.8,1078.9 L798.2,1079.3 L799.7,1079.7 L801.3,1080.2 L802.9,1080.6 L804.6,1081.0 L806.5,1081.3 L808.4,1081.7 L809.8,1081.9 L811.3,1082.2 L812.9,1082.4 L814.5,1082.6 L816.1,1082.8 L817.8,1082.9 L819.6,1083.1 L821.4,1083.3 L823.1,1083.4 L824.9,1083.6 L826.7,1083.7 L828.5,1083.9 L830.3,1084.0 L832.0,1084.2 L833.7,1084.3 L835.4,1084.5 L837.0,1084.7 L838.5,1084.8 L840.0,1085.0 L841.9,1085.2 L843.6,1084.9 L845.1,1084.9 L846.6,1085.4 L848.0,1086.1 L849.4,1087.2 L850.7,1087.9 L852.1,1087.9 L853.6,1087.8 L855.1,1088.0 L856.8,1088.7 L858.6,1088.8 L860.7,1088.4 L862.9,1088.3 L864.2,1088.8 L865.5,1088.8 L866.8,1088.7 L868.2,1089.5 L869.7,1090.7 L871.2,1091.4 L872.8,1090.7 L874.3,1090.0 L876.0,1091.4 L877.6,1092.6 L879.3,1092.1 L881.0,1091.9 L882.7,1093.1 L884.4,1093.1 L886.1,1091.6 L887.8,1091.3 L889.5,1091.7 L891.3,1092.0 L893.0,1093.0 L894.7,1094.5 L896.3,1095.0 L898.0,1094.9 L899.7,1095.0 L901.3,1094.7 L902.8,1095.0 L904.4,1095.6 L905.9,1095.4 L907.6,1095.7 L909.4,1095.9 L911.1,1094.9 L912.7,1094.6 L914.4,1095.4 L916.1,1095.7 L917.7,1095.9 L919.4,1095.1 L921.0,1094.9 L922.6,1096.3 L924.2,1096.4 L925.8,1095.4 L927.4,1094.9 L929.0,1095.4 L930.6,1095.7 L932.2,1095.6 L933.7,1095.7 L935.3,1095.0 L936.9,1094.9 L938.4,1095.5 L940.0,1095.6 L941.5,1095.9 L943.1,1096.4 L944.8,1096.2 L946.5,1096.5 L948.2,1097.5 L949.9,1097.9 L951.5,1098.0 L953.2,1098.3 L954.9,1098.1 L956.5,1097.4 L958.2,1097.7 L959.8,1098.2 L961.5,1098.3 L963.1,1099.8 L964.7,1102.0 L966.4,1102.3 L968.0,1101.8 L969.6,1101.9 L971.2,1101.8 L972.8,1101.9 L974.3,1102.8 L975.9,1103.2 L977.5,1102.9 L979.2,1103.1 L980.9,1104.0 L982.5,1104.3 L984.2,1103.2 L985.8,1102.1 L987.4,1102.1 L988.9,1102.3 L990.5,1102.6 L992.1,1103.0 L993.7,1103.1 L995.3,1103.0 L996.9,1103.2 L998.5,1102.9 L1000.2,1102.4 L1001.9,1103.3 L1003.6,1104.3 L1005.3,1103.9 L1007.1,1104.1 L1009.0,1105.0 L1010.5,1104.8 L1012.0,1104.4 L1013.6,1105.0 L1015.2,1105.1 L1016.9,1106.0 L1018.6,1107.5 L1020.3,1107.7 L1022.1,1107.6 L1023.9,1107.7 L1025.7,1107.9 L1027.4,1108.6 L1029.2,1109.4 L1031.0,1109.7 L1032.8,1109.8 L1034.5,1109.9 L1036.2,1109.7 L1037.9,1109.9 L1039.5,1110.4 L1041.1,1111.6 L1042.6,1112.4 L1044.0,1111.8 L1045.4,1111.4 L1046.7,1112.0 L1048.0,1112.6 L1049.1,1112.5 L1051.6,1111.9 L1053.3,1111.7 L1054.4,1111.1 L1055.2,1110.1 L1055.9,1109.5 L1056.8,1108.8 L1058.2,1108.0 L1060.3,1108.2 L1063.4,1108.2 L1064.5,1107.8 L1065.7,1108.9 L1066.9,1110.2 L1068.3,1110.6 L1069.7,1111.1 L1071.2,1110.7 L1072.8,1109.7 L1074.4,1109.5 L1076.1,1109.2 L1077.8,1109.7 L1079.6,1110.7 L1081.4,1110.5 L1083.2,1110.8 L1085.0,1112.0 L1086.9,1112.5 L1088.8,1112.1 L1090.7,1111.8 L1092.5,1111.8 L1094.4,1112.7 L1096.3,1113.3 L1098.1,1112.5 L1099.9,1113.0 L1101.6,1114.8 L1103.4,1114.8 L1105.0,1113.9 L1106.7,1113.6 L1108.2,1114.0 L1109.7,1114.8 L1111.1,1116.0 L1112.5,1117.1 L1113.7,1117.3 L1114.9,1115.8 L1117.7,1114.9 L1120.1,1115.5 L1122.2,1116.8 L1124.1,1117.4 L1125.7,1117.4 L1127.2,1117.3 L1128.5,1117.0 L1129.8,1116.8 L1131.0,1116.5 L1132.3,1116.5 L1133.6,1116.7 L1135.0,1115.6 L1136.6,1113.6 L1138.3,1114.1 L1139.9,1113.4 L1141.5,1112.5 L1143.0,1113.4 L1144.5,1111.3 L1145.9,1108.3 L1147.3,1107.6 L1148.5,1106.7 L1149.7,1106.3 L1150.7,1107.3 L1152.0,1107.9 L1152.9,1107.3 L1153.6,1108.2 L1154.2,1110.5 L1154.7,1112.6 L1155.4,1113.7 L1156.4,1113.8 L1157.8,1116.2 L1159.5,1118.9 L1161.3,1119.1 L1163.1,1117.4 L1164.9,1115.8 L1166.5,1117.3 L1167.8,1118.5 L1169.0,1116.1 L1170.2,1112.7 L1171.4,1111.9 L1172.6,1111.8 L1173.8,1109.9 L1175.1,1107.6 L1176.7,1106.8 L1178.4,1107.1 L1180.1,1105.6 L1181.8,1103.1 L1183.5,1103.2 L1185.1,1104.7 L1185.7,1104.4 L1186.3,1105.4 L1186.9,1108.2 L1187.5,1109.9 L1188.0,1110.2 L1188.5,1111.5 L1189.0,1113.7 L1189.6,1115.4 L1190.2,1117.2 L1190.8,1120.2 L1191.4,1122.1 L1192.1,1123.3 L1192.9,1125.9 L1193.7,1126.2 L1194.8,1124.3 L1195.9,1124.4 L1197.1,1124.9 L1198.4,1123.8 L1199.7,1122.4 L1201.0,1120.0 L1202.4,1118.2 L1203.8,1116.4 L1205.2,1114.3 L1206.6,1115.5 L1208.0,1117.1 L1209.4,1117.5 L1210.9,1118.2 L1212.4,1117.9 L1213.8,1117.1 L1215.3,1117.3 L1216.8,1117.8 L1218.3,1119.0 L1219.9,1121.5 L1221.5,1121.9 L1223.1,1121.5 L1224.8,1122.8 L1226.6,1123.0 L1228.1,1124.0 L1229.6,1125.9 L1231.2,1125.0 L1232.8,1122.9 L1234.5,1122.5 L1236.2,1123.2 L1237.9,1122.3 L1239.6,1121.0 L1241.3,1120.5 L1243.0,1119.2 L1244.7,1119.1 L1246.3,1120.3 L1247.9,1120.8 L1249.5,1120.2 L1251.2,1117.2 L1252.8,1116.2 L1254.4,1117.9 L1256.1,1117.1 L1257.7,1114.8 L1259.3,1113.8 L1260.9,1114.0 L1262.4,1113.2 L1263.9,1112.5 L1265.4,1113.5 L1266.9,1112.8 L1268.3,1110.6 L1269.6,1111.0 L1270.8,1111.4 L1272.0,1111.0 L1273.1,1112.0 L1274.2,1114.6 L1275.3,1117.8 L1276.3,1119.4 L1277.3,1120.6 L1278.3,1121.5 L1279.2,1121.4 L1280.2,1123.3 L1281.1,1126.7 L1282.1,1128.2 L1283.0,1127.1 L1283.9,1127.5 L1285.7,1130.8 L1287.4,1131.5 L1289.1,1130.2 L1290.7,1130.5 L1292.2,1131.4 L1293.8,1133.4 L1295.3,1134.6 L1296.4,1132.0 L1297.4,1129.2 L1298.5,1128.2 L1299.5,1125.7 L1300.6,1123.5 L1301.6,1123.3 L1302.5,1121.9 L1303.5,1119.8 L1304.4,1119.4 L1305.3,1120.3 L1306.1,1121.0 L1306.7,1120.4 L1307.0,1120.4 L1307.4,1122.4 L1307.9,1125.4 L1308.9,1127.4 L1310.3,1128.3 L1312.5,1130.4 L1313.6,1131.1 L1314.8,1131.2 L1316.1,1132.2 L1317.6,1132.5 L1319.2,1132.5 L1320.9,1132.8 L1322.6,1133.1 L1324.4,1133.9 L1326.2,1135.2 L1328.1,1134.8 L1330.0,1133.7 L1331.9,1134.5 L1333.8,1135.9 L1335.7,1136.2 L1337.5,1136.3 L1339.3,1136.1 L1341.0,1136.2 L1342.7,1136.8 L1344.2,1137.1 L1345.6,1136.7 L1346.9,1137.1 L1349.3,1137.9 L1351.2,1137.2 L1352.9,1135.9 L1354.4,1136.4 L1355.8,1137.5 L1357.2,1137.0 L1358.6,1135.6 L1360.1,1134.9 L1361.9,1134.9 L1364.0,1135.5 L1365.3,1135.2 L1366.5,1133.9 L1367.8,1133.7 L1369.1,1134.6 L1370.3,1134.9 L1371.7,1135.4 L1373.0,1137.1 L1374.4,1138.0 L1375.8,1137.7 L1377.4,1137.2 L1378.9,1138.0 L1380.6,1139.2 L1382.3,1139.9 L1384.2,1140.4 L1386.1,1140.3 L1388.2,1140.3 L1390.4,1140.1 L1392.7,1139.3 L1394.0,1139.3 L1395.3,1140.4 L1396.7,1140.8 L1398.2,1140.9 L1399.7,1141.0 L1401.3,1140.9 L1403.0,1141.6 L1404.6,1142.1 L1406.4,1142.5 L1408.1,1142.6 L1409.9,1142.0 L1411.7,1141.0 L1413.6,1140.3 L1415.4,1141.0 L1417.3,1142.3 L1419.2,1143.1 L1421.1,1143.2 L1422.9,1142.5 L1424.8,1142.0 L1426.7,1141.9 L1428.5,1142.6 L1430.3,1142.9 L1432.1,1142.5 L1433.9,1142.5 L1435.6,1142.3 L1437.3,1142.0 L1439.0,1142.5 L1440.5,1143.5 L1442.1,1143.5 L1443.6,1143.2 L1445.0,1143.0 L1446.3,1142.6 L1447.6,1142.6 L1448.8,1143.1 L1449.9,1143.4 L1453.0,1142.9 L1455.5,1142.6 L1457.5,1142.8 L1459.2,1143.4 L1460.6,1143.2 L1461.7,1142.5 L1462.7,1142.0 L1463.7,1141.7 L1464.8,1141.5 L1466.0,1141.2 L1467.4,1141.0 L1469.2,1140.8 L1471.0,1140.5 L1472.8,1140.3 L1474.6,1140.0 L1476.4,1139.8 L1478.2,1139.5 L1479.9,1139.3 L1481.6,1139.0 L1483.2,1138.7 L1484.7,1138.4 L1486.7,1137.9 L1488.5,1137.2 L1490.2,1136.6 L1491.8,1135.9 L1493.4,1135.4 L1495.1,1135.0 L1496.9,1134.9 L1498.3,1135.0 L1499.8,1135.3 L1501.2,1135.7 L1502.7,1136.1 L1504.2,1136.7 L1505.8,1137.3 L1507.4,1137.9 L1509.0,1138.6 L1510.7,1139.2 L1512.2,1139.8 L1513.8,1140.4 L1515.4,1141.1 L1517.1,1141.8 L1518.9,1142.5 L1520.6,1143.3 L1522.3,1144.0 L1523.9,1144.7 L1525.4,1145.3 L1526.8,1145.8 L1528.1,1146.2 L1530.3,1146.8 L1532.0,1147.0 L1533.4,1147.0 L1534.9,1147.0 L1536.8,1147.0 L1538.2,1147.0 L1539.7,1147.0 L1541.3,1146.9 L1543.0,1146.8 L1544.8,1146.8 L1546.6,1146.8 L1548.6,1146.8 L1550.7,1147.0 L1552.1,1147.2 L1553.6,1147.4 L1555.1,1147.6 L1556.7,1147.9 L1558.4,1148.2 L1560.0,1148.5 L1561.7,1148.8 L1563.4,1149.1 L1565.1,1149.4 L1566.8,1149.7 L1568.4,1150.0 L1570.0,1150.3 L1571.5,1150.5 L1573.4,1150.8 L1575.3,1151.1 L1577.1,1151.4 L1578.9,1151.8 L1580.7,1152.1 L1582.4,1152.3 L1584.1,1152.5 L1585.7,1152.5 L1587.3,1152.5 L1588.8,1152.3 L1590.6,1151.9 L1592.3,1151.3 L1593.8,1150.5 L1595.3,1149.7 L1596.8,1148.7 L1598.2,1147.6 L1599.6,1146.5 L1601.0,1145.3 L1602.2,1144.1 L1603.4,1142.8 L1604.6,1141.3 L1605.7,1139.7 L1606.9,1138.2 L1608.0,1136.7 L1609.1,1135.3 L1610.3,1134.1 L1611.4,1133.2 L1613.2,1132.4 L1615.0,1132.2 L1616.8,1132.2 L1618.5,1132.3 L1620.2,1132.1 L1621.8,1131.4 L1622.9,1130.3 L1623.9,1128.7 L1624.8,1126.8 L1625.8,1124.8 L1626.7,1123.0 L1627.6,1121.5 L1628.6,1120.5 L1629.6,1120.2 L1630.5,1120.6 L1631.4,1121.5 L1632.3,1122.8 L1633.2,1124.4 L1634.1,1126.1 L1635.1,1128.0 L1636.1,1129.8 L1637.1,1131.4 L1638.1,1132.9 L1639.2,1134.0 L1640.6,1135.1 L1642.2,1136.1 L1643.8,1137.0 L1645.4,1137.7 L1647.0,1138.2 L1648.6,1138.5 L1650.0,1138.6 L1651.3,1138.4 L1652.6,1137.8 L1653.7,1136.8 L1654.7,1135.5 L1655.6,1134.0 L1656.5,1132.3 L1657.3,1130.6 L1658.2,1128.8 L1658.8,1127.3 L1659.4,1125.6 L1660.0,1123.8 L1660.5,1121.9 L1661.0,1120.0 L1661.5,1118.2 L1662.1,1116.5 L1662.8,1115.2 L1663.5,1114.1 L1665.0,1112.9 L1666.8,1112.4 L1668.7,1112.3 L1670.5,1112.7 L1672.1,1113.2 L1673.5,1114.4 L1674.7,1116.3 L1675.9,1118.3 L1677.0,1119.8 L1678.2,1120.2 L1679.1,1119.5 L1679.9,1118.1 L1680.8,1116.3 L1681.6,1114.3 L1682.5,1112.4 L1683.4,1110.8 L1684.3,1109.7 L1686.0,1109.4 L1687.8,1110.1 L1689.5,1110.9 L1691.2,1110.6 L1692.1,1109.5 L1693.0,1107.8 L1693.9,1105.8 L1694.7,1103.7 L1695.6,1101.9 L1696.4,1100.6 L1697.3,1100.2 L1698.1,1100.6 L1698.8,1101.4 L1699.6,1102.7 L1700.3,1104.3 L1701.1,1106.1 L1701.8,1107.9 L1702.6,1109.8 L1703.4,1111.5 L1704.0,1112.9 L1704.7,1114.5 L1705.4,1116.3 L1706.0,1118.0 L1706.7,1119.8 L1707.4,1121.5 L1708.1,1123.1 L1708.8,1124.4 L1709.5,1125.5 L1710.3,1126.2 L1711.5,1126.5 L1712.7,1126.0 L1714.0,1124.9 L1715.4,1123.7 L1717.0,1122.5 L1719.0,1121.9 L1720.4,1121.8 L1722.0,1121.7 L1723.7,1121.7 L1725.5,1121.8 L1727.4,1121.9 L1729.3,1122.1 L1731.2,1122.2 L1733.0,1122.4 L1734.7,1122.6 L1736.3,1122.8 L1738.3,1123.1 L1740.2,1123.4 L1742.0,1123.7 L1743.7,1124.1 L1745.3,1124.5 L1746.9,1124.9 L1748.5,1125.4 L1750.1,1126.0 L1751.7,1126.8 L1753.3,1127.7 L1754.8,1128.5 L1756.2,1129.2 L1757.6,1129.6 L1758.9,1129.7 L1760.5,1128.9 L1761.9,1127.2 L1763.2,1125.4 L1764.5,1123.9 L1765.8,1123.6 L1766.8,1124.2 L1767.8,1125.5 L1768.9,1127.1 L1769.9,1128.9 L1770.9,1130.8 L1771.9,1132.5 L1772.8,1134.0 L1774.0,1135.9 L1775.0,1138.0 L1776.0,1139.7 L1777.0,1140.9 L1778.0,1141.0 L1778.7,1140.6 L1779.3,1140.1 L1780.0,1139.4 L1780.6,1138.3 L1781.2,1136.8 L1781.9,1134.7 L1782.5,1132.1 L1783.2,1128.8 L1783.4,1127.7 L1783.6,1126.5 L1783.7,1125.3 L1783.9,1123.9 L1784.1,1122.4 L1784.3,1120.9 L1784.5,1119.3 L1784.7,1117.6 L1784.9,1115.8 L1785.0,1114.1 L1785.2,1112.3 L1785.4,1110.4 L1785.6,1108.5 L1785.8,1106.7 L1786.0,1104.8 L1786.2,1102.9 L1786.3,1101.0 L1786.5,1099.1 L1786.7,1097.3 L1786.9,1095.5 L1787.1,1093.7 L1787.2,1092.0 L1787.4,1090.4 L1787.6,1088.8 L1787.8,1087.2 L1787.9,1085.8 L1788.1,1084.4 L1788.2,1083.2 L1788.4,1082.0 L1788.8,1079.2 L1789.1,1076.5 L1789.5,1074.1 L1789.8,1071.9 L1790.1,1070.0 L1790.4,1068.3 L1790.7,1066.9 L1791.0,1065.9 L1791.4,1065.1 L1791.8,1064.7 L1792.2,1064.7 L1792.6,1065.0 L1793.0,1065.8 L1793.5,1066.9 L1794.0,1068.2 L1794.5,1069.8 L1795.0,1071.6 L1795.5,1073.6 L1796.0,1075.6 L1796.6,1077.7 L1797.1,1079.8 L1797.6,1081.8 L1798.2,1083.8 L1798.7,1085.6 L1799.2,1087.2 L1799.6,1089.1 L1800.1,1091.2 L1800.5,1093.4 L1801.0,1095.6 L1801.4,1097.9 L1801.9,1100.1 L1802.4,1102.2 L1802.9,1104.2 L1803.3,1106.0 L1803.8,1107.5 L1804.3,1108.6 L1804.7,1109.4 L1805.2,1109.7 L1805.7,1109.5 L1806.0,1109.1 L1806.3,1108.5 L1806.7,1107.6 L1807.0,1106.6 L1807.3,1105.4 L1807.6,1104.0 L1808.0,1102.5 L1808.3,1100.8 L1808.6,1099.1 L1809.0,1097.2 L1809.3,1095.3 L1809.6,1093.3 L1810.0,1091.3 L1810.3,1089.2 L1810.6,1087.2 L1810.9,1085.1 L1811.3,1083.0 L1811.6,1081.0 L1811.9,1079.0 L1812.2,1077.1 L1812.4,1075.3 L1812.7,1073.6 L1813.0,1072.0 L1813.3,1070.3 L1813.6,1068.6 L1813.8,1066.9 L1814.1,1065.2 L1814.3,1063.6 L1814.6,1061.9 L1814.8,1060.2 L1815.0,1058.6 L1815.3,1056.9 L1815.5,1055.3 L1815.7,1053.7 L1815.9,1052.1 L1816.1,1050.5 L1816.3,1048.9 L1816.6,1047.4 L1816.8,1045.8 L1817.0,1044.3 L1817.3,1042.9 L1817.5,1041.4 L1817.7,1040.0 L1818.0,1038.6 L1818.4,1036.6 L1818.7,1034.6 L1819.1,1032.5 L1819.5,1030.4 L1819.9,1028.3 L1820.3,1026.3 L1820.7,1024.3 L1821.1,1022.5 L1821.5,1020.7 L1821.9,1019.1 L1822.3,1017.7 L1822.7,1016.5 L1823.2,1015.5 L1823.6,1014.8 L1824.0,1014.4 L1824.6,1014.4 L1825.2,1015.0 L1825.8,1016.0 L1826.4,1017.5 L1827.1,1019.3 L1827.7,1021.3 L1828.3,1023.4 L1829.0,1025.5 L1829.6,1027.6 L1830.2,1029.4 L1830.8,1031.0 L1831.5,1032.9 L1832.3,1035.2 L1833.0,1037.5 L1833.7,1039.9 L1834.4,1042.1 L1835.1,1043.9 L1835.8,1045.1 L1836.5,1045.7 L1837.2,1045.5 L1837.6,1045.0 L1838.0,1044.4 L1838.3,1043.5 L1838.7,1042.5 L1839.1,1041.4 L1839.5,1040.0 L1839.8,1038.6 L1840.2,1037.0 L1840.6,1035.3 L1841.0,1033.5 L1841.3,1031.5 L1841.7,1029.5 L1842.1,1027.3 L1842.4,1025.1 L1842.8,1022.8 L1843.2,1020.4 L1843.5,1018.0 L1843.7,1016.8 L1843.8,1015.5 L1844.0,1014.2 L1844.2,1012.9 L1844.3,1011.5 L1844.5,1010.1 L1844.6,1008.6 L1844.8,1007.2 L1845.0,1005.7 L1845.1,1004.1 L1845.3,1002.6 L1845.4,1001.0 L1845.6,999.4 L1845.7,997.7 L1845.9,996.1 L1846.0,994.4 L1846.2,992.7 L1846.4,991.0 L1846.5,989.3 L1846.7,987.6 L1846.8,985.9 L1847.0,984.2 L1847.1,982.4 L1847.3,980.7 L1847.4,978.9 L1847.6,977.2 L1847.7,975.5 L1847.9,973.7 L1848.0,972.0 L1848.2,970.3 L1848.4,968.6 L1848.5,966.9 L1848.7,965.2 L1848.8,963.5 L1849.0,961.9 L1849.2,960.3 L1849.3,958.6 L1849.5,956.9 L1849.6,955.1 L1849.8,953.3 L1850.0,951.4 L1850.1,949.6 L1850.3,947.7 L1850.5,945.7 L1850.6,943.8 L1850.8,941.9 L1851.0,939.9 L1851.2,937.9 L1851.3,936.0 L1851.5,934.0 L1851.7,932.1 L1851.8,930.2 L1852.0,928.3 L1852.2,926.4 L1852.3,924.6 L1852.5,922.8 L1852.7,921.0 L1852.8,919.3 L1853.0,917.6 L1853.2,916.0 L1853.3,914.5 L1853.5,913.0 L1853.7,911.6 L1853.8,910.2 L1854.0,909.0 L1854.1,907.8 L1854.3,906.7 L1854.5,905.7 L1854.6,904.9 L1854.8,904.1 L1854.9,903.4 L1855.5,901.7 L1856.0,901.4 L1856.5,902.2 L1857.1,903.9 L1857.6,906.2 L1858.0,909.0 L1858.5,911.9 L1859.0,914.8 L1859.5,917.4 L1859.8,918.8 L1860.0,920.4 L1860.2,922.3 L1860.4,924.3 L1860.7,926.5 L1860.9,928.7 L1861.1,930.9 L1861.3,933.2 L1861.5,935.4 L1861.8,937.5 L1862.0,939.4 L1862.2,941.2 L1862.5,942.7 L1862.8,943.9 L1863.1,944.8 L1863.4,945.4 L1863.7,945.5 L1864.0,945.2 L1864.3,944.5 L1864.7,943.4 L1865.0,942.1 L1865.4,940.4 L1865.7,938.6 L1866.1,936.5 L1866.5,934.4 L1866.9,932.1 L1867.3,929.8 L1867.7,927.5 L1868.1,925.2 L1868.5,923.0 L1868.9,921.0 L1869.3,919.1 L1869.7,917.4 L1870.1,916.0 L1870.5,915.0 L1870.8,914.2 L1871.2,913.9 L1871.6,914.0 L1872.0,914.4 L1872.5,915.3 L1872.9,916.4 L1873.3,917.8 L1873.7,919.4 L1874.1,921.2 L1874.5,923.2 L1874.9,925.3 L1875.3,927.4 L1875.7,929.6 L1876.1,931.7 L1876.6,933.8 L1877.0,935.8 L1877.4,937.7 L1877.8,939.3 L1878.2,940.8 L1878.8,942.7 L1879.4,944.5 L1880.0,946.3 L1880.6,948.0 L1881.2,949.7 L1881.8,951.3 L1882.3,952.9 L1882.9,954.3 L1883.5,955.8 L1884.1,957.1 L1884.7,958.3 L1885.3,959.5 L1886.4,961.4 L1887.6,962.7 L1888.7,963.7 L1889.8,964.7 L1891.0,965.9 L1892.3,967.7 L1893.0,968.8 L1893.7,969.8 L1894.5,970.8 L1895.3,971.9 L1896.1,973.0 L1896.9,974.2 L1897.8,975.6 L1898.6,977.1 L1899.4,978.8 L1900.2,980.7 L1900.9,982.9 L1901.6,985.3 L1901.9,986.4 L1902.2,987.7 L1902.5,988.9 L1902.7,990.3 L1903.0,991.7 L1903.3,993.2 L1903.5,994.7 L1903.8,996.2 L1904.0,997.8 L1904.3,999.5 L1904.6,1001.1 L1904.8,1002.8 L1905.0,1004.5 L1905.3,1006.3 L1905.5,1008.0 L1905.8,1009.8 L1906.0,1011.5 L1906.3,1013.3 L1906.5,1015.0 L1906.7,1016.7 L1907.0,1018.5 L1907.2,1020.2 L1907.5,1021.8 L1907.7,1023.5 L1908.0,1025.1 L1908.2,1026.7 L1908.4,1028.2 L1908.7,1029.7 L1909.0,1031.5 L1909.3,1033.2 L1909.6,1035.0 L1909.9,1036.7 L1910.2,1038.5 L1910.5,1040.2 L1910.8,1041.9 L1911.1,1043.6 L1911.3,1045.3 L1911.6,1046.9 L1911.9,1048.6 L1912.2,1050.2 L1912.5,1051.9 L1912.8,1053.5 L1913.1,1055.1 L1913.4,1056.6 L1913.7,1058.2 L1914.0,1059.7 L1914.3,1061.2 L1914.7,1062.7 L1915.0,1064.2 L1915.3,1065.7 L1915.7,1067.1 L1916.2,1068.9 L1916.6,1070.7 L1917.1,1072.4 L1917.5,1074.1 L1918.0,1075.8 L1918.5,1077.4 L1918.9,1079.0 L1919.4,1080.6 L1919.9,1082.2 L1920.4,1083.7 L1920.9,1085.2 L1921.5,1086.7 L1922.0,1088.2 L1922.6,1089.6 L1923.1,1091.0 L1923.7,1092.4 L1924.4,1093.8 L1925.0,1095.2 L1925.8,1096.9 L1926.6,1098.5 L1927.5,1100.2 L1928.4,1101.9 L1929.3,1103.5 L1930.3,1105.2 L1931.3,1106.8 L1932.2,1108.7 L1933.2,1110.1 L1934.2,1110.9 L1935.2,1112.4 L1936.2,1114.2 L1937.2,1114.9 L1938.2,1115.5 L1939.1,1116.2 L1940.9,1117.5 L1942.6,1118.3 L1944.4,1118.0 L1946.1,1116.8 L1947.9,1115.7 L1949.6,1115.1 L1951.4,1115.2 L1953.1,1116.1 L1954.1,1116.9 L1955.1,1118.1 L1956.0,1120.0 L1957.0,1121.6 L1957.9,1123.1 L1958.9,1124.5 L1959.8,1125.4 L1960.8,1126.4 L1961.8,1128.0 L1962.8,1129.5 L1963.8,1131.0 L1964.9,1132.6 L1966.0,1134.2 L1967.1,1135.4 L1968.4,1136.3 L1969.7,1137.0 L1971.1,1137.8 L1972.5,1138.5 L1973.9,1139.5 L1975.4,1140.7 L1976.9,1141.5 L1978.4,1142.6 L1979.9,1143.9 L1981.4,1144.3 L1982.9,1144.1 L1984.3,1143.9 L1985.8,1143.9 L1987.4,1144.0 L1989.0,1143.6 L1990.6,1143.2 L1992.2,1143.3 L1993.8,1142.5 L1995.4,1141.2 L1996.9,1140.2 L1998.5,1139.0 L2000.1,1138.2 L2001.6,1138.0 L2003.1,1137.8 L2004.6,1137.5 L2006.3,1137.0 L2008.0,1136.6 L2009.7,1137.1 L2011.3,1137.9 L2012.9,1138.7 L2014.5,1139.7 L2016.1,1140.6 L2017.7,1141.4 L2019.3,1142.2 L2020.9,1142.8 L2022.5,1142.8 L2024.2,1142.6 L2025.9,1143.1 L2027.6,1143.7 L2029.2,1143.6 L2030.9,1143.2 L2032.6,1143.2 L2034.2,1143.6 L2035.8,1143.6 L2037.3,1143.4 L2038.9,1143.1 L2040.5,1142.6 L2042.1,1142.7 L2043.6,1142.5 L2045.0,1141.8 L2046.5,1141.1 L2048.1,1140.2 L2049.7,1138.9 L2051.3,1137.3 L2052.1,1136.4 L2052.9,1135.3 L2053.8,1134.1 L2054.6,1132.8 L2055.5,1131.4 L2056.4,1130.0 L2057.3,1128.4 L2058.2,1126.9 L2059.0,1125.3 L2059.9,1123.6 L2060.8,1122.0 L2061.7,1120.5 L2062.6,1118.9 L2063.5,1117.5 L2064.4,1116.1 L2065.2,1114.8 L2066.1,1113.6 L2066.9,1112.5 L2067.7,1111.6 L2069.4,1110.2 L2071.0,1109.3 L2072.6,1108.8 L2074.2,1108.5 L2075.7,1108.4 L2077.3,1108.1 L2078.8,1107.7 L2080.3,1107.0 L2081.8,1105.7 L2082.6,1104.7 L2083.5,1103.5 L2084.3,1102.0 L2085.2,1100.5 L2086.0,1098.8 L2086.8,1097.0 L2087.7,1095.2 L2088.5,1093.4 L2089.3,1091.7 L2090.1,1090.0 L2090.9,1088.4 L2091.7,1087.0 L2092.4,1085.7 L2093.2,1084.7 L2093.9,1084.0 L2094.6,1083.5 L2095.8,1083.5 L2096.9,1084.5 L2097.9,1086.1 L2099.0,1088.1 L2099.9,1090.4 L2100.9,1092.5 L2101.9,1094.5 L2102.9,1096.3 L2104.0,1097.1 L2105.1,1096.6 L2106.2,1095.4 L2107.4,1094.4 L2108.5,1093.3 L2109.7,1091.9 L2110.9,1090.8 L2112.1,1089.4 L2113.3,1087.2 L2114.5,1084.8 L2115.4,1083.4 L2116.4,1082.2 L2117.3,1080.8 L2118.2,1079.0 L2119.2,1077.4 L2120.1,1076.5 L2121.1,1075.5 L2122.1,1073.7 L2123.1,1072.3 L2124.1,1071.5 L2125.1,1071.2 L2126.2,1070.3 L2127.9,1068.7 L2129.6,1067.9 L2131.5,1068.1 L2133.3,1069.0 L2135.2,1069.9 L2137.0,1070.2 L2138.7,1070.4 L2140.2,1070.9 L2142.0,1072.0 L2143.7,1072.9 L2145.2,1074.2 L2146.6,1075.3 L2148.1,1075.3 L2149.6,1075.2 L2150.4,1074.6 L2151.1,1072.9 L2151.9,1071.3 L2152.6,1069.2 L2153.4,1066.4 L2154.1,1063.9 L2154.9,1062.2 L2155.6,1060.9 L2156.4,1059.9 L2157.2,1059.2 L2158.0,1058.2 L2158.9,1057.8 L2159.6,1058.5 L2160.2,1059.4 L2160.9,1060.6 L2161.7,1061.7 L2162.4,1062.7 L2163.1,1064.6 L2163.9,1067.1 L2164.6,1068.8 L2165.4,1070.8 L2166.1,1073.4 L2166.9,1075.4 L2167.6,1076.8 L2168.4,1078.2 L2169.1,1080.0 L2169.9,1081.4 L2170.6,1082.1 L2172.3,1083.3 L2173.9,1083.5 L2175.5,1082.6 L2177.1,1081.7 L2178.8,1080.9 L2180.5,1080.3 L2182.3,1081.1 L2183.5,1082.2 L2184.7,1082.9 L2185.9,1084.0 L2187.2,1084.9 L2188.4,1085.4 L2189.7,1086.5 L2191.0,1087.8 L2192.3,1089.3 L2193.7,1090.7 L2195.0,1091.6 L2196.4,1092.8 L2197.5,1094.5 L2198.7,1095.8 L2199.8,1096.6 L2201.1,1098.0 L2202.3,1099.7 L2203.5,1100.4 L2204.8,1101.3 L2206.0,1103.0 L2207.2,1105.1 L2208.4,1106.9 L2209.6,1107.6 L2210.7,1108.0 L2211.8,1108.5 L2212.8,1108.7 L2214.5,1108.9 L2216.1,1108.9 L2217.6,1108.1 L2219.0,1106.1 L2220.4,1104.2 L2221.8,1103.3 L2223.1,1102.8 L2224.4,1102.5 L2226.4,1101.8 L2228.2,1101.2 L2230.0,1101.0 L2231.8,1101.4 L2233.8,1102.9 L2234.8,1103.9 L2235.8,1105.3 L2236.9,1106.7 L2238.0,1108.6 L2239.1,1110.9 L2240.3,1112.1 L2241.4,1112.4 L2242.5,1113.8 L2243.5,1116.1 L2244.5,1117.7 L2245.5,1118.5 L2247.2,1120.3 L2248.9,1121.9 L2250.5,1123.0 L2251.9,1124.1 L2253.1,1124.9 L2254.0,1125.6" fill="none" stroke="#061297" stroke-width="5.5" stroke-linejoin="round" stroke-linecap="round"/>
<line x1="326.0" y1="360.0" x2="329.5" y2="1190" stroke="#000" stroke-width="4.5" stroke-dasharray="5 5.05"/>
<line x1="547.5" y1="353.0" x2="549.0" y2="1190" stroke="#000" stroke-width="4.5" stroke-dasharray="5 5.05"/>
<line x1="1495.0" y1="228.0" x2="1497.0" y2="1190" stroke="#000" stroke-width="4.5" stroke-dasharray="5 5.05"/>
<line x1="1558.2" y1="124.0" x2="1557.8" y2="1190" stroke="#000" stroke-width="4.5" stroke-dasharray="5 5.05"/>
<line x1="1768.3" y1="438.5" x2="1768.2" y2="1190" stroke="#000" stroke-width="4.5" stroke-dasharray="5 5.05"/>
<line x1="1853.6" y1="251.5" x2="1851.3" y2="1190" stroke="#000" stroke-width="4.5" stroke-dasharray="5 5.05"/>
<line x1="1495.6" y1="81.2" x2="1555.5" y2="64.7" stroke="#000" stroke-width="4.3"/>
<line x1="1562.3" y1="171.4" x2="1666.7" y2="125.8" stroke="#000" stroke-width="4.3"/>
<line x1="1403.6" y1="238.2" x2="1491.4" y2="293.1" stroke="#000" stroke-width="4.3"/>
<line x1="1666.5" y1="268.6" x2="1654.2" y2="330.9" stroke="#000" stroke-width="4.3"/>
<line x1="1712.1" y1="300.2" x2="1675.3" y2="336.1" stroke="#000" stroke-width="4.3"/>
<line x1="1958.0" y1="853.3" x2="1858.1" y2="902.2" stroke="#000" stroke-width="4.3"/>
<line x1="1712.9" y1="1056.0" x2="1764.1" y2="1117.5" stroke="#000" stroke-width="4.3"/>
<line x1="250.5" y1="1023.4" x2="328.2" y2="1088.9" stroke="#000" stroke-width="4.3"/>
<line x1="672.3" y1="978.3" x2="555.6" y2="1010.1" stroke="#000" stroke-width="4.3"/>
<rect x="55.5" y="14" width="2203.5" height="5.3" fill="#000"/>
<rect x="55.5" y="14" width="5.5" height="1181.8" fill="#000"/>
<rect x="2253.5" y="14" width="5.5" height="1181.8" fill="#000"/>
<rect x="55.5" y="1189.4" width="2203.5" height="6.4" fill="#000"/>
<line x1="60.5" y1="1175" x2="60.5" y2="1206.5" stroke="#1a1a1a" stroke-width="3.8"/>
<line x1="304.4" y1="1175" x2="304.4" y2="1206.5" stroke="#1a1a1a" stroke-width="3.8"/>
<line x1="548.3" y1="1175" x2="548.3" y2="1206.5" stroke="#1a1a1a" stroke-width="3.8"/>
<line x1="792.2" y1="1175" x2="792.2" y2="1206.5" stroke="#1a1a1a" stroke-width="3.8"/>
<line x1="1036.1" y1="1175" x2="1036.1" y2="1206.5" stroke="#1a1a1a" stroke-width="3.8"/>
<line x1="1280.0" y1="1175" x2="1280.0" y2="1206.5" stroke="#1a1a1a" stroke-width="3.8"/>
<line x1="1523.9" y1="1175" x2="1523.9" y2="1206.5" stroke="#1a1a1a" stroke-width="3.8"/>
<line x1="1767.8" y1="1175" x2="1767.8" y2="1206.5" stroke="#1a1a1a" stroke-width="3.8"/>
<line x1="2011.7" y1="1175" x2="2011.7" y2="1206.5" stroke="#1a1a1a" stroke-width="3.8"/>
<line x1="2255.6" y1="1175" x2="2255.6" y2="1206.5" stroke="#1a1a1a" stroke-width="3.8"/>
<text transform="matrix(0.9252 0 0 0.9660 1562.25 76.82)" font-size="40" style="font-family:&quot;DejaVu Sans&quot;,sans-serif">1643</text>
<text transform="matrix(0.9397 0 0 0.9688 1676.49 138.22)" font-size="40" style="font-family:&quot;DejaVu Sans&quot;,sans-serif">1541</text>
<text transform="matrix(0.9406 0 0 0.9494 1299.28 241.53)" font-size="40" style="font-family:&quot;DejaVu Sans&quot;,sans-serif">1645</text>
<text transform="matrix(0.9342 0 0 0.9383 1656.41 259.51)" font-size="40" style="font-family:&quot;DejaVu Sans&quot;,sans-serif">1388</text>
<text transform="matrix(0.9225 0 0 0.9461 1714.86 297.93)" font-size="40" style="font-family:&quot;DejaVu Sans&quot;,sans-serif">1365</text>
<text transform="matrix(0.9361 0 0 0.9416 1965.20 858.21)" font-size="40" style="font-family:&quot;DejaVu Sans&quot;,sans-serif">1050</text>
<text transform="matrix(0.9364 0 0 0.9560 1615.00 1048.52)" font-size="40" style="font-family:&quot;DejaVu Sans&quot;,sans-serif">1205</text>
<text transform="matrix(0.9415 0 0 0.9527 156.48 1016.32)" font-size="40" style="font-family:&quot;DejaVu Sans&quot;,sans-serif">3550</text>
<text transform="matrix(0.9415 0 0 0.9593 680.68 988.82)" font-size="40" style="font-family:&quot;DejaVu Sans&quot;,sans-serif">3200</text>
<text transform="matrix(0.8328 0 0 0.9188 95.97 331.50)" font-size="66" style="font-family:&quot;DejaVu Sans&quot;,sans-serif">a</text>
<text transform="matrix(0.8899 0 0 0.9529 95.66 521.07)" font-size="66" style="font-family:&quot;DejaVu Sans&quot;,sans-serif">b</text>
<text transform="matrix(0.8349 0 0 0.8792 99.67 707.93)" font-size="66" style="font-family:&quot;DejaVu Sans&quot;,sans-serif">c</text>
<text transform="matrix(0.8868 0 0 0.9529 96.29 884.07)" font-size="66" style="font-family:&quot;DejaVu Sans&quot;,sans-serif">d</text>
<text transform="matrix(0.8358 0 0 0.8871 96.27 1072.72)" font-size="66" style="font-family:&quot;DejaVu Sans&quot;,sans-serif">e</text>
<text transform="matrix(0.7755 0 0 0.9211 9.65 1269.42)" font-size="47" font-weight="bold" style="font-family:&quot;DejaVu Sans&quot;,sans-serif">4000</text>
<text transform="matrix(0.7609 0 0 0.9211 254.52 1269.42)" font-size="47" font-weight="bold" style="font-family:&quot;DejaVu Sans&quot;,sans-serif">3600</text>
<text transform="matrix(0.7785 0 0 0.9211 496.87 1269.42)" font-size="47" font-weight="bold" style="font-family:&quot;DejaVu Sans&quot;,sans-serif">3200</text>
<text transform="matrix(0.7719 0 0 0.9211 741.51 1269.42)" font-size="47" font-weight="bold" style="font-family:&quot;DejaVu Sans&quot;,sans-serif">2800</text>
<text transform="matrix(0.7824 0 0 0.9211 984.47 1269.42)" font-size="47" font-weight="bold" style="font-family:&quot;DejaVu Sans&quot;,sans-serif">2400</text>
<text transform="matrix(0.7752 0 0 0.9211 1229.59 1269.42)" font-size="47" font-weight="bold" style="font-family:&quot;DejaVu Sans&quot;,sans-serif">2000</text>
<text transform="matrix(0.7692 0 0 0.9211 1473.56 1269.42)" font-size="47" font-weight="bold" style="font-family:&quot;DejaVu Sans&quot;,sans-serif">1600</text>
<text transform="matrix(0.7667 0 0 0.9211 1718.27 1269.42)" font-size="47" font-weight="bold" style="font-family:&quot;DejaVu Sans&quot;,sans-serif">1200</text>
<text transform="matrix(0.7763 0 0 0.9211 1974.67 1269.42)" font-size="47" font-weight="bold" style="font-family:&quot;DejaVu Sans&quot;,sans-serif">800</text>
<text transform="matrix(0.7701 0 0 0.9211 2219.36 1269.42)" font-size="47" font-weight="bold" style="font-family:&quot;DejaVu Sans&quot;,sans-serif">400</text>
<text transform="matrix(0.9826 0 0 1.0521 917.88 1339.80)" font-size="53" font-weight="bold">Wavenumber (cm</text>
<text transform="matrix(1.0866 0 0 0.8774 1350.54 1320.71)" font-size="33" font-weight="bold">-</text>
<text transform="matrix(0.9639 0 0 1.0637 1362.85 1322.20)" font-size="33" font-weight="bold">1</text>
<text transform="matrix(0.6252 0 0 1.0309 1385.12 1338.56)" font-size="53" font-weight="bold">)</text>
</svg></body></html>
